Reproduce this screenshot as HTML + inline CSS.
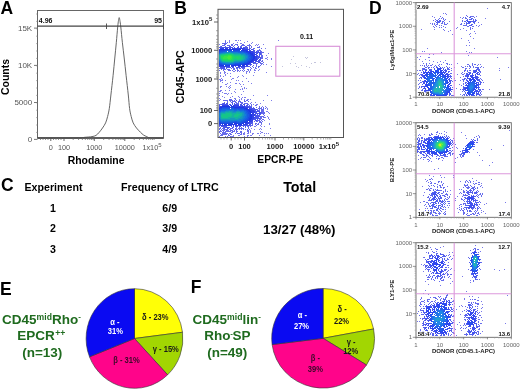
<!DOCTYPE html>
<html><head><meta charset="utf-8"><style>
html,body{margin:0;padding:0;background:#fff;}
body{width:520px;height:390px;overflow:hidden;position:relative;}
svg{position:absolute;left:0;top:0;font-family:"Liberation Sans", sans-serif;will-change:transform;}
</style></head><body>
<svg width="520" height="390" viewBox="0 0 520 390">
<g><path fill="#7d7dec" d="M225 40h1v1h-1zM229 40h1v1h-1zM235 40h1v1h-1zM236 40h1v1h-1zM238 40h1v1h-1zM240 40h1v1h-1zM278 40h1v1h-1zM229 41h1v1h-1zM247 41h1v1h-1zM229 42h1v1h-1zM237 42h1v1h-1zM244 42h1v1h-1zM252 42h1v1h-1zM233 43h1v1h-1zM240 43h1v1h-1zM241 43h1v1h-1zM251 43h1v1h-1zM219 44h1v1h-1zM256 44h1v1h-1zM258 44h1v1h-1zM263 44h1v1h-1zM255 45h1v1h-1zM257 45h1v1h-1zM259 46h1v1h-1zM265 48h1v1h-1zM268 53h1v1h-1zM266 55h1v1h-1zM267 57h1v1h-1zM265 58h1v1h-1zM266 58h1v1h-1zM271 58h1v1h-1zM267 59h1v1h-1zM271 59h1v1h-1zM263 64h1v1h-1zM266 64h1v1h-1zM271 66h1v1h-1zM256 68h1v1h-1zM254 69h1v1h-1zM259 69h1v1h-1zM250 70h1v1h-1zM254 70h1v1h-1zM255 70h1v1h-1zM258 70h1v1h-1zM233 71h1v1h-1zM234 71h1v1h-1zM237 71h1v1h-1zM239 71h1v1h-1zM243 71h1v1h-1zM246 71h1v1h-1zM247 71h1v1h-1zM249 71h1v1h-1zM220 72h1v1h-1zM224 72h1v1h-1zM225 72h1v1h-1zM246 72h1v1h-1zM249 72h1v1h-1zM254 72h1v1h-1zM266 72h1v1h-1zM220 73h1v1h-1zM224 73h1v1h-1zM227 73h1v1h-1zM230 73h1v1h-1zM246 73h1v1h-1zM225 74h1v1h-1zM220 75h1v1h-1zM225 75h1v1h-1zM242 75h1v1h-1zM253 75h1v1h-1zM220 76h1v1h-1zM223 76h1v1h-1zM230 76h1v1h-1zM238 76h1v1h-1zM243 76h1v1h-1zM237 77h1v1h-1zM221 78h1v1h-1zM232 78h1v1h-1zM233 78h1v1h-1zM246 78h1v1h-1zM219 79h1v1h-1zM220 79h1v1h-1zM222 79h1v1h-1zM231 79h1v1h-1zM220 80h1v1h-1zM221 80h1v1h-1zM222 80h1v1h-1zM225 80h1v1h-1zM236 80h1v1h-1zM238 80h1v1h-1zM220 81h1v1h-1zM242 81h1v1h-1zM248 81h1v1h-1zM222 82h1v1h-1zM230 82h1v1h-1zM227 83h1v1h-1zM235 83h1v1h-1zM236 83h1v1h-1zM239 83h1v1h-1zM251 83h1v1h-1zM225 84h1v1h-1zM226 84h1v1h-1zM240 84h1v1h-1zM243 84h1v1h-1zM230 85h1v1h-1zM220 86h1v1h-1zM221 86h1v1h-1zM226 86h1v1h-1zM229 86h1v1h-1zM241 86h1v1h-1zM220 87h1v1h-1zM228 87h1v1h-1zM230 87h1v1h-1zM244 87h1v1h-1zM229 88h1v1h-1zM242 88h1v1h-1zM244 88h1v1h-1zM246 88h1v1h-1zM235 89h1v1h-1zM240 89h1v1h-1zM242 89h1v1h-1zM220 90h1v1h-1zM221 90h1v1h-1zM225 90h1v1h-1zM229 90h1v1h-1zM219 91h1v1h-1zM220 91h1v1h-1zM234 91h1v1h-1zM243 91h1v1h-1zM222 92h1v1h-1zM235 92h1v1h-1zM219 93h1v1h-1zM224 93h1v1h-1zM225 93h1v1h-1zM226 93h1v1h-1zM228 93h1v1h-1zM231 93h1v1h-1zM227 94h1v1h-1zM241 94h1v1h-1zM219 95h1v1h-1zM253 95h1v1h-1zM267 95h1v1h-1zM222 96h1v1h-1zM232 96h1v1h-1zM238 96h1v1h-1zM224 97h1v1h-1zM230 97h1v1h-1zM239 97h1v1h-1zM242 97h1v1h-1zM244 97h1v1h-1zM245 97h1v1h-1zM219 98h1v1h-1zM234 98h1v1h-1zM235 98h1v1h-1zM241 98h1v1h-1zM220 99h1v1h-1zM239 99h1v1h-1zM241 99h1v1h-1zM244 99h1v1h-1zM247 99h1v1h-1zM248 99h1v1h-1zM250 99h1v1h-1zM219 100h1v1h-1zM263 100h1v1h-1zM271 100h1v1h-1zM251 102h1v1h-1zM255 102h1v1h-1zM260 103h1v1h-1zM253 104h1v1h-1zM256 104h1v1h-1zM257 104h1v1h-1zM256 105h1v1h-1zM262 106h1v1h-1zM265 106h1v1h-1zM266 107h1v1h-1zM267 108h1v1h-1zM267 109h1v1h-1zM266 111h1v1h-1zM267 111h1v1h-1zM268 112h1v1h-1zM269 113h1v1h-1zM267 116h1v1h-1zM265 117h1v1h-1zM268 117h1v1h-1zM268 118h1v1h-1zM269 119h1v1h-1zM264 120h1v1h-1zM269 123h1v1h-1zM261 124h1v1h-1zM269 124h1v1h-1zM260 125h1v1h-1zM254 126h1v1h-1zM255 126h1v1h-1zM261 126h1v1h-1zM264 126h1v1h-1zM251 128h1v1h-1zM260 128h1v1h-1zM270 128h1v1h-1zM254 129h1v1h-1zM259 129h1v1h-1zM261 129h1v1h-1zM250 130h1v1h-1zM250 131h1v1h-1zM260 131h1v1h-1zM244 132h1v1h-1zM250 132h1v1h-1zM261 132h1v1h-1zM262 132h1v1h-1zM244 133h1v1h-1zM247 133h1v1h-1zM248 133h1v1h-1zM252 133h1v1h-1zM253 133h1v1h-1zM257 133h1v1h-1zM258 133h1v1h-1zM260 133h1v1h-1zM264 133h1v1h-1zM266 133h1v1h-1zM268 133h1v1h-1zM243 134h1v1h-1zM244 134h1v1h-1zM252 134h1v1h-1zM233 135h1v1h-1zM238 135h1v1h-1zM239 135h1v1h-1zM247 135h1v1h-1zM248 135h1v1h-1zM250 135h1v1h-1zM251 135h1v1h-1zM259 135h1v1h-1zM264 135h1v1h-1zM270 135h1v1h-1zM219 136h1v1h-1zM231 136h1v1h-1zM232 136h1v1h-1zM233 136h1v1h-1zM244 136h1v1h-1zM247 136h1v1h-1z"/>
<path fill="#6469ea" d="M225 41h1v1h-1zM225 42h1v1h-1zM227 42h1v1h-1zM222 43h1v1h-1zM223 43h1v1h-1zM224 43h1v1h-1zM225 43h1v1h-1zM226 43h1v1h-1zM224 44h1v1h-1zM225 44h1v1h-1zM231 44h1v1h-1zM232 44h1v1h-1zM235 44h1v1h-1zM236 44h1v1h-1zM237 44h1v1h-1zM242 44h1v1h-1zM243 44h1v1h-1zM249 44h1v1h-1zM222 45h1v1h-1zM223 45h1v1h-1zM224 45h1v1h-1zM227 45h1v1h-1zM228 45h1v1h-1zM229 45h1v1h-1zM231 45h1v1h-1zM232 45h1v1h-1zM234 45h1v1h-1zM237 45h1v1h-1zM241 45h1v1h-1zM242 45h1v1h-1zM243 45h1v1h-1zM244 45h1v1h-1zM247 45h1v1h-1zM248 45h1v1h-1zM249 45h1v1h-1zM250 45h1v1h-1zM220 46h1v1h-1zM233 46h1v1h-1zM240 46h1v1h-1zM241 46h1v1h-1zM245 46h1v1h-1zM246 46h1v1h-1zM249 46h1v1h-1zM251 46h1v1h-1zM249 47h1v1h-1zM251 47h1v1h-1zM257 47h1v1h-1zM258 47h1v1h-1zM259 47h1v1h-1zM250 48h1v1h-1zM253 48h1v1h-1zM254 48h1v1h-1zM261 48h1v1h-1zM253 49h1v1h-1zM259 49h1v1h-1zM257 50h1v1h-1zM258 50h1v1h-1zM259 50h1v1h-1zM260 50h1v1h-1zM257 51h1v1h-1zM260 51h1v1h-1zM261 51h1v1h-1zM261 52h1v1h-1zM262 52h1v1h-1zM263 52h1v1h-1zM261 53h1v1h-1zM261 54h1v1h-1zM261 55h1v1h-1zM262 55h1v1h-1zM261 56h1v1h-1zM262 56h1v1h-1zM261 57h1v1h-1zM262 57h1v1h-1zM261 58h1v1h-1zM262 58h1v1h-1zM262 60h1v1h-1zM261 61h1v1h-1zM262 61h1v1h-1zM260 62h1v1h-1zM263 62h1v1h-1zM254 63h1v1h-1zM255 63h1v1h-1zM256 63h1v1h-1zM257 63h1v1h-1zM260 63h1v1h-1zM261 63h1v1h-1zM262 63h1v1h-1zM256 64h1v1h-1zM261 64h1v1h-1zM250 65h1v1h-1zM253 65h1v1h-1zM256 65h1v1h-1zM260 65h1v1h-1zM249 66h1v1h-1zM252 66h1v1h-1zM256 66h1v1h-1zM258 66h1v1h-1zM259 66h1v1h-1zM250 67h1v1h-1zM253 67h1v1h-1zM255 67h1v1h-1zM258 67h1v1h-1zM219 68h1v1h-1zM220 68h1v1h-1zM231 68h1v1h-1zM233 68h1v1h-1zM234 68h1v1h-1zM236 68h1v1h-1zM237 68h1v1h-1zM239 68h1v1h-1zM240 68h1v1h-1zM242 68h1v1h-1zM243 68h1v1h-1zM244 68h1v1h-1zM251 68h1v1h-1zM255 68h1v1h-1zM221 69h1v1h-1zM223 69h1v1h-1zM224 69h1v1h-1zM225 69h1v1h-1zM227 69h1v1h-1zM228 69h1v1h-1zM229 69h1v1h-1zM233 69h1v1h-1zM234 69h1v1h-1zM237 69h1v1h-1zM243 69h1v1h-1zM247 69h1v1h-1zM248 69h1v1h-1zM250 69h1v1h-1zM219 70h1v1h-1zM223 70h1v1h-1zM228 70h1v1h-1zM229 70h1v1h-1zM230 70h1v1h-1zM232 70h1v1h-1zM235 70h1v1h-1zM237 70h1v1h-1zM238 70h1v1h-1zM240 70h1v1h-1zM242 70h1v1h-1zM244 70h1v1h-1zM248 70h1v1h-1zM224 71h1v1h-1zM229 99h1v1h-1zM230 99h1v1h-1zM231 99h1v1h-1zM235 99h1v1h-1zM223 100h1v1h-1zM224 100h1v1h-1zM225 100h1v1h-1zM226 100h1v1h-1zM227 100h1v1h-1zM229 100h1v1h-1zM230 100h1v1h-1zM231 100h1v1h-1zM232 100h1v1h-1zM234 100h1v1h-1zM236 100h1v1h-1zM239 100h1v1h-1zM244 100h1v1h-1zM246 100h1v1h-1zM247 100h1v1h-1zM227 101h1v1h-1zM230 101h1v1h-1zM232 101h1v1h-1zM233 101h1v1h-1zM234 101h1v1h-1zM235 101h1v1h-1zM238 101h1v1h-1zM239 101h1v1h-1zM240 101h1v1h-1zM244 101h1v1h-1zM245 101h1v1h-1zM248 101h1v1h-1zM224 102h1v1h-1zM227 102h1v1h-1zM231 102h1v1h-1zM232 102h1v1h-1zM235 102h1v1h-1zM236 102h1v1h-1zM238 102h1v1h-1zM240 102h1v1h-1zM241 102h1v1h-1zM242 102h1v1h-1zM222 103h1v1h-1zM236 103h1v1h-1zM237 103h1v1h-1zM238 103h1v1h-1zM241 103h1v1h-1zM242 103h1v1h-1zM244 103h1v1h-1zM245 103h1v1h-1zM246 103h1v1h-1zM247 103h1v1h-1zM250 103h1v1h-1zM219 104h1v1h-1zM220 104h1v1h-1zM247 104h1v1h-1zM248 104h1v1h-1zM251 104h1v1h-1zM249 105h1v1h-1zM251 105h1v1h-1zM255 105h1v1h-1zM250 106h1v1h-1zM251 106h1v1h-1zM259 106h1v1h-1zM253 107h1v1h-1zM256 107h1v1h-1zM259 107h1v1h-1zM261 107h1v1h-1zM263 107h1v1h-1zM258 108h1v1h-1zM259 108h1v1h-1zM260 108h1v1h-1zM261 108h1v1h-1zM263 108h1v1h-1zM265 108h1v1h-1zM257 109h1v1h-1zM259 109h1v1h-1zM261 109h1v1h-1zM262 109h1v1h-1zM263 109h1v1h-1zM258 110h1v1h-1zM259 110h1v1h-1zM261 110h1v1h-1zM262 110h1v1h-1zM263 110h1v1h-1zM261 111h1v1h-1zM262 111h1v1h-1zM263 111h1v1h-1zM262 112h1v1h-1zM263 112h1v1h-1zM264 112h1v1h-1zM261 113h1v1h-1zM262 113h1v1h-1zM263 113h1v1h-1zM264 113h1v1h-1zM263 114h1v1h-1zM264 115h1v1h-1zM260 116h1v1h-1zM261 116h1v1h-1zM262 116h1v1h-1zM263 116h1v1h-1zM260 117h1v1h-1zM261 117h1v1h-1zM263 117h1v1h-1zM264 117h1v1h-1zM260 118h1v1h-1zM261 118h1v1h-1zM259 119h1v1h-1zM260 119h1v1h-1zM262 119h1v1h-1zM263 119h1v1h-1zM257 120h1v1h-1zM258 120h1v1h-1zM259 120h1v1h-1zM261 120h1v1h-1zM254 121h1v1h-1zM256 121h1v1h-1zM257 121h1v1h-1zM259 121h1v1h-1zM260 121h1v1h-1zM262 121h1v1h-1zM259 122h1v1h-1zM260 122h1v1h-1zM261 122h1v1h-1zM252 123h1v1h-1zM255 123h1v1h-1zM256 123h1v1h-1zM258 123h1v1h-1zM261 123h1v1h-1zM252 124h1v1h-1zM255 124h1v1h-1zM257 124h1v1h-1zM258 124h1v1h-1zM250 125h1v1h-1zM251 125h1v1h-1zM252 125h1v1h-1zM256 125h1v1h-1zM219 126h1v1h-1zM247 126h1v1h-1zM248 126h1v1h-1zM250 126h1v1h-1zM220 127h1v1h-1zM233 127h1v1h-1zM236 127h1v1h-1zM239 127h1v1h-1zM241 127h1v1h-1zM245 127h1v1h-1zM248 127h1v1h-1zM219 128h1v1h-1zM220 128h1v1h-1zM222 128h1v1h-1zM223 128h1v1h-1zM228 128h1v1h-1zM230 128h1v1h-1zM231 128h1v1h-1zM232 128h1v1h-1zM235 128h1v1h-1zM236 128h1v1h-1zM238 128h1v1h-1zM239 128h1v1h-1zM240 128h1v1h-1zM241 128h1v1h-1zM242 128h1v1h-1zM243 128h1v1h-1zM248 128h1v1h-1zM219 129h1v1h-1zM221 129h1v1h-1zM223 129h1v1h-1zM224 129h1v1h-1zM225 129h1v1h-1zM226 129h1v1h-1zM227 129h1v1h-1zM229 129h1v1h-1zM230 129h1v1h-1zM233 129h1v1h-1zM235 129h1v1h-1zM236 129h1v1h-1zM237 129h1v1h-1zM239 129h1v1h-1zM241 129h1v1h-1zM243 129h1v1h-1zM245 129h1v1h-1zM247 129h1v1h-1zM249 129h1v1h-1zM220 130h1v1h-1zM222 130h1v1h-1zM223 130h1v1h-1zM224 130h1v1h-1zM226 130h1v1h-1zM227 130h1v1h-1zM228 130h1v1h-1zM230 130h1v1h-1zM231 130h1v1h-1zM232 130h1v1h-1zM234 130h1v1h-1zM236 130h1v1h-1zM247 130h1v1h-1zM248 130h1v1h-1zM219 131h1v1h-1zM220 131h1v1h-1zM221 131h1v1h-1zM223 131h1v1h-1zM225 131h1v1h-1zM226 131h1v1h-1zM227 131h1v1h-1zM228 131h1v1h-1zM229 131h1v1h-1zM230 131h1v1h-1zM232 131h1v1h-1zM233 131h1v1h-1zM234 131h1v1h-1zM236 131h1v1h-1zM237 131h1v1h-1zM240 131h1v1h-1zM241 131h1v1h-1zM247 131h1v1h-1zM248 131h1v1h-1zM219 132h1v1h-1zM222 132h1v1h-1zM223 132h1v1h-1zM224 132h1v1h-1zM225 132h1v1h-1zM231 132h1v1h-1zM232 132h1v1h-1zM236 132h1v1h-1zM240 132h1v1h-1zM241 132h1v1h-1zM248 132h1v1h-1zM220 133h1v1h-1zM222 133h1v1h-1zM223 133h1v1h-1zM224 133h1v1h-1zM225 133h1v1h-1zM226 133h1v1h-1zM227 133h1v1h-1zM229 133h1v1h-1zM230 133h1v1h-1zM235 133h1v1h-1zM237 133h1v1h-1zM238 133h1v1h-1zM239 133h1v1h-1zM241 133h1v1h-1zM243 133h1v1h-1zM221 134h1v1h-1zM222 134h1v1h-1zM223 134h1v1h-1zM224 134h1v1h-1zM225 134h1v1h-1zM226 134h1v1h-1zM228 134h1v1h-1zM230 134h1v1h-1zM231 134h1v1h-1zM240 134h1v1h-1zM241 134h1v1h-1zM220 135h1v1h-1zM221 135h1v1h-1zM222 135h1v1h-1zM228 135h1v1h-1zM229 135h1v1h-1zM225 136h1v1h-1zM227 136h1v1h-1zM230 136h1v1h-1z"/>
<path fill="#4a55e8" d="M221 46h1v1h-1zM225 46h1v1h-1zM229 46h1v1h-1zM230 46h1v1h-1zM238 46h1v1h-1zM219 47h1v1h-1zM220 47h1v1h-1zM221 47h1v1h-1zM222 47h1v1h-1zM223 47h1v1h-1zM224 47h1v1h-1zM225 47h1v1h-1zM226 47h1v1h-1zM227 47h1v1h-1zM228 47h1v1h-1zM229 47h1v1h-1zM230 47h1v1h-1zM231 47h1v1h-1zM232 47h1v1h-1zM234 47h1v1h-1zM237 47h1v1h-1zM238 47h1v1h-1zM240 47h1v1h-1zM241 47h1v1h-1zM243 47h1v1h-1zM244 47h1v1h-1zM245 47h1v1h-1zM246 47h1v1h-1zM247 47h1v1h-1zM245 48h1v1h-1zM246 48h1v1h-1zM247 48h1v1h-1zM249 48h1v1h-1zM248 49h1v1h-1zM249 49h1v1h-1zM251 49h1v1h-1zM252 49h1v1h-1zM250 50h1v1h-1zM253 50h1v1h-1zM254 50h1v1h-1zM253 51h1v1h-1zM254 51h1v1h-1zM256 51h1v1h-1zM258 51h1v1h-1zM254 52h1v1h-1zM255 52h1v1h-1zM256 52h1v1h-1zM257 52h1v1h-1zM258 52h1v1h-1zM259 52h1v1h-1zM260 52h1v1h-1zM256 53h1v1h-1zM257 53h1v1h-1zM259 53h1v1h-1zM260 53h1v1h-1zM256 54h1v1h-1zM259 54h1v1h-1zM260 54h1v1h-1zM256 55h1v1h-1zM257 55h1v1h-1zM259 55h1v1h-1zM257 56h1v1h-1zM258 56h1v1h-1zM259 56h1v1h-1zM257 57h1v1h-1zM258 57h1v1h-1zM259 57h1v1h-1zM260 57h1v1h-1zM257 58h1v1h-1zM258 58h1v1h-1zM260 58h1v1h-1zM257 59h1v1h-1zM259 59h1v1h-1zM260 59h1v1h-1zM258 60h1v1h-1zM259 60h1v1h-1zM260 60h1v1h-1zM255 61h1v1h-1zM256 61h1v1h-1zM257 61h1v1h-1zM258 61h1v1h-1zM259 61h1v1h-1zM252 62h1v1h-1zM253 62h1v1h-1zM254 62h1v1h-1zM255 62h1v1h-1zM258 62h1v1h-1zM259 62h1v1h-1zM253 63h1v1h-1zM249 64h1v1h-1zM250 64h1v1h-1zM251 64h1v1h-1zM235 66h1v1h-1zM245 66h1v1h-1zM246 66h1v1h-1zM247 66h1v1h-1zM248 66h1v1h-1zM220 67h1v1h-1zM221 67h1v1h-1zM222 67h1v1h-1zM223 67h1v1h-1zM224 67h1v1h-1zM226 67h1v1h-1zM227 67h1v1h-1zM228 67h1v1h-1zM229 67h1v1h-1zM230 67h1v1h-1zM232 67h1v1h-1zM233 67h1v1h-1zM236 67h1v1h-1zM237 67h1v1h-1zM238 67h1v1h-1zM239 67h1v1h-1zM241 67h1v1h-1zM242 67h1v1h-1zM243 67h1v1h-1zM244 67h1v1h-1zM221 68h1v1h-1zM222 68h1v1h-1zM223 68h1v1h-1zM224 68h1v1h-1zM226 68h1v1h-1zM223 103h1v1h-1zM224 103h1v1h-1zM226 103h1v1h-1zM227 103h1v1h-1zM232 103h1v1h-1zM234 103h1v1h-1zM221 104h1v1h-1zM222 104h1v1h-1zM223 104h1v1h-1zM224 104h1v1h-1zM225 104h1v1h-1zM226 104h1v1h-1zM227 104h1v1h-1zM229 104h1v1h-1zM230 104h1v1h-1zM232 104h1v1h-1zM234 104h1v1h-1zM235 104h1v1h-1zM236 104h1v1h-1zM237 104h1v1h-1zM238 104h1v1h-1zM240 104h1v1h-1zM241 104h1v1h-1zM243 104h1v1h-1zM244 104h1v1h-1zM219 105h1v1h-1zM240 105h1v1h-1zM241 105h1v1h-1zM242 105h1v1h-1zM244 105h1v1h-1zM246 105h1v1h-1zM247 105h1v1h-1zM219 106h1v1h-1zM245 106h1v1h-1zM246 106h1v1h-1zM247 106h1v1h-1zM248 106h1v1h-1zM249 106h1v1h-1zM248 107h1v1h-1zM249 107h1v1h-1zM250 107h1v1h-1zM251 107h1v1h-1zM250 108h1v1h-1zM251 108h1v1h-1zM252 108h1v1h-1zM253 108h1v1h-1zM254 108h1v1h-1zM252 109h1v1h-1zM253 109h1v1h-1zM254 109h1v1h-1zM255 109h1v1h-1zM256 109h1v1h-1zM254 110h1v1h-1zM255 110h1v1h-1zM257 110h1v1h-1zM255 111h1v1h-1zM256 111h1v1h-1zM257 111h1v1h-1zM258 111h1v1h-1zM259 111h1v1h-1zM255 112h1v1h-1zM256 112h1v1h-1zM259 112h1v1h-1zM260 112h1v1h-1zM261 112h1v1h-1zM255 113h1v1h-1zM256 113h1v1h-1zM257 113h1v1h-1zM258 113h1v1h-1zM259 113h1v1h-1zM260 113h1v1h-1zM255 114h1v1h-1zM257 114h1v1h-1zM259 114h1v1h-1zM260 114h1v1h-1zM255 115h1v1h-1zM256 115h1v1h-1zM257 115h1v1h-1zM258 115h1v1h-1zM259 115h1v1h-1zM255 116h1v1h-1zM256 116h1v1h-1zM257 116h1v1h-1zM258 116h1v1h-1zM259 116h1v1h-1zM255 117h1v1h-1zM256 117h1v1h-1zM257 117h1v1h-1zM258 117h1v1h-1zM254 118h1v1h-1zM255 118h1v1h-1zM256 118h1v1h-1zM257 118h1v1h-1zM258 118h1v1h-1zM259 118h1v1h-1zM253 119h1v1h-1zM254 119h1v1h-1zM255 119h1v1h-1zM257 119h1v1h-1zM255 120h1v1h-1zM256 120h1v1h-1zM252 121h1v1h-1zM250 122h1v1h-1zM251 122h1v1h-1zM252 122h1v1h-1zM249 123h1v1h-1zM250 123h1v1h-1zM251 123h1v1h-1zM247 124h1v1h-1zM249 124h1v1h-1zM250 124h1v1h-1zM219 125h1v1h-1zM220 125h1v1h-1zM242 125h1v1h-1zM243 125h1v1h-1zM244 125h1v1h-1zM245 125h1v1h-1zM246 125h1v1h-1zM247 125h1v1h-1zM248 125h1v1h-1zM249 125h1v1h-1zM221 126h1v1h-1zM222 126h1v1h-1zM223 126h1v1h-1zM224 126h1v1h-1zM225 126h1v1h-1zM226 126h1v1h-1zM231 126h1v1h-1zM233 126h1v1h-1zM235 126h1v1h-1zM236 126h1v1h-1zM237 126h1v1h-1zM239 126h1v1h-1zM240 126h1v1h-1zM243 126h1v1h-1zM245 126h1v1h-1zM223 127h1v1h-1zM224 127h1v1h-1zM225 127h1v1h-1zM226 127h1v1h-1zM227 127h1v1h-1zM228 127h1v1h-1zM229 127h1v1h-1zM232 127h1v1h-1zM224 128h1v1h-1zM227 128h1v1h-1z"/>
<path fill="#3141e6" d="M220 48h1v1h-1zM221 48h1v1h-1zM222 48h1v1h-1zM223 48h1v1h-1zM225 48h1v1h-1zM226 48h1v1h-1zM227 48h1v1h-1zM229 48h1v1h-1zM230 48h1v1h-1zM232 48h1v1h-1zM233 48h1v1h-1zM234 48h1v1h-1zM235 48h1v1h-1zM236 48h1v1h-1zM237 48h1v1h-1zM238 48h1v1h-1zM239 48h1v1h-1zM240 48h1v1h-1zM241 48h1v1h-1zM242 48h1v1h-1zM243 48h1v1h-1zM244 48h1v1h-1zM219 49h1v1h-1zM242 49h1v1h-1zM243 49h1v1h-1zM244 49h1v1h-1zM245 49h1v1h-1zM246 49h1v1h-1zM247 49h1v1h-1zM247 50h1v1h-1zM249 50h1v1h-1zM249 51h1v1h-1zM250 51h1v1h-1zM251 51h1v1h-1zM252 51h1v1h-1zM251 52h1v1h-1zM252 52h1v1h-1zM253 52h1v1h-1zM253 53h1v1h-1zM254 53h1v1h-1zM253 54h1v1h-1zM254 54h1v1h-1zM255 54h1v1h-1zM254 55h1v1h-1zM255 56h1v1h-1zM256 56h1v1h-1zM255 57h1v1h-1zM256 57h1v1h-1zM255 58h1v1h-1zM256 58h1v1h-1zM254 59h1v1h-1zM255 59h1v1h-1zM256 59h1v1h-1zM253 60h1v1h-1zM254 60h1v1h-1zM255 60h1v1h-1zM256 60h1v1h-1zM252 61h1v1h-1zM253 61h1v1h-1zM250 62h1v1h-1zM251 62h1v1h-1zM249 63h1v1h-1zM250 63h1v1h-1zM247 64h1v1h-1zM248 64h1v1h-1zM219 65h1v1h-1zM236 65h1v1h-1zM237 65h1v1h-1zM244 65h1v1h-1zM246 65h1v1h-1zM247 65h1v1h-1zM219 66h1v1h-1zM220 66h1v1h-1zM221 66h1v1h-1zM222 66h1v1h-1zM223 66h1v1h-1zM224 66h1v1h-1zM225 66h1v1h-1zM226 66h1v1h-1zM227 66h1v1h-1zM228 66h1v1h-1zM229 66h1v1h-1zM231 66h1v1h-1zM232 66h1v1h-1zM233 66h1v1h-1zM238 66h1v1h-1zM239 66h1v1h-1zM240 66h1v1h-1zM241 66h1v1h-1zM242 66h1v1h-1zM243 66h1v1h-1zM244 66h1v1h-1zM222 105h1v1h-1zM223 105h1v1h-1zM224 105h1v1h-1zM225 105h1v1h-1zM226 105h1v1h-1zM227 105h1v1h-1zM228 105h1v1h-1zM230 105h1v1h-1zM231 105h1v1h-1zM233 105h1v1h-1zM234 105h1v1h-1zM235 105h1v1h-1zM236 105h1v1h-1zM237 105h1v1h-1zM238 105h1v1h-1zM220 106h1v1h-1zM221 106h1v1h-1zM234 106h1v1h-1zM235 106h1v1h-1zM236 106h1v1h-1zM237 106h1v1h-1zM238 106h1v1h-1zM239 106h1v1h-1zM240 106h1v1h-1zM241 106h1v1h-1zM242 106h1v1h-1zM243 106h1v1h-1zM244 106h1v1h-1zM219 107h1v1h-1zM244 107h1v1h-1zM245 107h1v1h-1zM246 107h1v1h-1zM247 107h1v1h-1zM247 108h1v1h-1zM249 108h1v1h-1zM249 109h1v1h-1zM250 109h1v1h-1zM251 109h1v1h-1zM250 110h1v1h-1zM251 110h1v1h-1zM252 110h1v1h-1zM253 110h1v1h-1zM251 111h1v1h-1zM252 111h1v1h-1zM253 111h1v1h-1zM254 111h1v1h-1zM252 112h1v1h-1zM253 112h1v1h-1zM254 112h1v1h-1zM252 113h1v1h-1zM253 113h1v1h-1zM252 114h1v1h-1zM253 114h1v1h-1zM254 114h1v1h-1zM252 115h1v1h-1zM253 115h1v1h-1zM254 115h1v1h-1zM252 116h1v1h-1zM253 116h1v1h-1zM252 117h1v1h-1zM253 117h1v1h-1zM254 117h1v1h-1zM252 118h1v1h-1zM253 118h1v1h-1zM251 119h1v1h-1zM252 119h1v1h-1zM250 120h1v1h-1zM251 120h1v1h-1zM252 120h1v1h-1zM249 121h1v1h-1zM250 121h1v1h-1zM251 121h1v1h-1zM247 122h1v1h-1zM248 122h1v1h-1zM249 122h1v1h-1zM245 123h1v1h-1zM246 123h1v1h-1zM247 123h1v1h-1zM248 123h1v1h-1zM219 124h1v1h-1zM220 124h1v1h-1zM233 124h1v1h-1zM234 124h1v1h-1zM235 124h1v1h-1zM236 124h1v1h-1zM243 124h1v1h-1zM244 124h1v1h-1zM245 124h1v1h-1zM246 124h1v1h-1zM221 125h1v1h-1zM222 125h1v1h-1zM223 125h1v1h-1zM224 125h1v1h-1zM225 125h1v1h-1zM226 125h1v1h-1zM227 125h1v1h-1zM228 125h1v1h-1zM229 125h1v1h-1zM230 125h1v1h-1zM231 125h1v1h-1zM233 125h1v1h-1zM235 125h1v1h-1zM236 125h1v1h-1zM237 125h1v1h-1zM238 125h1v1h-1zM239 125h1v1h-1zM240 125h1v1h-1zM241 125h1v1h-1z"/>
<path fill="#1d36e4" d="M220 49h1v1h-1zM221 49h1v1h-1zM222 49h1v1h-1zM223 49h1v1h-1zM224 49h1v1h-1zM225 49h1v1h-1zM226 49h1v1h-1zM227 49h1v1h-1zM229 49h1v1h-1zM230 49h1v1h-1zM231 49h1v1h-1zM232 49h1v1h-1zM233 49h1v1h-1zM234 49h1v1h-1zM235 49h1v1h-1zM236 49h1v1h-1zM237 49h1v1h-1zM238 49h1v1h-1zM239 49h1v1h-1zM240 49h1v1h-1zM219 50h1v1h-1zM242 50h1v1h-1zM243 50h1v1h-1zM244 50h1v1h-1zM245 50h1v1h-1zM246 50h1v1h-1zM246 51h1v1h-1zM247 51h1v1h-1zM248 51h1v1h-1zM249 52h1v1h-1zM250 52h1v1h-1zM250 53h1v1h-1zM251 53h1v1h-1zM252 53h1v1h-1zM251 54h1v1h-1zM252 54h1v1h-1zM252 55h1v1h-1zM253 55h1v1h-1zM253 56h1v1h-1zM254 56h1v1h-1zM253 57h1v1h-1zM254 57h1v1h-1zM253 58h1v1h-1zM254 58h1v1h-1zM252 59h1v1h-1zM253 59h1v1h-1zM251 60h1v1h-1zM252 60h1v1h-1zM250 61h1v1h-1zM251 61h1v1h-1zM249 62h1v1h-1zM247 63h1v1h-1zM248 63h1v1h-1zM219 64h1v1h-1zM243 64h1v1h-1zM244 64h1v1h-1zM245 64h1v1h-1zM246 64h1v1h-1zM220 65h1v1h-1zM221 65h1v1h-1zM222 65h1v1h-1zM223 65h1v1h-1zM229 65h1v1h-1zM231 65h1v1h-1zM232 65h1v1h-1zM233 65h1v1h-1zM234 65h1v1h-1zM235 65h1v1h-1zM238 65h1v1h-1zM239 65h1v1h-1zM240 65h1v1h-1zM242 65h1v1h-1zM243 65h1v1h-1zM222 106h1v1h-1zM223 106h1v1h-1zM224 106h1v1h-1zM225 106h1v1h-1zM226 106h1v1h-1zM227 106h1v1h-1zM228 106h1v1h-1zM229 106h1v1h-1zM231 106h1v1h-1zM232 106h1v1h-1zM233 106h1v1h-1zM220 107h1v1h-1zM221 107h1v1h-1zM234 107h1v1h-1zM235 107h1v1h-1zM236 107h1v1h-1zM237 107h1v1h-1zM238 107h1v1h-1zM239 107h1v1h-1zM240 107h1v1h-1zM241 107h1v1h-1zM242 107h1v1h-1zM243 107h1v1h-1zM219 108h1v1h-1zM244 108h1v1h-1zM245 108h1v1h-1zM246 108h1v1h-1zM246 109h1v1h-1zM247 109h1v1h-1zM248 109h1v1h-1zM248 110h1v1h-1zM249 110h1v1h-1zM249 111h1v1h-1zM250 111h1v1h-1zM250 112h1v1h-1zM251 112h1v1h-1zM250 113h1v1h-1zM250 114h1v1h-1zM251 114h1v1h-1zM250 115h1v1h-1zM251 115h1v1h-1zM250 116h1v1h-1zM251 116h1v1h-1zM250 117h1v1h-1zM251 117h1v1h-1zM249 118h1v1h-1zM250 118h1v1h-1zM251 118h1v1h-1zM249 119h1v1h-1zM250 119h1v1h-1zM248 120h1v1h-1zM249 120h1v1h-1zM247 121h1v1h-1zM244 122h1v1h-1zM245 122h1v1h-1zM246 122h1v1h-1zM219 123h1v1h-1zM220 123h1v1h-1zM234 123h1v1h-1zM235 123h1v1h-1zM236 123h1v1h-1zM242 123h1v1h-1zM243 123h1v1h-1zM222 124h1v1h-1zM224 124h1v1h-1zM225 124h1v1h-1zM226 124h1v1h-1zM228 124h1v1h-1zM229 124h1v1h-1zM230 124h1v1h-1zM231 124h1v1h-1zM232 124h1v1h-1zM238 124h1v1h-1zM239 124h1v1h-1zM240 124h1v1h-1zM241 124h1v1h-1z"/>
<path fill="#1b48e3" d="M228 49h1v1h-1zM220 50h1v1h-1zM221 50h1v1h-1zM222 50h1v1h-1zM223 50h1v1h-1zM224 50h1v1h-1zM225 50h1v1h-1zM230 50h1v1h-1zM231 50h1v1h-1zM233 50h1v1h-1zM234 50h1v1h-1zM235 50h1v1h-1zM236 50h1v1h-1zM237 50h1v1h-1zM238 50h1v1h-1zM239 50h1v1h-1zM241 50h1v1h-1zM219 51h1v1h-1zM243 51h1v1h-1zM244 51h1v1h-1zM245 51h1v1h-1zM246 52h1v1h-1zM247 52h1v1h-1zM248 52h1v1h-1zM248 53h1v1h-1zM249 53h1v1h-1zM250 54h1v1h-1zM250 55h1v1h-1zM251 55h1v1h-1zM251 56h1v1h-1zM252 56h1v1h-1zM251 57h1v1h-1zM252 57h1v1h-1zM251 58h1v1h-1zM252 58h1v1h-1zM250 59h1v1h-1zM251 59h1v1h-1zM250 60h1v1h-1zM248 61h1v1h-1zM249 61h1v1h-1zM247 62h1v1h-1zM248 62h1v1h-1zM219 63h1v1h-1zM243 63h1v1h-1zM244 63h1v1h-1zM245 63h1v1h-1zM246 63h1v1h-1zM220 64h1v1h-1zM221 64h1v1h-1zM234 64h1v1h-1zM235 64h1v1h-1zM236 64h1v1h-1zM237 64h1v1h-1zM238 64h1v1h-1zM239 64h1v1h-1zM240 64h1v1h-1zM241 64h1v1h-1zM242 64h1v1h-1zM225 65h1v1h-1zM226 65h1v1h-1zM227 65h1v1h-1zM228 65h1v1h-1zM222 107h1v1h-1zM223 107h1v1h-1zM224 107h1v1h-1zM225 107h1v1h-1zM226 107h1v1h-1zM227 107h1v1h-1zM228 107h1v1h-1zM229 107h1v1h-1zM230 107h1v1h-1zM231 107h1v1h-1zM232 107h1v1h-1zM233 107h1v1h-1zM220 108h1v1h-1zM221 108h1v1h-1zM234 108h1v1h-1zM235 108h1v1h-1zM236 108h1v1h-1zM237 108h1v1h-1zM238 108h1v1h-1zM239 108h1v1h-1zM240 108h1v1h-1zM241 108h1v1h-1zM242 108h1v1h-1zM243 108h1v1h-1zM219 109h1v1h-1zM244 109h1v1h-1zM245 109h1v1h-1zM246 110h1v1h-1zM247 110h1v1h-1zM247 111h1v1h-1zM248 111h1v1h-1zM248 112h1v1h-1zM249 112h1v1h-1zM248 113h1v1h-1zM249 113h1v1h-1zM249 114h1v1h-1zM249 115h1v1h-1zM249 116h1v1h-1zM248 117h1v1h-1zM249 117h1v1h-1zM248 118h1v1h-1zM247 119h1v1h-1zM248 119h1v1h-1zM246 120h1v1h-1zM247 120h1v1h-1zM219 121h1v1h-1zM244 121h1v1h-1zM245 121h1v1h-1zM246 121h1v1h-1zM219 122h1v1h-1zM220 122h1v1h-1zM233 122h1v1h-1zM234 122h1v1h-1zM235 122h1v1h-1zM236 122h1v1h-1zM242 122h1v1h-1zM243 122h1v1h-1zM221 123h1v1h-1zM222 123h1v1h-1zM223 123h1v1h-1zM224 123h1v1h-1zM225 123h1v1h-1zM226 123h1v1h-1zM227 123h1v1h-1zM228 123h1v1h-1zM229 123h1v1h-1zM230 123h1v1h-1zM231 123h1v1h-1zM232 123h1v1h-1zM237 123h1v1h-1zM238 123h1v1h-1zM239 123h1v1h-1zM240 123h1v1h-1zM241 123h1v1h-1z"/>
<path fill="#1859e2" d="M226 50h1v1h-1zM227 50h1v1h-1zM228 50h1v1h-1zM229 50h1v1h-1zM220 51h1v1h-1zM221 51h1v1h-1zM222 51h1v1h-1zM223 51h1v1h-1zM224 51h1v1h-1zM233 51h1v1h-1zM234 51h1v1h-1zM235 51h1v1h-1zM236 51h1v1h-1zM237 51h1v1h-1zM238 51h1v1h-1zM239 51h1v1h-1zM240 51h1v1h-1zM241 51h1v1h-1zM242 51h1v1h-1zM219 52h1v1h-1zM244 52h1v1h-1zM245 52h1v1h-1zM247 53h1v1h-1zM248 54h1v1h-1zM249 54h1v1h-1zM249 55h1v1h-1zM249 56h1v1h-1zM250 56h1v1h-1zM250 57h1v1h-1zM249 58h1v1h-1zM250 58h1v1h-1zM249 59h1v1h-1zM248 60h1v1h-1zM249 60h1v1h-1zM247 61h1v1h-1zM219 62h1v1h-1zM244 62h1v1h-1zM245 62h1v1h-1zM246 62h1v1h-1zM220 63h1v1h-1zM221 63h1v1h-1zM235 63h1v1h-1zM236 63h1v1h-1zM237 63h1v1h-1zM238 63h1v1h-1zM239 63h1v1h-1zM240 63h1v1h-1zM241 63h1v1h-1zM242 63h1v1h-1zM222 64h1v1h-1zM223 64h1v1h-1zM224 64h1v1h-1zM225 64h1v1h-1zM226 64h1v1h-1zM227 64h1v1h-1zM228 64h1v1h-1zM229 64h1v1h-1zM230 64h1v1h-1zM231 64h1v1h-1zM232 64h1v1h-1zM233 64h1v1h-1zM222 108h1v1h-1zM223 108h1v1h-1zM224 108h1v1h-1zM225 108h1v1h-1zM226 108h1v1h-1zM227 108h1v1h-1zM228 108h1v1h-1zM229 108h1v1h-1zM231 108h1v1h-1zM232 108h1v1h-1zM233 108h1v1h-1zM220 109h1v1h-1zM221 109h1v1h-1zM234 109h1v1h-1zM235 109h1v1h-1zM236 109h1v1h-1zM238 109h1v1h-1zM239 109h1v1h-1zM240 109h1v1h-1zM241 109h1v1h-1zM242 109h1v1h-1zM243 109h1v1h-1zM219 110h1v1h-1zM220 110h1v1h-1zM244 110h1v1h-1zM245 110h1v1h-1zM219 111h1v1h-1zM246 111h1v1h-1zM246 112h1v1h-1zM247 112h1v1h-1zM247 113h1v1h-1zM247 114h1v1h-1zM248 114h1v1h-1zM247 115h1v1h-1zM248 115h1v1h-1zM247 116h1v1h-1zM248 116h1v1h-1zM247 117h1v1h-1zM246 118h1v1h-1zM247 118h1v1h-1zM245 119h1v1h-1zM246 119h1v1h-1zM219 120h1v1h-1zM243 120h1v1h-1zM244 120h1v1h-1zM245 120h1v1h-1zM220 121h1v1h-1zM234 121h1v1h-1zM235 121h1v1h-1zM236 121h1v1h-1zM241 121h1v1h-1zM242 121h1v1h-1zM243 121h1v1h-1zM221 122h1v1h-1zM222 122h1v1h-1zM223 122h1v1h-1zM224 122h1v1h-1zM225 122h1v1h-1zM226 122h1v1h-1zM227 122h1v1h-1zM228 122h1v1h-1zM229 122h1v1h-1zM230 122h1v1h-1zM231 122h1v1h-1zM232 122h1v1h-1zM237 122h1v1h-1zM238 122h1v1h-1zM239 122h1v1h-1zM240 122h1v1h-1zM241 122h1v1h-1z"/>
<path fill="#156ae1" d="M225 51h1v1h-1zM226 51h1v1h-1zM228 51h1v1h-1zM229 51h1v1h-1zM230 51h1v1h-1zM231 51h1v1h-1zM232 51h1v1h-1zM220 52h1v1h-1zM221 52h1v1h-1zM222 52h1v1h-1zM238 52h1v1h-1zM239 52h1v1h-1zM240 52h1v1h-1zM241 52h1v1h-1zM242 52h1v1h-1zM243 52h1v1h-1zM219 53h1v1h-1zM245 53h1v1h-1zM246 53h1v1h-1zM246 54h1v1h-1zM247 54h1v1h-1zM248 55h1v1h-1zM248 56h1v1h-1zM248 57h1v1h-1zM249 57h1v1h-1zM248 58h1v1h-1zM247 59h1v1h-1zM248 59h1v1h-1zM246 60h1v1h-1zM247 60h1v1h-1zM219 61h1v1h-1zM244 61h1v1h-1zM245 61h1v1h-1zM246 61h1v1h-1zM220 62h1v1h-1zM239 62h1v1h-1zM240 62h1v1h-1zM241 62h1v1h-1zM242 62h1v1h-1zM243 62h1v1h-1zM222 63h1v1h-1zM223 63h1v1h-1zM224 63h1v1h-1zM233 63h1v1h-1zM234 63h1v1h-1zM222 109h1v1h-1zM223 109h1v1h-1zM224 109h1v1h-1zM225 109h1v1h-1zM226 109h1v1h-1zM227 109h1v1h-1zM228 109h1v1h-1zM229 109h1v1h-1zM230 109h1v1h-1zM231 109h1v1h-1zM232 109h1v1h-1zM233 109h1v1h-1zM237 109h1v1h-1zM221 110h1v1h-1zM222 110h1v1h-1zM223 110h1v1h-1zM224 110h1v1h-1zM225 110h1v1h-1zM234 110h1v1h-1zM235 110h1v1h-1zM236 110h1v1h-1zM239 110h1v1h-1zM240 110h1v1h-1zM241 110h1v1h-1zM242 110h1v1h-1zM243 110h1v1h-1zM220 111h1v1h-1zM244 111h1v1h-1zM245 111h1v1h-1zM219 112h1v1h-1zM245 112h1v1h-1zM245 113h1v1h-1zM246 113h1v1h-1zM246 114h1v1h-1zM246 115h1v1h-1zM245 116h1v1h-1zM246 116h1v1h-1zM245 117h1v1h-1zM246 117h1v1h-1zM219 118h1v1h-1zM244 118h1v1h-1zM245 118h1v1h-1zM219 119h1v1h-1zM243 119h1v1h-1zM244 119h1v1h-1zM220 120h1v1h-1zM241 120h1v1h-1zM242 120h1v1h-1zM221 121h1v1h-1zM222 121h1v1h-1zM223 121h1v1h-1zM224 121h1v1h-1zM225 121h1v1h-1zM226 121h1v1h-1zM227 121h1v1h-1zM228 121h1v1h-1zM229 121h1v1h-1zM230 121h1v1h-1zM231 121h1v1h-1zM232 121h1v1h-1zM233 121h1v1h-1zM237 121h1v1h-1zM238 121h1v1h-1zM239 121h1v1h-1zM240 121h1v1h-1z"/>
<path fill="#1480d4" d="M223 52h1v1h-1zM224 52h1v1h-1zM225 52h1v1h-1zM226 52h1v1h-1zM231 52h1v1h-1zM232 52h1v1h-1zM233 52h1v1h-1zM234 52h1v1h-1zM235 52h1v1h-1zM236 52h1v1h-1zM237 52h1v1h-1zM220 53h1v1h-1zM240 53h1v1h-1zM241 53h1v1h-1zM242 53h1v1h-1zM243 53h1v1h-1zM244 53h1v1h-1zM245 54h1v1h-1zM246 55h1v1h-1zM247 55h1v1h-1zM247 56h1v1h-1zM247 57h1v1h-1zM246 58h1v1h-1zM247 58h1v1h-1zM246 59h1v1h-1zM219 60h1v1h-1zM244 60h1v1h-1zM245 60h1v1h-1zM220 61h1v1h-1zM241 61h1v1h-1zM242 61h1v1h-1zM243 61h1v1h-1zM221 62h1v1h-1zM222 62h1v1h-1zM234 62h1v1h-1zM235 62h1v1h-1zM236 62h1v1h-1zM237 62h1v1h-1zM238 62h1v1h-1zM225 63h1v1h-1zM226 63h1v1h-1zM227 63h1v1h-1zM228 63h1v1h-1zM229 63h1v1h-1zM230 63h1v1h-1zM231 63h1v1h-1zM232 63h1v1h-1zM226 110h1v1h-1zM227 110h1v1h-1zM228 110h1v1h-1zM229 110h1v1h-1zM230 110h1v1h-1zM231 110h1v1h-1zM232 110h1v1h-1zM233 110h1v1h-1zM237 110h1v1h-1zM238 110h1v1h-1zM221 111h1v1h-1zM222 111h1v1h-1zM223 111h1v1h-1zM224 111h1v1h-1zM233 111h1v1h-1zM234 111h1v1h-1zM235 111h1v1h-1zM240 111h1v1h-1zM241 111h1v1h-1zM242 111h1v1h-1zM243 111h1v1h-1zM220 112h1v1h-1zM243 112h1v1h-1zM244 112h1v1h-1zM219 113h1v1h-1zM244 113h1v1h-1zM219 114h1v1h-1zM244 114h1v1h-1zM245 114h1v1h-1zM219 115h1v1h-1zM244 115h1v1h-1zM245 115h1v1h-1zM219 116h1v1h-1zM243 116h1v1h-1zM244 116h1v1h-1zM219 117h1v1h-1zM243 117h1v1h-1zM244 117h1v1h-1zM242 118h1v1h-1zM243 118h1v1h-1zM220 119h1v1h-1zM239 119h1v1h-1zM240 119h1v1h-1zM241 119h1v1h-1zM242 119h1v1h-1zM221 120h1v1h-1zM222 120h1v1h-1zM223 120h1v1h-1zM224 120h1v1h-1zM225 120h1v1h-1zM226 120h1v1h-1zM227 120h1v1h-1zM228 120h1v1h-1zM229 120h1v1h-1zM230 120h1v1h-1zM231 120h1v1h-1zM232 120h1v1h-1zM233 120h1v1h-1zM234 120h1v1h-1zM235 120h1v1h-1zM236 120h1v1h-1zM237 120h1v1h-1zM238 120h1v1h-1zM239 120h1v1h-1zM240 120h1v1h-1z"/>
<path fill="#1498bc" d="M227 52h1v1h-1zM228 52h1v1h-1zM229 52h1v1h-1zM230 52h1v1h-1zM221 53h1v1h-1zM222 53h1v1h-1zM223 53h1v1h-1zM224 53h1v1h-1zM233 53h1v1h-1zM234 53h1v1h-1zM235 53h1v1h-1zM236 53h1v1h-1zM237 53h1v1h-1zM238 53h1v1h-1zM239 53h1v1h-1zM219 54h1v1h-1zM241 54h1v1h-1zM242 54h1v1h-1zM243 54h1v1h-1zM244 54h1v1h-1zM244 55h1v1h-1zM245 55h1v1h-1zM245 56h1v1h-1zM246 56h1v1h-1zM245 57h1v1h-1zM246 57h1v1h-1zM245 58h1v1h-1zM219 59h1v1h-1zM244 59h1v1h-1zM245 59h1v1h-1zM220 60h1v1h-1zM242 60h1v1h-1zM243 60h1v1h-1zM221 61h1v1h-1zM234 61h1v1h-1zM235 61h1v1h-1zM236 61h1v1h-1zM237 61h1v1h-1zM238 61h1v1h-1zM239 61h1v1h-1zM240 61h1v1h-1zM223 62h1v1h-1zM224 62h1v1h-1zM225 62h1v1h-1zM226 62h1v1h-1zM227 62h1v1h-1zM228 62h1v1h-1zM229 62h1v1h-1zM231 62h1v1h-1zM232 62h1v1h-1zM233 62h1v1h-1zM225 111h1v1h-1zM226 111h1v1h-1zM227 111h1v1h-1zM228 111h1v1h-1zM230 111h1v1h-1zM231 111h1v1h-1zM232 111h1v1h-1zM236 111h1v1h-1zM237 111h1v1h-1zM238 111h1v1h-1zM239 111h1v1h-1zM221 112h1v1h-1zM222 112h1v1h-1zM223 112h1v1h-1zM224 112h1v1h-1zM232 112h1v1h-1zM233 112h1v1h-1zM234 112h1v1h-1zM235 112h1v1h-1zM240 112h1v1h-1zM241 112h1v1h-1zM242 112h1v1h-1zM220 113h1v1h-1zM242 113h1v1h-1zM243 113h1v1h-1zM220 114h1v1h-1zM242 114h1v1h-1zM243 114h1v1h-1zM220 115h1v1h-1zM242 115h1v1h-1zM243 115h1v1h-1zM220 116h1v1h-1zM241 116h1v1h-1zM242 116h1v1h-1zM220 117h1v1h-1zM240 117h1v1h-1zM241 117h1v1h-1zM242 117h1v1h-1zM220 118h1v1h-1zM230 118h1v1h-1zM231 118h1v1h-1zM232 118h1v1h-1zM233 118h1v1h-1zM234 118h1v1h-1zM238 118h1v1h-1zM239 118h1v1h-1zM240 118h1v1h-1zM241 118h1v1h-1zM221 119h1v1h-1zM222 119h1v1h-1zM223 119h1v1h-1zM224 119h1v1h-1zM225 119h1v1h-1zM226 119h1v1h-1zM227 119h1v1h-1zM228 119h1v1h-1zM229 119h1v1h-1zM230 119h1v1h-1zM231 119h1v1h-1zM232 119h1v1h-1zM233 119h1v1h-1zM234 119h1v1h-1zM235 119h1v1h-1zM236 119h1v1h-1zM237 119h1v1h-1zM238 119h1v1h-1z"/>
<path fill="#14b2a2" d="M225 53h1v1h-1zM226 53h1v1h-1zM227 53h1v1h-1zM228 53h1v1h-1zM230 53h1v1h-1zM231 53h1v1h-1zM232 53h1v1h-1zM220 54h1v1h-1zM221 54h1v1h-1zM234 54h1v1h-1zM235 54h1v1h-1zM236 54h1v1h-1zM237 54h1v1h-1zM238 54h1v1h-1zM239 54h1v1h-1zM240 54h1v1h-1zM219 55h1v1h-1zM241 55h1v1h-1zM242 55h1v1h-1zM243 55h1v1h-1zM219 56h1v1h-1zM243 56h1v1h-1zM244 56h1v1h-1zM219 57h1v1h-1zM243 57h1v1h-1zM244 57h1v1h-1zM219 58h1v1h-1zM243 58h1v1h-1zM244 58h1v1h-1zM220 59h1v1h-1zM242 59h1v1h-1zM243 59h1v1h-1zM221 60h1v1h-1zM235 60h1v1h-1zM236 60h1v1h-1zM237 60h1v1h-1zM238 60h1v1h-1zM239 60h1v1h-1zM240 60h1v1h-1zM241 60h1v1h-1zM222 61h1v1h-1zM223 61h1v1h-1zM224 61h1v1h-1zM233 61h1v1h-1zM230 62h1v1h-1zM229 111h1v1h-1zM225 112h1v1h-1zM226 112h1v1h-1zM227 112h1v1h-1zM228 112h1v1h-1zM229 112h1v1h-1zM230 112h1v1h-1zM231 112h1v1h-1zM236 112h1v1h-1zM237 112h1v1h-1zM238 112h1v1h-1zM239 112h1v1h-1zM221 113h1v1h-1zM222 113h1v1h-1zM223 113h1v1h-1zM224 113h1v1h-1zM225 113h1v1h-1zM231 113h1v1h-1zM232 113h1v1h-1zM233 113h1v1h-1zM234 113h1v1h-1zM235 113h1v1h-1zM236 113h1v1h-1zM238 113h1v1h-1zM239 113h1v1h-1zM240 113h1v1h-1zM241 113h1v1h-1zM221 114h1v1h-1zM232 114h1v1h-1zM233 114h1v1h-1zM234 114h1v1h-1zM240 114h1v1h-1zM241 114h1v1h-1zM232 115h1v1h-1zM233 115h1v1h-1zM239 115h1v1h-1zM240 115h1v1h-1zM241 115h1v1h-1zM231 116h1v1h-1zM232 116h1v1h-1zM233 116h1v1h-1zM238 116h1v1h-1zM239 116h1v1h-1zM240 116h1v1h-1zM221 117h1v1h-1zM228 117h1v1h-1zM229 117h1v1h-1zM230 117h1v1h-1zM231 117h1v1h-1zM232 117h1v1h-1zM233 117h1v1h-1zM234 117h1v1h-1zM235 117h1v1h-1zM236 117h1v1h-1zM237 117h1v1h-1zM238 117h1v1h-1zM239 117h1v1h-1zM221 118h1v1h-1zM222 118h1v1h-1zM223 118h1v1h-1zM224 118h1v1h-1zM225 118h1v1h-1zM226 118h1v1h-1zM227 118h1v1h-1zM228 118h1v1h-1zM229 118h1v1h-1zM235 118h1v1h-1zM236 118h1v1h-1zM237 118h1v1h-1z"/>
<path fill="#16c589" d="M229 53h1v1h-1zM222 54h1v1h-1zM223 54h1v1h-1zM224 54h1v1h-1zM225 54h1v1h-1zM232 54h1v1h-1zM233 54h1v1h-1zM220 55h1v1h-1zM234 55h1v1h-1zM235 55h1v1h-1zM236 55h1v1h-1zM237 55h1v1h-1zM238 55h1v1h-1zM239 55h1v1h-1zM240 55h1v1h-1zM220 56h1v1h-1zM240 56h1v1h-1zM241 56h1v1h-1zM242 56h1v1h-1zM220 57h1v1h-1zM241 57h1v1h-1zM242 57h1v1h-1zM220 58h1v1h-1zM241 58h1v1h-1zM242 58h1v1h-1zM221 59h1v1h-1zM234 59h1v1h-1zM235 59h1v1h-1zM236 59h1v1h-1zM239 59h1v1h-1zM240 59h1v1h-1zM241 59h1v1h-1zM222 60h1v1h-1zM233 60h1v1h-1zM234 60h1v1h-1zM225 61h1v1h-1zM226 61h1v1h-1zM227 61h1v1h-1zM228 61h1v1h-1zM229 61h1v1h-1zM230 61h1v1h-1zM231 61h1v1h-1zM232 61h1v1h-1zM226 113h1v1h-1zM227 113h1v1h-1zM228 113h1v1h-1zM229 113h1v1h-1zM230 113h1v1h-1zM237 113h1v1h-1zM222 114h1v1h-1zM223 114h1v1h-1zM224 114h1v1h-1zM225 114h1v1h-1zM226 114h1v1h-1zM227 114h1v1h-1zM228 114h1v1h-1zM229 114h1v1h-1zM230 114h1v1h-1zM231 114h1v1h-1zM235 114h1v1h-1zM236 114h1v1h-1zM237 114h1v1h-1zM238 114h1v1h-1zM239 114h1v1h-1zM221 115h1v1h-1zM222 115h1v1h-1zM223 115h1v1h-1zM224 115h1v1h-1zM225 115h1v1h-1zM226 115h1v1h-1zM227 115h1v1h-1zM228 115h1v1h-1zM229 115h1v1h-1zM230 115h1v1h-1zM231 115h1v1h-1zM234 115h1v1h-1zM235 115h1v1h-1zM236 115h1v1h-1zM237 115h1v1h-1zM238 115h1v1h-1zM221 116h1v1h-1zM222 116h1v1h-1zM223 116h1v1h-1zM224 116h1v1h-1zM225 116h1v1h-1zM226 116h1v1h-1zM227 116h1v1h-1zM228 116h1v1h-1zM229 116h1v1h-1zM230 116h1v1h-1zM234 116h1v1h-1zM235 116h1v1h-1zM236 116h1v1h-1zM237 116h1v1h-1zM222 117h1v1h-1zM223 117h1v1h-1zM224 117h1v1h-1zM225 117h1v1h-1zM226 117h1v1h-1zM227 117h1v1h-1z"/>
<path fill="#1bd26e" d="M226 54h1v1h-1zM227 54h1v1h-1zM228 54h1v1h-1zM229 54h1v1h-1zM230 54h1v1h-1zM231 54h1v1h-1zM221 55h1v1h-1zM222 55h1v1h-1zM223 55h1v1h-1zM232 55h1v1h-1zM233 55h1v1h-1zM233 56h1v1h-1zM234 56h1v1h-1zM235 56h1v1h-1zM236 56h1v1h-1zM237 56h1v1h-1zM238 56h1v1h-1zM239 56h1v1h-1zM234 57h1v1h-1zM235 57h1v1h-1zM236 57h1v1h-1zM238 57h1v1h-1zM239 57h1v1h-1zM240 57h1v1h-1zM221 58h1v1h-1zM233 58h1v1h-1zM234 58h1v1h-1zM235 58h1v1h-1zM236 58h1v1h-1zM237 58h1v1h-1zM238 58h1v1h-1zM239 58h1v1h-1zM240 58h1v1h-1zM222 59h1v1h-1zM233 59h1v1h-1zM237 59h1v1h-1zM238 59h1v1h-1zM223 60h1v1h-1zM224 60h1v1h-1zM225 60h1v1h-1zM226 60h1v1h-1zM227 60h1v1h-1zM228 60h1v1h-1zM229 60h1v1h-1zM230 60h1v1h-1zM231 60h1v1h-1zM232 60h1v1h-1z"/>
<path fill="#22dd57" d="M224 55h1v1h-1zM225 55h1v1h-1zM226 55h1v1h-1zM227 55h1v1h-1zM231 55h1v1h-1zM221 56h1v1h-1zM222 56h1v1h-1zM223 56h1v1h-1zM232 56h1v1h-1zM221 57h1v1h-1zM222 57h1v1h-1zM232 57h1v1h-1zM233 57h1v1h-1zM237 57h1v1h-1zM222 58h1v1h-1zM232 58h1v1h-1zM223 59h1v1h-1zM224 59h1v1h-1zM225 59h1v1h-1zM226 59h1v1h-1zM227 59h1v1h-1zM231 59h1v1h-1zM232 59h1v1h-1z"/>
<path fill="#34e349" d="M228 55h1v1h-1zM229 55h1v1h-1zM230 55h1v1h-1zM224 56h1v1h-1zM225 56h1v1h-1zM226 56h1v1h-1zM227 56h1v1h-1zM231 56h1v1h-1zM223 57h1v1h-1zM224 57h1v1h-1zM225 57h1v1h-1zM226 57h1v1h-1zM231 57h1v1h-1zM223 58h1v1h-1zM224 58h1v1h-1zM225 58h1v1h-1zM226 58h1v1h-1zM227 58h1v1h-1zM230 58h1v1h-1zM231 58h1v1h-1zM228 59h1v1h-1zM229 59h1v1h-1zM230 59h1v1h-1z"/>
<path fill="#46e83c" d="M228 56h1v1h-1zM229 56h1v1h-1zM230 56h1v1h-1zM227 57h1v1h-1zM228 57h1v1h-1zM229 57h1v1h-1zM230 57h1v1h-1zM228 58h1v1h-1zM229 58h1v1h-1z"/>
<path fill="#7878eb" d="M487 8h1v1h-1zM443 13h1v1h-1zM445 13h1v1h-1zM446 14h1v1h-1zM432 16h1v1h-1zM476 16h1v1h-1zM434 17h1v1h-1zM460 17h1v1h-1zM485 18h1v1h-1zM449 21h1v1h-1zM478 22h1v1h-1zM430 23h1v1h-1zM481 24h1v1h-1zM479 25h1v1h-1zM478 26h1v1h-1zM457 27h1v1h-1zM456 28h1v1h-1zM463 28h1v1h-1zM421 29h1v1h-1zM434 29h1v1h-1zM460 29h1v1h-1zM444 30h1v1h-1zM450 30h1v1h-1zM466 30h1v1h-1zM448 31h1v1h-1zM474 31h1v1h-1zM470 33h1v1h-1zM475 33h1v1h-1zM452 34h1v1h-1zM469 34h1v1h-1zM470 36h1v1h-1zM461 38h1v1h-1zM473 38h1v1h-1zM468 40h1v1h-1zM469 42h1v1h-1zM466 45h1v1h-1zM469 45h1v1h-1zM427 48h1v1h-1zM474 48h1v1h-1zM422 51h1v1h-1zM424 51h1v1h-1zM466 51h1v1h-1zM441 52h1v1h-1zM469 52h1v1h-1zM471 52h1v1h-1zM467 53h1v1h-1zM429 54h1v1h-1zM433 54h1v1h-1zM468 55h1v1h-1zM420 56h1v1h-1zM417 57h1v1h-1zM428 57h1v1h-1zM429 57h1v1h-1zM497 57h1v1h-1zM419 59h1v1h-1zM425 59h1v1h-1zM429 60h1v1h-1zM445 60h1v1h-1zM422 61h1v1h-1zM433 61h1v1h-1zM440 61h1v1h-1zM437 62h1v1h-1zM443 62h1v1h-1zM457 63h1v1h-1zM451 64h1v1h-1zM480 64h1v1h-1zM420 65h1v1h-1zM461 66h1v1h-1zM454 67h1v1h-1zM483 67h1v1h-1zM508 67h1v1h-1zM499 68h1v1h-1zM417 70h1v1h-1zM499 70h1v1h-1zM457 74h1v1h-1zM500 79h1v1h-1zM455 80h1v1h-1zM460 80h1v1h-1zM459 84h1v1h-1zM456 88h1v1h-1zM483 89h1v1h-1zM489 89h1v1h-1zM417 92h1v1h-1zM418 94h1v1h-1zM460 94h1v1h-1z"/>
<path fill="#666cec" d="M466 15h1v1h-1zM440 16h1v1h-1zM467 16h1v1h-1zM470 16h1v1h-1zM471 16h1v1h-1zM472 16h1v1h-1zM473 16h1v1h-1zM442 17h1v1h-1zM463 17h1v1h-1zM465 17h1v1h-1zM474 17h1v1h-1zM439 18h1v1h-1zM441 18h1v1h-1zM443 18h1v1h-1zM462 18h1v1h-1zM465 18h1v1h-1zM435 19h1v1h-1zM438 19h1v1h-1zM443 19h1v1h-1zM445 19h1v1h-1zM433 20h1v1h-1zM436 20h1v1h-1zM444 20h1v1h-1zM462 20h1v1h-1zM476 20h1v1h-1zM435 21h1v1h-1zM442 21h1v1h-1zM443 21h1v1h-1zM462 21h1v1h-1zM464 21h1v1h-1zM442 22h1v1h-1zM444 22h1v1h-1zM432 23h1v1h-1zM434 23h1v1h-1zM441 23h1v1h-1zM442 23h1v1h-1zM444 23h1v1h-1zM447 23h1v1h-1zM461 23h1v1h-1zM464 23h1v1h-1zM432 24h1v1h-1zM434 24h1v1h-1zM436 24h1v1h-1zM437 24h1v1h-1zM444 24h1v1h-1zM445 24h1v1h-1zM446 24h1v1h-1zM460 24h1v1h-1zM461 24h1v1h-1zM435 25h1v1h-1zM439 25h1v1h-1zM441 25h1v1h-1zM463 25h1v1h-1zM464 25h1v1h-1zM465 25h1v1h-1zM466 25h1v1h-1zM476 25h1v1h-1zM433 26h1v1h-1zM436 26h1v1h-1zM443 26h1v1h-1zM467 26h1v1h-1zM468 26h1v1h-1zM472 26h1v1h-1zM473 26h1v1h-1zM434 27h1v1h-1zM439 27h1v1h-1zM441 27h1v1h-1zM445 27h1v1h-1zM470 27h1v1h-1zM470 28h1v1h-1zM472 28h1v1h-1zM443 29h1v1h-1zM470 29h1v1h-1zM423 63h1v1h-1zM426 63h1v1h-1zM429 63h1v1h-1zM446 63h1v1h-1zM447 63h1v1h-1zM472 63h1v1h-1zM426 64h1v1h-1zM432 64h1v1h-1zM439 64h1v1h-1zM441 64h1v1h-1zM447 64h1v1h-1zM449 64h1v1h-1zM467 64h1v1h-1zM468 64h1v1h-1zM472 64h1v1h-1zM474 64h1v1h-1zM475 64h1v1h-1zM478 64h1v1h-1zM422 65h1v1h-1zM424 65h1v1h-1zM426 65h1v1h-1zM428 65h1v1h-1zM430 65h1v1h-1zM431 65h1v1h-1zM435 65h1v1h-1zM438 65h1v1h-1zM469 65h1v1h-1zM472 65h1v1h-1zM477 65h1v1h-1zM424 66h1v1h-1zM427 66h1v1h-1zM434 66h1v1h-1zM446 66h1v1h-1zM465 66h1v1h-1zM467 66h1v1h-1zM469 66h1v1h-1zM470 66h1v1h-1zM473 66h1v1h-1zM481 66h1v1h-1zM431 67h1v1h-1zM433 67h1v1h-1zM444 67h1v1h-1zM447 67h1v1h-1zM449 67h1v1h-1zM462 67h1v1h-1zM463 67h1v1h-1zM470 67h1v1h-1zM473 67h1v1h-1zM475 67h1v1h-1zM480 67h1v1h-1zM422 68h1v1h-1zM451 68h1v1h-1zM465 68h1v1h-1zM466 68h1v1h-1zM469 68h1v1h-1zM422 69h1v1h-1zM465 69h1v1h-1zM419 70h1v1h-1zM420 70h1v1h-1zM451 70h1v1h-1zM464 70h1v1h-1zM467 70h1v1h-1zM469 70h1v1h-1zM470 70h1v1h-1zM464 71h1v1h-1zM480 71h1v1h-1zM462 72h1v1h-1zM480 72h1v1h-1zM418 73h1v1h-1zM450 73h1v1h-1zM451 73h1v1h-1zM461 73h1v1h-1zM464 73h1v1h-1zM417 74h1v1h-1zM420 74h1v1h-1zM462 74h1v1h-1zM463 74h1v1h-1zM419 75h1v1h-1zM480 75h1v1h-1zM463 76h1v1h-1zM420 77h1v1h-1zM460 77h1v1h-1zM419 78h1v1h-1zM454 78h1v1h-1zM480 78h1v1h-1zM462 79h1v1h-1zM463 79h1v1h-1zM481 79h1v1h-1zM418 80h1v1h-1zM420 80h1v1h-1zM454 80h1v1h-1zM463 80h1v1h-1zM482 80h1v1h-1zM452 81h1v1h-1zM463 81h1v1h-1zM420 82h1v1h-1zM421 82h1v1h-1zM481 82h1v1h-1zM483 82h1v1h-1zM419 83h1v1h-1zM463 83h1v1h-1zM418 84h1v1h-1zM463 84h1v1h-1zM461 85h1v1h-1zM419 86h1v1h-1zM419 87h1v1h-1zM452 87h1v1h-1zM418 88h1v1h-1zM460 89h1v1h-1zM462 89h1v1h-1zM482 89h1v1h-1zM421 90h1v1h-1zM462 91h1v1h-1zM481 91h1v1h-1zM421 92h1v1h-1zM420 93h1v1h-1zM421 93h1v1h-1zM423 94h1v1h-1zM463 94h1v1h-1zM481 94h1v1h-1zM425 95h1v1h-1zM451 95h1v1h-1zM452 95h1v1h-1zM453 95h1v1h-1zM462 95h1v1h-1zM464 95h1v1h-1zM479 95h1v1h-1zM480 95h1v1h-1z"/>
<path fill="#5460ed" d="M469 17h1v1h-1zM470 17h1v1h-1zM466 18h1v1h-1zM471 18h1v1h-1zM472 18h1v1h-1zM467 19h1v1h-1zM469 19h1v1h-1zM470 19h1v1h-1zM471 19h1v1h-1zM473 19h1v1h-1zM475 19h1v1h-1zM437 20h1v1h-1zM439 20h1v1h-1zM440 20h1v1h-1zM466 20h1v1h-1zM473 20h1v1h-1zM475 20h1v1h-1zM437 21h1v1h-1zM438 21h1v1h-1zM439 21h1v1h-1zM440 21h1v1h-1zM465 21h1v1h-1zM471 21h1v1h-1zM472 21h1v1h-1zM473 21h1v1h-1zM474 21h1v1h-1zM475 21h1v1h-1zM436 22h1v1h-1zM437 22h1v1h-1zM438 22h1v1h-1zM439 22h1v1h-1zM466 22h1v1h-1zM470 22h1v1h-1zM473 22h1v1h-1zM474 22h1v1h-1zM437 23h1v1h-1zM466 23h1v1h-1zM467 23h1v1h-1zM468 23h1v1h-1zM469 23h1v1h-1zM474 23h1v1h-1zM466 24h1v1h-1zM471 24h1v1h-1zM472 24h1v1h-1zM469 25h1v1h-1zM470 25h1v1h-1zM471 25h1v1h-1zM436 66h1v1h-1zM439 66h1v1h-1zM425 67h1v1h-1zM426 67h1v1h-1zM428 67h1v1h-1zM429 67h1v1h-1zM436 67h1v1h-1zM442 67h1v1h-1zM476 67h1v1h-1zM477 67h1v1h-1zM478 67h1v1h-1zM423 68h1v1h-1zM424 68h1v1h-1zM428 68h1v1h-1zM434 68h1v1h-1zM443 68h1v1h-1zM447 68h1v1h-1zM448 68h1v1h-1zM477 68h1v1h-1zM478 68h1v1h-1zM423 69h1v1h-1zM424 69h1v1h-1zM425 69h1v1h-1zM426 69h1v1h-1zM429 69h1v1h-1zM430 69h1v1h-1zM431 69h1v1h-1zM447 69h1v1h-1zM448 69h1v1h-1zM449 69h1v1h-1zM476 69h1v1h-1zM477 69h1v1h-1zM478 69h1v1h-1zM479 69h1v1h-1zM422 70h1v1h-1zM465 70h1v1h-1zM473 70h1v1h-1zM474 70h1v1h-1zM478 70h1v1h-1zM479 70h1v1h-1zM448 71h1v1h-1zM449 71h1v1h-1zM467 71h1v1h-1zM473 71h1v1h-1zM479 71h1v1h-1zM421 72h1v1h-1zM448 72h1v1h-1zM468 72h1v1h-1zM469 72h1v1h-1zM470 72h1v1h-1zM473 72h1v1h-1zM466 73h1v1h-1zM467 73h1v1h-1zM479 73h1v1h-1zM421 74h1v1h-1zM449 74h1v1h-1zM466 74h1v1h-1zM478 74h1v1h-1zM479 74h1v1h-1zM421 75h1v1h-1zM450 75h1v1h-1zM465 75h1v1h-1zM466 75h1v1h-1zM450 76h1v1h-1zM451 76h1v1h-1zM465 76h1v1h-1zM466 76h1v1h-1zM477 76h1v1h-1zM421 77h1v1h-1zM450 77h1v1h-1zM478 77h1v1h-1zM421 78h1v1h-1zM451 78h1v1h-1zM464 78h1v1h-1zM465 78h1v1h-1zM464 79h1v1h-1zM466 79h1v1h-1zM478 79h1v1h-1zM479 79h1v1h-1zM450 80h1v1h-1zM451 80h1v1h-1zM466 80h1v1h-1zM479 80h1v1h-1zM422 81h1v1h-1zM479 81h1v1h-1zM480 81h1v1h-1zM465 82h1v1h-1zM466 82h1v1h-1zM480 82h1v1h-1zM465 83h1v1h-1zM480 83h1v1h-1zM422 84h1v1h-1zM479 84h1v1h-1zM480 84h1v1h-1zM451 85h1v1h-1zM421 86h1v1h-1zM422 86h1v1h-1zM463 86h1v1h-1zM421 87h1v1h-1zM463 87h1v1h-1zM479 87h1v1h-1zM463 88h1v1h-1zM422 89h1v1h-1zM452 89h1v1h-1zM463 89h1v1h-1zM479 89h1v1h-1zM480 89h1v1h-1zM422 90h1v1h-1zM463 90h1v1h-1zM479 90h1v1h-1zM480 90h1v1h-1zM451 91h1v1h-1zM464 91h1v1h-1zM479 91h1v1h-1zM422 92h1v1h-1zM465 92h1v1h-1zM480 92h1v1h-1zM450 93h1v1h-1zM465 93h1v1h-1zM480 93h1v1h-1zM424 94h1v1h-1zM426 94h1v1h-1zM449 94h1v1h-1zM450 94h1v1h-1zM464 94h1v1h-1zM477 94h1v1h-1zM478 94h1v1h-1zM479 94h1v1h-1zM426 95h1v1h-1zM427 95h1v1h-1zM449 95h1v1h-1zM466 95h1v1h-1zM467 95h1v1h-1zM476 95h1v1h-1z"/>
<path fill="#4353ee" d="M467 20h1v1h-1zM467 21h1v1h-1zM468 21h1v1h-1zM469 21h1v1h-1zM470 21h1v1h-1zM468 22h1v1h-1zM469 22h1v1h-1zM437 67h1v1h-1zM440 67h1v1h-1zM441 68h1v1h-1zM434 69h1v1h-1zM443 69h1v1h-1zM445 69h1v1h-1zM425 70h1v1h-1zM426 70h1v1h-1zM429 70h1v1h-1zM430 70h1v1h-1zM431 70h1v1h-1zM444 70h1v1h-1zM445 70h1v1h-1zM446 70h1v1h-1zM475 70h1v1h-1zM476 70h1v1h-1zM423 71h1v1h-1zM425 71h1v1h-1zM428 71h1v1h-1zM430 71h1v1h-1zM445 71h1v1h-1zM446 71h1v1h-1zM474 71h1v1h-1zM475 71h1v1h-1zM476 71h1v1h-1zM423 72h1v1h-1zM445 72h1v1h-1zM474 72h1v1h-1zM475 72h1v1h-1zM477 72h1v1h-1zM478 72h1v1h-1zM423 73h1v1h-1zM446 73h1v1h-1zM447 73h1v1h-1zM469 73h1v1h-1zM470 73h1v1h-1zM472 73h1v1h-1zM476 73h1v1h-1zM477 73h1v1h-1zM422 74h1v1h-1zM447 74h1v1h-1zM448 74h1v1h-1zM467 74h1v1h-1zM468 74h1v1h-1zM469 74h1v1h-1zM472 74h1v1h-1zM475 74h1v1h-1zM477 74h1v1h-1zM422 75h1v1h-1zM423 75h1v1h-1zM448 75h1v1h-1zM467 75h1v1h-1zM468 75h1v1h-1zM470 75h1v1h-1zM471 75h1v1h-1zM472 75h1v1h-1zM473 75h1v1h-1zM475 75h1v1h-1zM422 76h1v1h-1zM423 76h1v1h-1zM448 76h1v1h-1zM449 76h1v1h-1zM467 76h1v1h-1zM468 76h1v1h-1zM470 76h1v1h-1zM475 76h1v1h-1zM476 76h1v1h-1zM423 77h1v1h-1zM448 77h1v1h-1zM467 77h1v1h-1zM474 77h1v1h-1zM475 77h1v1h-1zM476 77h1v1h-1zM477 77h1v1h-1zM449 78h1v1h-1zM467 78h1v1h-1zM468 78h1v1h-1zM469 78h1v1h-1zM475 78h1v1h-1zM476 78h1v1h-1zM477 78h1v1h-1zM449 79h1v1h-1zM476 79h1v1h-1zM477 79h1v1h-1zM424 80h1v1h-1zM449 80h1v1h-1zM467 80h1v1h-1zM477 80h1v1h-1zM478 80h1v1h-1zM423 81h1v1h-1zM424 81h1v1h-1zM449 81h1v1h-1zM450 81h1v1h-1zM467 81h1v1h-1zM423 82h1v1h-1zM424 82h1v1h-1zM450 82h1v1h-1zM477 82h1v1h-1zM478 82h1v1h-1zM423 83h1v1h-1zM424 83h1v1h-1zM450 83h1v1h-1zM478 83h1v1h-1zM466 84h1v1h-1zM478 84h1v1h-1zM425 85h1v1h-1zM450 85h1v1h-1zM465 85h1v1h-1zM478 85h1v1h-1zM423 86h1v1h-1zM424 86h1v1h-1zM425 86h1v1h-1zM478 86h1v1h-1zM424 87h1v1h-1zM450 87h1v1h-1zM464 87h1v1h-1zM465 87h1v1h-1zM478 87h1v1h-1zM423 88h1v1h-1zM424 88h1v1h-1zM425 88h1v1h-1zM464 88h1v1h-1zM478 88h1v1h-1zM425 89h1v1h-1zM451 89h1v1h-1zM464 89h1v1h-1zM465 89h1v1h-1zM478 89h1v1h-1zM424 90h1v1h-1zM425 90h1v1h-1zM465 90h1v1h-1zM475 90h1v1h-1zM476 90h1v1h-1zM477 90h1v1h-1zM424 91h1v1h-1zM425 91h1v1h-1zM475 91h1v1h-1zM476 91h1v1h-1zM477 91h1v1h-1zM478 91h1v1h-1zM425 92h1v1h-1zM426 92h1v1h-1zM476 92h1v1h-1zM478 92h1v1h-1zM449 93h1v1h-1zM476 93h1v1h-1zM477 93h1v1h-1zM478 93h1v1h-1zM427 94h1v1h-1zM428 94h1v1h-1zM447 94h1v1h-1zM466 94h1v1h-1zM476 94h1v1h-1zM430 95h1v1h-1zM431 95h1v1h-1zM446 95h1v1h-1zM469 95h1v1h-1zM471 95h1v1h-1zM472 95h1v1h-1zM473 95h1v1h-1zM474 95h1v1h-1z"/>
<path fill="#3147ef" d="M437 68h1v1h-1zM438 68h1v1h-1zM439 68h1v1h-1zM440 68h1v1h-1zM440 69h1v1h-1zM435 70h1v1h-1zM441 70h1v1h-1zM442 70h1v1h-1zM431 71h1v1h-1zM432 71h1v1h-1zM433 71h1v1h-1zM441 71h1v1h-1zM443 71h1v1h-1zM424 72h1v1h-1zM425 72h1v1h-1zM426 72h1v1h-1zM427 72h1v1h-1zM428 72h1v1h-1zM429 72h1v1h-1zM430 72h1v1h-1zM431 72h1v1h-1zM442 72h1v1h-1zM443 72h1v1h-1zM444 72h1v1h-1zM424 73h1v1h-1zM426 73h1v1h-1zM444 73h1v1h-1zM425 74h1v1h-1zM445 74h1v1h-1zM446 74h1v1h-1zM424 75h1v1h-1zM445 75h1v1h-1zM447 75h1v1h-1zM424 76h1v1h-1zM446 76h1v1h-1zM447 76h1v1h-1zM471 76h1v1h-1zM472 76h1v1h-1zM424 77h1v1h-1zM447 77h1v1h-1zM471 77h1v1h-1zM472 77h1v1h-1zM473 77h1v1h-1zM424 78h1v1h-1zM447 78h1v1h-1zM470 78h1v1h-1zM472 78h1v1h-1zM473 78h1v1h-1zM448 79h1v1h-1zM469 79h1v1h-1zM470 79h1v1h-1zM473 79h1v1h-1zM474 79h1v1h-1zM425 80h1v1h-1zM469 80h1v1h-1zM475 80h1v1h-1zM425 81h1v1h-1zM468 81h1v1h-1zM475 81h1v1h-1zM448 82h1v1h-1zM468 82h1v1h-1zM476 82h1v1h-1zM426 83h1v1h-1zM449 83h1v1h-1zM467 83h1v1h-1zM476 83h1v1h-1zM425 84h1v1h-1zM426 84h1v1h-1zM448 84h1v1h-1zM449 84h1v1h-1zM477 84h1v1h-1zM426 85h1v1h-1zM448 85h1v1h-1zM466 85h1v1h-1zM477 85h1v1h-1zM426 86h1v1h-1zM427 86h1v1h-1zM449 86h1v1h-1zM427 87h1v1h-1zM428 87h1v1h-1zM466 87h1v1h-1zM476 87h1v1h-1zM477 87h1v1h-1zM428 88h1v1h-1zM450 88h1v1h-1zM465 88h1v1h-1zM466 88h1v1h-1zM476 88h1v1h-1zM428 89h1v1h-1zM450 89h1v1h-1zM474 89h1v1h-1zM475 89h1v1h-1zM426 90h1v1h-1zM427 90h1v1h-1zM428 90h1v1h-1zM450 90h1v1h-1zM466 90h1v1h-1zM426 91h1v1h-1zM427 91h1v1h-1zM428 91h1v1h-1zM449 91h1v1h-1zM474 91h1v1h-1zM427 92h1v1h-1zM428 92h1v1h-1zM448 92h1v1h-1zM449 92h1v1h-1zM467 92h1v1h-1zM474 92h1v1h-1zM428 93h1v1h-1zM447 93h1v1h-1zM467 93h1v1h-1zM468 93h1v1h-1zM474 93h1v1h-1zM430 94h1v1h-1zM431 94h1v1h-1zM446 94h1v1h-1zM468 94h1v1h-1zM469 94h1v1h-1zM470 94h1v1h-1zM473 94h1v1h-1zM432 95h1v1h-1zM433 95h1v1h-1zM434 95h1v1h-1zM436 95h1v1h-1zM437 95h1v1h-1zM444 95h1v1h-1zM445 95h1v1h-1z"/>
<path fill="#274bef" d="M437 69h1v1h-1zM438 69h1v1h-1zM439 69h1v1h-1zM436 70h1v1h-1zM437 70h1v1h-1zM438 70h1v1h-1zM440 70h1v1h-1zM435 71h1v1h-1zM436 71h1v1h-1zM437 71h1v1h-1zM438 71h1v1h-1zM440 71h1v1h-1zM433 72h1v1h-1zM434 72h1v1h-1zM437 72h1v1h-1zM438 72h1v1h-1zM439 72h1v1h-1zM440 72h1v1h-1zM441 72h1v1h-1zM427 73h1v1h-1zM429 73h1v1h-1zM430 73h1v1h-1zM431 73h1v1h-1zM432 73h1v1h-1zM437 73h1v1h-1zM438 73h1v1h-1zM440 73h1v1h-1zM441 73h1v1h-1zM442 73h1v1h-1zM426 74h1v1h-1zM427 74h1v1h-1zM437 74h1v1h-1zM439 74h1v1h-1zM440 74h1v1h-1zM441 74h1v1h-1zM442 74h1v1h-1zM443 74h1v1h-1zM425 75h1v1h-1zM426 75h1v1h-1zM438 75h1v1h-1zM439 75h1v1h-1zM440 75h1v1h-1zM442 75h1v1h-1zM443 75h1v1h-1zM444 75h1v1h-1zM426 76h1v1h-1zM441 76h1v1h-1zM444 76h1v1h-1zM445 76h1v1h-1zM425 77h1v1h-1zM445 77h1v1h-1zM425 78h1v1h-1zM433 78h1v1h-1zM434 78h1v1h-1zM446 78h1v1h-1zM433 79h1v1h-1zM446 79h1v1h-1zM471 79h1v1h-1zM472 79h1v1h-1zM433 80h1v1h-1zM447 80h1v1h-1zM470 80h1v1h-1zM471 80h1v1h-1zM473 80h1v1h-1zM474 80h1v1h-1zM426 81h1v1h-1zM447 81h1v1h-1zM470 81h1v1h-1zM474 81h1v1h-1zM426 82h1v1h-1zM427 82h1v1h-1zM447 82h1v1h-1zM469 82h1v1h-1zM447 83h1v1h-1zM468 83h1v1h-1zM475 83h1v1h-1zM427 84h1v1h-1zM468 84h1v1h-1zM476 84h1v1h-1zM427 85h1v1h-1zM428 85h1v1h-1zM447 85h1v1h-1zM467 85h1v1h-1zM476 85h1v1h-1zM447 86h1v1h-1zM448 86h1v1h-1zM467 86h1v1h-1zM475 86h1v1h-1zM476 86h1v1h-1zM447 87h1v1h-1zM448 87h1v1h-1zM467 87h1v1h-1zM475 87h1v1h-1zM429 88h1v1h-1zM448 88h1v1h-1zM449 88h1v1h-1zM467 88h1v1h-1zM474 88h1v1h-1zM429 89h1v1h-1zM449 89h1v1h-1zM467 89h1v1h-1zM473 89h1v1h-1zM429 90h1v1h-1zM430 90h1v1h-1zM449 90h1v1h-1zM467 90h1v1h-1zM473 90h1v1h-1zM430 91h1v1h-1zM447 91h1v1h-1zM448 91h1v1h-1zM468 91h1v1h-1zM430 92h1v1h-1zM446 92h1v1h-1zM447 92h1v1h-1zM468 92h1v1h-1zM473 92h1v1h-1zM431 93h1v1h-1zM446 93h1v1h-1zM469 93h1v1h-1zM472 93h1v1h-1zM473 93h1v1h-1zM433 94h1v1h-1zM445 94h1v1h-1zM471 94h1v1h-1zM472 94h1v1h-1zM438 95h1v1h-1zM439 95h1v1h-1zM440 95h1v1h-1zM441 95h1v1h-1zM442 95h1v1h-1zM443 95h1v1h-1z"/>
<path fill="#245fec" d="M435 72h1v1h-1zM436 72h1v1h-1zM434 73h1v1h-1zM435 73h1v1h-1zM428 74h1v1h-1zM429 74h1v1h-1zM430 74h1v1h-1zM431 74h1v1h-1zM432 74h1v1h-1zM433 74h1v1h-1zM435 74h1v1h-1zM427 75h1v1h-1zM429 75h1v1h-1zM430 75h1v1h-1zM431 75h1v1h-1zM432 75h1v1h-1zM433 75h1v1h-1zM434 75h1v1h-1zM435 75h1v1h-1zM436 75h1v1h-1zM427 76h1v1h-1zM428 76h1v1h-1zM429 76h1v1h-1zM430 76h1v1h-1zM431 76h1v1h-1zM432 76h1v1h-1zM433 76h1v1h-1zM434 76h1v1h-1zM435 76h1v1h-1zM437 76h1v1h-1zM438 76h1v1h-1zM440 76h1v1h-1zM442 76h1v1h-1zM443 76h1v1h-1zM427 77h1v1h-1zM430 77h1v1h-1zM431 77h1v1h-1zM432 77h1v1h-1zM435 77h1v1h-1zM436 77h1v1h-1zM437 77h1v1h-1zM440 77h1v1h-1zM442 77h1v1h-1zM443 77h1v1h-1zM444 77h1v1h-1zM426 78h1v1h-1zM427 78h1v1h-1zM430 78h1v1h-1zM431 78h1v1h-1zM432 78h1v1h-1zM436 78h1v1h-1zM444 78h1v1h-1zM445 78h1v1h-1zM426 79h1v1h-1zM427 79h1v1h-1zM432 79h1v1h-1zM435 79h1v1h-1zM445 79h1v1h-1zM427 80h1v1h-1zM431 80h1v1h-1zM432 80h1v1h-1zM435 80h1v1h-1zM445 80h1v1h-1zM446 80h1v1h-1zM427 81h1v1h-1zM428 81h1v1h-1zM431 81h1v1h-1zM433 81h1v1h-1zM445 81h1v1h-1zM446 81h1v1h-1zM472 81h1v1h-1zM473 81h1v1h-1zM429 82h1v1h-1zM430 82h1v1h-1zM431 82h1v1h-1zM432 82h1v1h-1zM433 82h1v1h-1zM434 82h1v1h-1zM445 82h1v1h-1zM446 82h1v1h-1zM470 82h1v1h-1zM471 82h1v1h-1zM472 82h1v1h-1zM473 82h1v1h-1zM474 82h1v1h-1zM428 83h1v1h-1zM429 83h1v1h-1zM430 83h1v1h-1zM431 83h1v1h-1zM432 83h1v1h-1zM433 83h1v1h-1zM445 83h1v1h-1zM446 83h1v1h-1zM469 83h1v1h-1zM473 83h1v1h-1zM474 83h1v1h-1zM428 84h1v1h-1zM429 84h1v1h-1zM430 84h1v1h-1zM431 84h1v1h-1zM445 84h1v1h-1zM469 84h1v1h-1zM474 84h1v1h-1zM429 85h1v1h-1zM430 85h1v1h-1zM431 85h1v1h-1zM445 85h1v1h-1zM468 85h1v1h-1zM474 85h1v1h-1zM475 85h1v1h-1zM430 86h1v1h-1zM431 86h1v1h-1zM468 86h1v1h-1zM474 86h1v1h-1zM430 87h1v1h-1zM431 87h1v1h-1zM446 87h1v1h-1zM468 87h1v1h-1zM474 87h1v1h-1zM430 88h1v1h-1zM431 88h1v1h-1zM446 88h1v1h-1zM447 88h1v1h-1zM468 88h1v1h-1zM473 88h1v1h-1zM430 89h1v1h-1zM431 89h1v1h-1zM446 89h1v1h-1zM447 89h1v1h-1zM448 89h1v1h-1zM468 89h1v1h-1zM445 90h1v1h-1zM446 90h1v1h-1zM447 90h1v1h-1zM448 90h1v1h-1zM468 90h1v1h-1zM472 90h1v1h-1zM431 91h1v1h-1zM445 91h1v1h-1zM446 91h1v1h-1zM469 91h1v1h-1zM470 91h1v1h-1zM471 91h1v1h-1zM472 91h1v1h-1zM431 92h1v1h-1zM445 92h1v1h-1zM469 92h1v1h-1zM470 92h1v1h-1zM471 92h1v1h-1zM472 92h1v1h-1zM432 93h1v1h-1zM444 93h1v1h-1zM445 93h1v1h-1zM470 93h1v1h-1zM434 94h1v1h-1zM435 94h1v1h-1zM436 94h1v1h-1zM437 94h1v1h-1zM443 94h1v1h-1zM444 94h1v1h-1z"/>
<path fill="#2173e9" d="M428 77h1v1h-1zM429 77h1v1h-1zM438 77h1v1h-1zM439 77h1v1h-1zM428 78h1v1h-1zM429 78h1v1h-1zM437 78h1v1h-1zM441 78h1v1h-1zM442 78h1v1h-1zM428 79h1v1h-1zM429 79h1v1h-1zM436 79h1v1h-1zM443 79h1v1h-1zM444 79h1v1h-1zM428 80h1v1h-1zM429 80h1v1h-1zM430 80h1v1h-1zM436 80h1v1h-1zM443 80h1v1h-1zM444 80h1v1h-1zM429 81h1v1h-1zM430 81h1v1h-1zM435 81h1v1h-1zM435 82h1v1h-1zM434 83h1v1h-1zM444 83h1v1h-1zM470 83h1v1h-1zM471 83h1v1h-1zM472 83h1v1h-1zM433 84h1v1h-1zM434 84h1v1h-1zM444 84h1v1h-1zM470 84h1v1h-1zM471 84h1v1h-1zM472 84h1v1h-1zM473 84h1v1h-1zM433 85h1v1h-1zM469 85h1v1h-1zM470 85h1v1h-1zM472 85h1v1h-1zM473 85h1v1h-1zM432 86h1v1h-1zM433 86h1v1h-1zM445 86h1v1h-1zM469 86h1v1h-1zM473 86h1v1h-1zM432 87h1v1h-1zM445 87h1v1h-1zM473 87h1v1h-1zM432 88h1v1h-1zM469 88h1v1h-1zM472 88h1v1h-1zM445 89h1v1h-1zM469 89h1v1h-1zM471 89h1v1h-1zM472 89h1v1h-1zM444 90h1v1h-1zM469 90h1v1h-1zM470 90h1v1h-1zM471 90h1v1h-1zM444 91h1v1h-1zM432 92h1v1h-1zM444 92h1v1h-1zM433 93h1v1h-1zM434 93h1v1h-1zM438 94h1v1h-1zM439 94h1v1h-1zM440 94h1v1h-1zM441 94h1v1h-1zM442 94h1v1h-1z"/>
<path fill="#1f87e7" d="M438 78h1v1h-1zM439 78h1v1h-1zM440 78h1v1h-1zM437 79h1v1h-1zM441 79h1v1h-1zM442 79h1v1h-1zM437 80h1v1h-1zM442 80h1v1h-1zM436 81h1v1h-1zM443 81h1v1h-1zM436 82h1v1h-1zM443 82h1v1h-1zM435 83h1v1h-1zM443 83h1v1h-1zM435 84h1v1h-1zM443 84h1v1h-1zM434 85h1v1h-1zM435 85h1v1h-1zM471 85h1v1h-1zM434 86h1v1h-1zM444 86h1v1h-1zM470 86h1v1h-1zM471 86h1v1h-1zM472 86h1v1h-1zM433 87h1v1h-1zM434 87h1v1h-1zM444 87h1v1h-1zM469 87h1v1h-1zM470 87h1v1h-1zM471 87h1v1h-1zM472 87h1v1h-1zM433 88h1v1h-1zM444 88h1v1h-1zM470 88h1v1h-1zM471 88h1v1h-1zM432 89h1v1h-1zM470 89h1v1h-1zM432 90h1v1h-1zM443 90h1v1h-1zM432 91h1v1h-1zM443 91h1v1h-1zM433 92h1v1h-1zM443 92h1v1h-1zM435 93h1v1h-1zM436 93h1v1h-1zM437 93h1v1h-1zM438 93h1v1h-1zM442 93h1v1h-1z"/>
<path fill="#209dd0" d="M438 79h1v1h-1zM439 79h1v1h-1zM440 79h1v1h-1zM438 80h1v1h-1zM440 80h1v1h-1zM441 80h1v1h-1zM437 81h1v1h-1zM441 81h1v1h-1zM442 81h1v1h-1zM437 82h1v1h-1zM442 82h1v1h-1zM436 83h1v1h-1zM437 83h1v1h-1zM442 83h1v1h-1zM436 84h1v1h-1zM437 84h1v1h-1zM442 84h1v1h-1zM436 85h1v1h-1zM437 85h1v1h-1zM443 85h1v1h-1zM435 86h1v1h-1zM436 86h1v1h-1zM437 86h1v1h-1zM443 86h1v1h-1zM435 87h1v1h-1zM443 87h1v1h-1zM434 88h1v1h-1zM433 89h1v1h-1zM442 89h1v1h-1zM443 89h1v1h-1zM433 90h1v1h-1zM442 90h1v1h-1zM433 91h1v1h-1zM441 91h1v1h-1zM434 92h1v1h-1zM435 92h1v1h-1zM436 92h1v1h-1zM437 92h1v1h-1zM438 92h1v1h-1zM441 92h1v1h-1zM442 92h1v1h-1zM439 93h1v1h-1zM440 93h1v1h-1zM441 93h1v1h-1z"/>
<path fill="#24b5b2" d="M439 80h1v1h-1zM438 81h1v1h-1zM439 81h1v1h-1zM440 81h1v1h-1zM438 82h1v1h-1zM439 82h1v1h-1zM440 82h1v1h-1zM441 82h1v1h-1zM438 83h1v1h-1zM441 83h1v1h-1zM438 84h1v1h-1zM441 84h1v1h-1zM438 85h1v1h-1zM442 85h1v1h-1zM438 86h1v1h-1zM442 86h1v1h-1zM437 87h1v1h-1zM438 87h1v1h-1zM440 87h1v1h-1zM441 87h1v1h-1zM442 87h1v1h-1zM435 88h1v1h-1zM436 88h1v1h-1zM437 88h1v1h-1zM438 88h1v1h-1zM439 88h1v1h-1zM440 88h1v1h-1zM441 88h1v1h-1zM442 88h1v1h-1zM434 89h1v1h-1zM435 89h1v1h-1zM436 89h1v1h-1zM437 89h1v1h-1zM438 89h1v1h-1zM439 89h1v1h-1zM440 89h1v1h-1zM441 89h1v1h-1zM434 90h1v1h-1zM436 90h1v1h-1zM437 90h1v1h-1zM438 90h1v1h-1zM439 90h1v1h-1zM440 90h1v1h-1zM441 90h1v1h-1zM434 91h1v1h-1zM435 91h1v1h-1zM436 91h1v1h-1zM437 91h1v1h-1zM438 91h1v1h-1zM439 91h1v1h-1zM440 91h1v1h-1zM439 92h1v1h-1zM440 92h1v1h-1z"/>
<path fill="#27cc94" d="M439 83h1v1h-1zM440 83h1v1h-1zM439 84h1v1h-1zM440 84h1v1h-1zM439 85h1v1h-1zM440 85h1v1h-1zM441 85h1v1h-1zM440 86h1v1h-1zM441 86h1v1h-1zM435 90h1v1h-1z"/>
<path fill="#7878eb" d="M427 128h1v1h-1zM509 130h1v1h-1zM437 131h1v1h-1zM444 131h1v1h-1zM446 132h1v1h-1zM461 132h1v1h-1zM419 134h1v1h-1zM424 134h1v1h-1zM465 135h1v1h-1zM478 135h1v1h-1zM479 136h1v1h-1zM466 138h1v1h-1zM503 145h1v1h-1zM456 147h1v1h-1zM457 148h1v1h-1zM491 149h1v1h-1zM477 152h1v1h-1zM418 155h1v1h-1zM479 155h1v1h-1zM457 157h1v1h-1zM420 158h1v1h-1zM455 158h1v1h-1zM418 159h1v1h-1zM423 159h1v1h-1zM442 160h1v1h-1zM482 160h1v1h-1zM428 161h1v1h-1zM431 161h1v1h-1zM455 162h1v1h-1zM492 162h1v1h-1zM489 165h1v1h-1zM438 168h1v1h-1zM434 169h1v1h-1zM429 175h1v1h-1zM440 175h1v1h-1zM453 175h1v1h-1zM433 176h1v1h-1zM441 177h1v1h-1zM444 177h1v1h-1zM453 177h1v1h-1zM472 178h1v1h-1zM425 179h1v1h-1zM432 179h1v1h-1zM491 179h1v1h-1zM476 180h1v1h-1zM426 181h1v1h-1zM460 181h1v1h-1zM473 181h1v1h-1zM481 183h1v1h-1zM428 185h1v1h-1zM481 185h1v1h-1zM422 186h1v1h-1zM447 186h1v1h-1zM482 187h1v1h-1zM459 189h1v1h-1zM450 190h1v1h-1zM424 192h1v1h-1zM459 193h1v1h-1zM450 194h1v1h-1zM423 195h1v1h-1zM457 196h1v1h-1zM455 198h1v1h-1zM455 200h1v1h-1zM423 201h1v1h-1zM420 202h1v1h-1zM505 202h1v1h-1zM486 203h1v1h-1zM484 204h1v1h-1zM424 205h1v1h-1zM449 205h1v1h-1zM448 207h1v1h-1zM425 208h1v1h-1zM457 208h1v1h-1zM419 209h1v1h-1zM481 210h1v1h-1zM423 211h1v1h-1zM483 211h1v1h-1zM458 212h1v1h-1zM481 212h1v1h-1zM505 212h1v1h-1zM424 213h1v1h-1zM485 213h1v1h-1zM425 214h1v1h-1z"/>
<path fill="#666cec" d="M436 132h1v1h-1zM437 132h1v1h-1zM431 133h1v1h-1zM439 133h1v1h-1zM441 133h1v1h-1zM429 134h1v1h-1zM431 134h1v1h-1zM432 134h1v1h-1zM436 134h1v1h-1zM444 134h1v1h-1zM418 135h1v1h-1zM420 135h1v1h-1zM429 135h1v1h-1zM430 135h1v1h-1zM446 135h1v1h-1zM448 136h1v1h-1zM476 136h1v1h-1zM418 137h1v1h-1zM421 137h1v1h-1zM422 137h1v1h-1zM449 137h1v1h-1zM474 137h1v1h-1zM479 137h1v1h-1zM419 138h1v1h-1zM421 138h1v1h-1zM422 138h1v1h-1zM453 138h1v1h-1zM477 138h1v1h-1zM471 139h1v1h-1zM477 139h1v1h-1zM452 140h1v1h-1zM454 140h1v1h-1zM477 140h1v1h-1zM452 141h1v1h-1zM454 142h1v1h-1zM476 142h1v1h-1zM477 142h1v1h-1zM453 143h1v1h-1zM452 144h1v1h-1zM455 144h1v1h-1zM454 146h1v1h-1zM452 147h1v1h-1zM473 149h1v1h-1zM452 150h1v1h-1zM451 151h1v1h-1zM460 151h1v1h-1zM417 152h1v1h-1zM469 152h1v1h-1zM450 153h1v1h-1zM452 153h1v1h-1zM453 153h1v1h-1zM450 154h1v1h-1zM452 154h1v1h-1zM459 154h1v1h-1zM460 154h1v1h-1zM423 155h1v1h-1zM424 155h1v1h-1zM450 155h1v1h-1zM460 155h1v1h-1zM426 156h1v1h-1zM428 156h1v1h-1zM432 156h1v1h-1zM436 156h1v1h-1zM439 156h1v1h-1zM446 156h1v1h-1zM447 156h1v1h-1zM460 156h1v1h-1zM462 156h1v1h-1zM463 156h1v1h-1zM421 157h1v1h-1zM423 157h1v1h-1zM424 157h1v1h-1zM425 157h1v1h-1zM429 157h1v1h-1zM441 157h1v1h-1zM442 157h1v1h-1zM461 157h1v1h-1zM430 158h1v1h-1zM436 158h1v1h-1zM438 158h1v1h-1zM439 158h1v1h-1zM443 158h1v1h-1zM427 159h1v1h-1zM428 159h1v1h-1zM438 159h1v1h-1zM429 160h1v1h-1zM431 178h1v1h-1zM429 179h1v1h-1zM430 179h1v1h-1zM427 180h1v1h-1zM466 180h1v1h-1zM469 180h1v1h-1zM430 181h1v1h-1zM438 181h1v1h-1zM439 181h1v1h-1zM441 181h1v1h-1zM465 181h1v1h-1zM467 181h1v1h-1zM470 181h1v1h-1zM428 182h1v1h-1zM431 182h1v1h-1zM438 182h1v1h-1zM441 182h1v1h-1zM465 182h1v1h-1zM468 182h1v1h-1zM470 182h1v1h-1zM478 182h1v1h-1zM479 182h1v1h-1zM430 183h1v1h-1zM431 183h1v1h-1zM434 183h1v1h-1zM435 183h1v1h-1zM443 183h1v1h-1zM473 183h1v1h-1zM475 183h1v1h-1zM476 183h1v1h-1zM437 184h1v1h-1zM442 184h1v1h-1zM464 184h1v1h-1zM467 184h1v1h-1zM474 184h1v1h-1zM478 184h1v1h-1zM479 184h1v1h-1zM431 185h1v1h-1zM433 185h1v1h-1zM439 185h1v1h-1zM440 185h1v1h-1zM442 185h1v1h-1zM464 185h1v1h-1zM465 185h1v1h-1zM466 185h1v1h-1zM467 185h1v1h-1zM470 185h1v1h-1zM429 186h1v1h-1zM434 186h1v1h-1zM437 186h1v1h-1zM440 186h1v1h-1zM465 186h1v1h-1zM468 186h1v1h-1zM471 186h1v1h-1zM474 186h1v1h-1zM480 186h1v1h-1zM437 187h1v1h-1zM440 187h1v1h-1zM441 187h1v1h-1zM443 187h1v1h-1zM444 187h1v1h-1zM463 187h1v1h-1zM466 187h1v1h-1zM467 187h1v1h-1zM468 187h1v1h-1zM469 187h1v1h-1zM472 187h1v1h-1zM473 187h1v1h-1zM474 187h1v1h-1zM477 187h1v1h-1zM428 188h1v1h-1zM430 188h1v1h-1zM431 188h1v1h-1zM443 188h1v1h-1zM467 188h1v1h-1zM468 188h1v1h-1zM475 188h1v1h-1zM477 188h1v1h-1zM426 189h1v1h-1zM427 189h1v1h-1zM429 189h1v1h-1zM433 189h1v1h-1zM435 189h1v1h-1zM437 189h1v1h-1zM445 189h1v1h-1zM461 189h1v1h-1zM429 190h1v1h-1zM430 190h1v1h-1zM439 190h1v1h-1zM440 190h1v1h-1zM441 190h1v1h-1zM445 190h1v1h-1zM463 190h1v1h-1zM477 190h1v1h-1zM443 191h1v1h-1zM445 191h1v1h-1zM447 191h1v1h-1zM463 191h1v1h-1zM464 191h1v1h-1zM478 191h1v1h-1zM443 192h1v1h-1zM460 192h1v1h-1zM463 192h1v1h-1zM464 192h1v1h-1zM477 192h1v1h-1zM441 193h1v1h-1zM442 193h1v1h-1zM446 193h1v1h-1zM461 193h1v1h-1zM480 193h1v1h-1zM482 193h1v1h-1zM429 194h1v1h-1zM445 194h1v1h-1zM446 194h1v1h-1zM447 194h1v1h-1zM463 194h1v1h-1zM477 194h1v1h-1zM479 194h1v1h-1zM480 194h1v1h-1zM482 194h1v1h-1zM430 195h1v1h-1zM442 195h1v1h-1zM443 195h1v1h-1zM444 195h1v1h-1zM447 195h1v1h-1zM463 195h1v1h-1zM464 195h1v1h-1zM476 195h1v1h-1zM478 195h1v1h-1zM481 195h1v1h-1zM428 196h1v1h-1zM444 196h1v1h-1zM445 196h1v1h-1zM449 196h1v1h-1zM462 196h1v1h-1zM477 196h1v1h-1zM481 196h1v1h-1zM427 197h1v1h-1zM428 197h1v1h-1zM430 197h1v1h-1zM447 197h1v1h-1zM449 197h1v1h-1zM464 197h1v1h-1zM478 197h1v1h-1zM429 198h1v1h-1zM445 198h1v1h-1zM448 198h1v1h-1zM461 198h1v1h-1zM429 199h1v1h-1zM444 199h1v1h-1zM446 199h1v1h-1zM447 199h1v1h-1zM461 199h1v1h-1zM462 199h1v1h-1zM464 199h1v1h-1zM428 200h1v1h-1zM429 200h1v1h-1zM463 200h1v1h-1zM424 201h1v1h-1zM447 201h1v1h-1zM448 201h1v1h-1zM449 201h1v1h-1zM464 201h1v1h-1zM479 201h1v1h-1zM426 202h1v1h-1zM427 202h1v1h-1zM480 202h1v1h-1zM428 203h1v1h-1zM445 203h1v1h-1zM448 203h1v1h-1zM449 203h1v1h-1zM463 203h1v1h-1zM464 203h1v1h-1zM465 203h1v1h-1zM425 204h1v1h-1zM428 204h1v1h-1zM460 204h1v1h-1zM461 204h1v1h-1zM463 204h1v1h-1zM465 204h1v1h-1zM479 204h1v1h-1zM429 205h1v1h-1zM447 205h1v1h-1zM459 205h1v1h-1zM426 206h1v1h-1zM429 206h1v1h-1zM444 206h1v1h-1zM461 206h1v1h-1zM478 206h1v1h-1zM443 207h1v1h-1zM445 207h1v1h-1zM459 207h1v1h-1zM464 207h1v1h-1zM479 207h1v1h-1zM427 208h1v1h-1zM430 208h1v1h-1zM441 208h1v1h-1zM461 208h1v1h-1zM463 208h1v1h-1zM478 208h1v1h-1zM480 208h1v1h-1zM442 209h1v1h-1zM443 209h1v1h-1zM445 209h1v1h-1zM459 209h1v1h-1zM461 209h1v1h-1zM464 209h1v1h-1zM477 209h1v1h-1zM425 210h1v1h-1zM428 210h1v1h-1zM430 210h1v1h-1zM431 210h1v1h-1zM433 210h1v1h-1zM434 210h1v1h-1zM440 210h1v1h-1zM460 210h1v1h-1zM462 210h1v1h-1zM463 210h1v1h-1zM475 210h1v1h-1zM477 210h1v1h-1zM428 211h1v1h-1zM431 211h1v1h-1zM433 211h1v1h-1zM438 211h1v1h-1zM441 211h1v1h-1zM445 211h1v1h-1zM463 211h1v1h-1zM470 211h1v1h-1zM471 211h1v1h-1zM474 211h1v1h-1zM476 211h1v1h-1zM427 212h1v1h-1zM430 212h1v1h-1zM431 212h1v1h-1zM433 212h1v1h-1zM434 212h1v1h-1zM435 212h1v1h-1zM439 212h1v1h-1zM444 212h1v1h-1zM463 212h1v1h-1zM464 212h1v1h-1zM475 212h1v1h-1zM478 212h1v1h-1zM429 213h1v1h-1zM430 213h1v1h-1zM431 213h1v1h-1zM435 213h1v1h-1zM436 213h1v1h-1zM438 213h1v1h-1zM439 213h1v1h-1zM440 213h1v1h-1zM443 213h1v1h-1zM445 213h1v1h-1zM463 213h1v1h-1zM464 213h1v1h-1zM467 213h1v1h-1zM472 213h1v1h-1zM473 213h1v1h-1zM475 213h1v1h-1zM477 213h1v1h-1zM478 213h1v1h-1zM427 214h1v1h-1zM430 214h1v1h-1zM432 214h1v1h-1zM439 214h1v1h-1zM444 214h1v1h-1zM445 214h1v1h-1zM463 214h1v1h-1zM466 214h1v1h-1zM470 214h1v1h-1zM471 214h1v1h-1zM473 214h1v1h-1zM474 214h1v1h-1zM479 214h1v1h-1zM432 215h1v1h-1zM433 215h1v1h-1zM435 215h1v1h-1zM436 215h1v1h-1zM437 215h1v1h-1zM467 215h1v1h-1zM468 215h1v1h-1zM469 215h1v1h-1zM476 215h1v1h-1zM477 215h1v1h-1z"/>
<path fill="#5460ed" d="M438 135h1v1h-1zM434 136h1v1h-1zM444 136h1v1h-1zM446 136h1v1h-1zM428 137h1v1h-1zM429 137h1v1h-1zM417 138h1v1h-1zM424 138h1v1h-1zM426 138h1v1h-1zM427 138h1v1h-1zM417 139h1v1h-1zM419 139h1v1h-1zM424 139h1v1h-1zM425 139h1v1h-1zM450 139h1v1h-1zM473 139h1v1h-1zM418 140h1v1h-1zM419 140h1v1h-1zM421 140h1v1h-1zM422 140h1v1h-1zM451 140h1v1h-1zM472 140h1v1h-1zM474 140h1v1h-1zM475 140h1v1h-1zM418 141h1v1h-1zM419 141h1v1h-1zM421 141h1v1h-1zM423 141h1v1h-1zM450 141h1v1h-1zM417 142h1v1h-1zM418 142h1v1h-1zM421 142h1v1h-1zM452 142h1v1h-1zM418 143h1v1h-1zM419 143h1v1h-1zM420 143h1v1h-1zM421 143h1v1h-1zM451 143h1v1h-1zM417 144h1v1h-1zM418 144h1v1h-1zM419 144h1v1h-1zM420 144h1v1h-1zM474 144h1v1h-1zM418 145h1v1h-1zM420 145h1v1h-1zM451 145h1v1h-1zM417 146h1v1h-1zM418 146h1v1h-1zM465 146h1v1h-1zM474 146h1v1h-1zM417 147h1v1h-1zM450 148h1v1h-1zM463 148h1v1h-1zM417 149h1v1h-1zM418 149h1v1h-1zM417 150h1v1h-1zM449 150h1v1h-1zM450 150h1v1h-1zM462 150h1v1h-1zM417 151h1v1h-1zM418 151h1v1h-1zM420 151h1v1h-1zM421 151h1v1h-1zM462 151h1v1h-1zM419 152h1v1h-1zM420 152h1v1h-1zM421 152h1v1h-1zM423 152h1v1h-1zM449 152h1v1h-1zM450 152h1v1h-1zM462 152h1v1h-1zM420 153h1v1h-1zM421 153h1v1h-1zM425 153h1v1h-1zM448 153h1v1h-1zM449 153h1v1h-1zM461 153h1v1h-1zM462 153h1v1h-1zM422 154h1v1h-1zM423 154h1v1h-1zM426 154h1v1h-1zM429 154h1v1h-1zM430 154h1v1h-1zM447 154h1v1h-1zM461 154h1v1h-1zM463 154h1v1h-1zM464 154h1v1h-1zM426 155h1v1h-1zM427 155h1v1h-1zM431 155h1v1h-1zM432 155h1v1h-1zM437 155h1v1h-1zM438 155h1v1h-1zM440 155h1v1h-1zM441 155h1v1h-1zM442 155h1v1h-1zM443 155h1v1h-1zM444 155h1v1h-1zM445 155h1v1h-1zM462 155h1v1h-1zM463 155h1v1h-1zM444 156h1v1h-1zM445 156h1v1h-1zM471 188h1v1h-1zM472 188h1v1h-1zM473 188h1v1h-1zM470 189h1v1h-1zM473 189h1v1h-1zM474 189h1v1h-1zM433 190h1v1h-1zM436 190h1v1h-1zM437 190h1v1h-1zM438 190h1v1h-1zM466 190h1v1h-1zM469 190h1v1h-1zM470 190h1v1h-1zM471 190h1v1h-1zM473 190h1v1h-1zM434 191h1v1h-1zM435 191h1v1h-1zM467 191h1v1h-1zM468 191h1v1h-1zM470 191h1v1h-1zM472 191h1v1h-1zM476 191h1v1h-1zM432 192h1v1h-1zM433 192h1v1h-1zM436 192h1v1h-1zM438 192h1v1h-1zM439 192h1v1h-1zM466 192h1v1h-1zM467 192h1v1h-1zM468 192h1v1h-1zM469 192h1v1h-1zM470 192h1v1h-1zM471 192h1v1h-1zM472 192h1v1h-1zM474 192h1v1h-1zM475 192h1v1h-1zM476 192h1v1h-1zM431 193h1v1h-1zM432 193h1v1h-1zM437 193h1v1h-1zM438 193h1v1h-1zM467 193h1v1h-1zM468 193h1v1h-1zM472 193h1v1h-1zM474 193h1v1h-1zM475 193h1v1h-1zM476 193h1v1h-1zM431 194h1v1h-1zM432 194h1v1h-1zM439 194h1v1h-1zM465 194h1v1h-1zM468 194h1v1h-1zM469 194h1v1h-1zM431 195h1v1h-1zM432 195h1v1h-1zM437 195h1v1h-1zM440 195h1v1h-1zM465 195h1v1h-1zM466 195h1v1h-1zM467 195h1v1h-1zM471 195h1v1h-1zM473 195h1v1h-1zM432 196h1v1h-1zM437 196h1v1h-1zM439 196h1v1h-1zM440 196h1v1h-1zM474 196h1v1h-1zM475 196h1v1h-1zM433 197h1v1h-1zM438 197h1v1h-1zM440 197h1v1h-1zM441 197h1v1h-1zM465 197h1v1h-1zM432 198h1v1h-1zM436 198h1v1h-1zM438 198h1v1h-1zM439 198h1v1h-1zM440 198h1v1h-1zM441 198h1v1h-1zM465 198h1v1h-1zM466 198h1v1h-1zM474 198h1v1h-1zM431 199h1v1h-1zM432 199h1v1h-1zM433 199h1v1h-1zM439 199h1v1h-1zM475 199h1v1h-1zM430 200h1v1h-1zM431 200h1v1h-1zM433 200h1v1h-1zM437 200h1v1h-1zM439 200h1v1h-1zM440 200h1v1h-1zM442 200h1v1h-1zM444 200h1v1h-1zM467 200h1v1h-1zM474 200h1v1h-1zM475 200h1v1h-1zM476 200h1v1h-1zM477 200h1v1h-1zM435 201h1v1h-1zM436 201h1v1h-1zM437 201h1v1h-1zM439 201h1v1h-1zM440 201h1v1h-1zM441 201h1v1h-1zM442 201h1v1h-1zM443 201h1v1h-1zM445 201h1v1h-1zM466 201h1v1h-1zM467 201h1v1h-1zM473 201h1v1h-1zM475 201h1v1h-1zM431 202h1v1h-1zM432 202h1v1h-1zM433 202h1v1h-1zM434 202h1v1h-1zM435 202h1v1h-1zM438 202h1v1h-1zM441 202h1v1h-1zM442 202h1v1h-1zM444 202h1v1h-1zM467 202h1v1h-1zM475 202h1v1h-1zM476 202h1v1h-1zM477 202h1v1h-1zM478 202h1v1h-1zM430 203h1v1h-1zM433 203h1v1h-1zM435 203h1v1h-1zM436 203h1v1h-1zM438 203h1v1h-1zM440 203h1v1h-1zM443 203h1v1h-1zM467 203h1v1h-1zM476 203h1v1h-1zM432 204h1v1h-1zM434 204h1v1h-1zM441 204h1v1h-1zM442 204h1v1h-1zM444 204h1v1h-1zM475 204h1v1h-1zM476 204h1v1h-1zM477 204h1v1h-1zM431 205h1v1h-1zM432 205h1v1h-1zM433 205h1v1h-1zM436 205h1v1h-1zM438 205h1v1h-1zM439 205h1v1h-1zM440 205h1v1h-1zM442 205h1v1h-1zM465 205h1v1h-1zM466 205h1v1h-1zM467 205h1v1h-1zM476 205h1v1h-1zM477 205h1v1h-1zM430 206h1v1h-1zM432 206h1v1h-1zM433 206h1v1h-1zM434 206h1v1h-1zM435 206h1v1h-1zM438 206h1v1h-1zM441 206h1v1h-1zM442 206h1v1h-1zM474 206h1v1h-1zM432 207h1v1h-1zM434 207h1v1h-1zM435 207h1v1h-1zM436 207h1v1h-1zM438 207h1v1h-1zM440 207h1v1h-1zM465 207h1v1h-1zM466 207h1v1h-1zM467 207h1v1h-1zM474 207h1v1h-1zM477 207h1v1h-1zM431 208h1v1h-1zM432 208h1v1h-1zM437 208h1v1h-1zM438 208h1v1h-1zM440 208h1v1h-1zM466 208h1v1h-1zM472 208h1v1h-1zM473 208h1v1h-1zM475 208h1v1h-1zM477 208h1v1h-1zM436 209h1v1h-1zM437 209h1v1h-1zM439 209h1v1h-1zM466 209h1v1h-1zM472 209h1v1h-1zM436 210h1v1h-1zM437 210h1v1h-1zM467 210h1v1h-1zM469 210h1v1h-1zM470 210h1v1h-1zM467 211h1v1h-1zM469 211h1v1h-1z"/>
<path fill="#4353ee" d="M435 136h1v1h-1zM436 136h1v1h-1zM437 136h1v1h-1zM438 136h1v1h-1zM440 136h1v1h-1zM442 136h1v1h-1zM430 137h1v1h-1zM431 137h1v1h-1zM433 137h1v1h-1zM434 137h1v1h-1zM445 137h1v1h-1zM447 137h1v1h-1zM428 138h1v1h-1zM429 138h1v1h-1zM448 138h1v1h-1zM426 139h1v1h-1zM427 139h1v1h-1zM428 139h1v1h-1zM424 140h1v1h-1zM425 140h1v1h-1zM426 140h1v1h-1zM449 140h1v1h-1zM424 141h1v1h-1zM470 141h1v1h-1zM471 141h1v1h-1zM472 141h1v1h-1zM473 141h1v1h-1zM423 142h1v1h-1zM424 142h1v1h-1zM425 142h1v1h-1zM450 142h1v1h-1zM469 142h1v1h-1zM473 142h1v1h-1zM474 142h1v1h-1zM425 143h1v1h-1zM450 143h1v1h-1zM422 144h1v1h-1zM423 144h1v1h-1zM450 144h1v1h-1zM422 145h1v1h-1zM423 145h1v1h-1zM424 145h1v1h-1zM425 145h1v1h-1zM466 145h1v1h-1zM420 146h1v1h-1zM421 146h1v1h-1zM423 146h1v1h-1zM424 146h1v1h-1zM449 146h1v1h-1zM473 146h1v1h-1zM418 147h1v1h-1zM419 147h1v1h-1zM421 147h1v1h-1zM423 147h1v1h-1zM424 147h1v1h-1zM418 148h1v1h-1zM419 148h1v1h-1zM421 148h1v1h-1zM425 148h1v1h-1zM449 148h1v1h-1zM419 149h1v1h-1zM421 149h1v1h-1zM422 149h1v1h-1zM423 149h1v1h-1zM424 149h1v1h-1zM463 150h1v1h-1zM422 151h1v1h-1zM423 151h1v1h-1zM424 151h1v1h-1zM425 151h1v1h-1zM426 151h1v1h-1zM448 151h1v1h-1zM468 151h1v1h-1zM424 152h1v1h-1zM427 152h1v1h-1zM428 152h1v1h-1zM429 152h1v1h-1zM463 152h1v1h-1zM466 152h1v1h-1zM467 152h1v1h-1zM427 153h1v1h-1zM428 153h1v1h-1zM429 153h1v1h-1zM431 153h1v1h-1zM463 153h1v1h-1zM464 153h1v1h-1zM432 154h1v1h-1zM434 154h1v1h-1zM435 154h1v1h-1zM436 154h1v1h-1zM437 154h1v1h-1zM440 154h1v1h-1zM443 154h1v1h-1zM444 154h1v1h-1zM445 154h1v1h-1zM434 192h1v1h-1zM435 192h1v1h-1zM433 193h1v1h-1zM434 193h1v1h-1zM435 193h1v1h-1zM433 194h1v1h-1zM434 194h1v1h-1zM435 194h1v1h-1zM436 194h1v1h-1zM434 195h1v1h-1zM436 195h1v1h-1zM434 196h1v1h-1zM435 196h1v1h-1zM468 196h1v1h-1zM469 196h1v1h-1zM471 196h1v1h-1zM472 196h1v1h-1zM473 196h1v1h-1zM434 197h1v1h-1zM435 197h1v1h-1zM467 197h1v1h-1zM468 197h1v1h-1zM472 197h1v1h-1zM473 197h1v1h-1zM433 198h1v1h-1zM434 198h1v1h-1zM467 198h1v1h-1zM468 198h1v1h-1zM473 198h1v1h-1zM434 199h1v1h-1zM435 199h1v1h-1zM437 199h1v1h-1zM467 199h1v1h-1zM468 199h1v1h-1zM472 199h1v1h-1zM473 199h1v1h-1zM436 200h1v1h-1zM469 200h1v1h-1zM471 200h1v1h-1zM473 200h1v1h-1zM468 201h1v1h-1zM469 201h1v1h-1zM470 201h1v1h-1zM469 202h1v1h-1zM470 202h1v1h-1zM471 202h1v1h-1zM468 203h1v1h-1zM469 203h1v1h-1zM470 203h1v1h-1zM471 203h1v1h-1zM472 203h1v1h-1zM474 203h1v1h-1zM433 204h1v1h-1zM470 204h1v1h-1zM471 204h1v1h-1zM472 204h1v1h-1zM474 204h1v1h-1zM468 205h1v1h-1zM469 205h1v1h-1zM470 205h1v1h-1zM471 205h1v1h-1zM472 205h1v1h-1zM473 205h1v1h-1zM474 205h1v1h-1zM469 206h1v1h-1zM470 206h1v1h-1zM471 206h1v1h-1zM473 206h1v1h-1zM468 207h1v1h-1zM469 207h1v1h-1zM470 207h1v1h-1zM471 207h1v1h-1zM472 207h1v1h-1zM473 207h1v1h-1zM468 208h1v1h-1zM469 208h1v1h-1zM471 208h1v1h-1z"/>
<path fill="#3147ef" d="M435 137h1v1h-1zM436 137h1v1h-1zM437 137h1v1h-1zM438 137h1v1h-1zM439 137h1v1h-1zM440 137h1v1h-1zM441 137h1v1h-1zM442 137h1v1h-1zM443 137h1v1h-1zM431 138h1v1h-1zM432 138h1v1h-1zM446 138h1v1h-1zM447 138h1v1h-1zM429 139h1v1h-1zM430 139h1v1h-1zM431 139h1v1h-1zM447 139h1v1h-1zM428 140h1v1h-1zM429 140h1v1h-1zM430 140h1v1h-1zM448 140h1v1h-1zM427 141h1v1h-1zM428 141h1v1h-1zM429 141h1v1h-1zM448 141h1v1h-1zM427 142h1v1h-1zM428 142h1v1h-1zM449 142h1v1h-1zM470 142h1v1h-1zM471 142h1v1h-1zM472 142h1v1h-1zM426 143h1v1h-1zM427 143h1v1h-1zM449 143h1v1h-1zM468 143h1v1h-1zM473 143h1v1h-1zM449 144h1v1h-1zM467 144h1v1h-1zM473 144h1v1h-1zM426 145h1v1h-1zM449 145h1v1h-1zM426 146h1v1h-1zM472 146h1v1h-1zM448 147h1v1h-1zM465 148h1v1h-1zM426 149h1v1h-1zM427 149h1v1h-1zM465 149h1v1h-1zM469 149h1v1h-1zM426 150h1v1h-1zM427 150h1v1h-1zM428 150h1v1h-1zM464 150h1v1h-1zM427 151h1v1h-1zM428 151h1v1h-1zM429 151h1v1h-1zM430 151h1v1h-1zM431 151h1v1h-1zM447 151h1v1h-1zM465 151h1v1h-1zM466 151h1v1h-1zM467 151h1v1h-1zM431 152h1v1h-1zM432 152h1v1h-1zM445 152h1v1h-1zM446 152h1v1h-1zM464 152h1v1h-1zM465 152h1v1h-1zM432 153h1v1h-1zM433 153h1v1h-1zM434 153h1v1h-1zM435 153h1v1h-1zM436 153h1v1h-1zM439 153h1v1h-1zM440 153h1v1h-1zM441 153h1v1h-1zM442 153h1v1h-1zM444 153h1v1h-1zM469 197h1v1h-1zM470 197h1v1h-1zM471 197h1v1h-1zM469 198h1v1h-1zM470 198h1v1h-1zM471 198h1v1h-1zM472 198h1v1h-1zM469 199h1v1h-1zM471 199h1v1h-1z"/>
<path fill="#274bef" d="M434 138h1v1h-1zM435 138h1v1h-1zM436 138h1v1h-1zM440 138h1v1h-1zM441 138h1v1h-1zM443 138h1v1h-1zM444 138h1v1h-1zM432 139h1v1h-1zM433 139h1v1h-1zM446 139h1v1h-1zM447 140h1v1h-1zM431 141h1v1h-1zM429 142h1v1h-1zM430 142h1v1h-1zM448 142h1v1h-1zM428 143h1v1h-1zM429 143h1v1h-1zM448 143h1v1h-1zM469 143h1v1h-1zM470 143h1v1h-1zM471 143h1v1h-1zM472 143h1v1h-1zM427 144h1v1h-1zM428 144h1v1h-1zM448 144h1v1h-1zM468 144h1v1h-1zM472 144h1v1h-1zM427 145h1v1h-1zM467 145h1v1h-1zM472 145h1v1h-1zM427 146h1v1h-1zM448 146h1v1h-1zM467 146h1v1h-1zM427 147h1v1h-1zM447 147h1v1h-1zM466 147h1v1h-1zM471 147h1v1h-1zM427 148h1v1h-1zM428 148h1v1h-1zM466 148h1v1h-1zM470 148h1v1h-1zM429 149h1v1h-1zM430 149h1v1h-1zM431 149h1v1h-1zM447 149h1v1h-1zM466 149h1v1h-1zM467 149h1v1h-1zM468 149h1v1h-1zM429 150h1v1h-1zM431 150h1v1h-1zM446 150h1v1h-1zM447 150h1v1h-1zM465 150h1v1h-1zM466 150h1v1h-1zM467 150h1v1h-1zM432 151h1v1h-1zM433 151h1v1h-1zM434 151h1v1h-1zM445 151h1v1h-1zM446 151h1v1h-1zM433 152h1v1h-1zM434 152h1v1h-1zM435 152h1v1h-1zM436 152h1v1h-1zM438 152h1v1h-1zM439 152h1v1h-1zM440 152h1v1h-1zM441 152h1v1h-1zM442 152h1v1h-1zM443 152h1v1h-1zM444 152h1v1h-1z"/>
<path fill="#245fec" d="M437 138h1v1h-1zM438 138h1v1h-1zM439 138h1v1h-1zM434 139h1v1h-1zM435 139h1v1h-1zM445 139h1v1h-1zM432 140h1v1h-1zM433 140h1v1h-1zM446 140h1v1h-1zM447 141h1v1h-1zM431 142h1v1h-1zM447 142h1v1h-1zM430 143h1v1h-1zM431 143h1v1h-1zM447 143h1v1h-1zM429 144h1v1h-1zM430 144h1v1h-1zM469 144h1v1h-1zM470 144h1v1h-1zM471 144h1v1h-1zM428 145h1v1h-1zM429 145h1v1h-1zM447 145h1v1h-1zM468 145h1v1h-1zM428 146h1v1h-1zM429 146h1v1h-1zM447 146h1v1h-1zM468 146h1v1h-1zM471 146h1v1h-1zM428 147h1v1h-1zM429 147h1v1h-1zM430 147h1v1h-1zM431 147h1v1h-1zM467 147h1v1h-1zM468 147h1v1h-1zM469 147h1v1h-1zM470 147h1v1h-1zM429 148h1v1h-1zM430 148h1v1h-1zM431 148h1v1h-1zM432 148h1v1h-1zM446 148h1v1h-1zM469 148h1v1h-1zM433 149h1v1h-1zM446 149h1v1h-1zM435 150h1v1h-1zM436 151h1v1h-1zM437 151h1v1h-1zM443 151h1v1h-1zM444 151h1v1h-1z"/>
<path fill="#2173e9" d="M436 139h1v1h-1zM437 139h1v1h-1zM439 139h1v1h-1zM440 139h1v1h-1zM441 139h1v1h-1zM442 139h1v1h-1zM443 139h1v1h-1zM444 139h1v1h-1zM434 140h1v1h-1zM445 140h1v1h-1zM433 141h1v1h-1zM446 141h1v1h-1zM432 142h1v1h-1zM446 142h1v1h-1zM432 143h1v1h-1zM431 144h1v1h-1zM432 144h1v1h-1zM447 144h1v1h-1zM430 145h1v1h-1zM431 145h1v1h-1zM432 145h1v1h-1zM469 145h1v1h-1zM470 145h1v1h-1zM430 146h1v1h-1zM432 146h1v1h-1zM446 146h1v1h-1zM469 146h1v1h-1zM470 146h1v1h-1zM432 147h1v1h-1zM446 147h1v1h-1zM433 148h1v1h-1zM445 148h1v1h-1zM436 150h1v1h-1zM437 150h1v1h-1zM444 150h1v1h-1zM438 151h1v1h-1zM439 151h1v1h-1zM440 151h1v1h-1zM441 151h1v1h-1zM442 151h1v1h-1z"/>
<path fill="#1f87e7" d="M435 140h1v1h-1zM436 140h1v1h-1zM437 140h1v1h-1zM442 140h1v1h-1zM443 140h1v1h-1zM444 140h1v1h-1zM434 141h1v1h-1zM435 141h1v1h-1zM445 141h1v1h-1zM433 142h1v1h-1zM433 143h1v1h-1zM446 143h1v1h-1zM433 144h1v1h-1zM446 144h1v1h-1zM433 145h1v1h-1zM446 145h1v1h-1zM433 146h1v1h-1zM433 147h1v1h-1zM445 147h1v1h-1zM434 148h1v1h-1zM436 149h1v1h-1zM444 149h1v1h-1zM438 150h1v1h-1zM442 150h1v1h-1zM443 150h1v1h-1z"/>
<path fill="#209dd0" d="M438 140h1v1h-1zM439 140h1v1h-1zM440 140h1v1h-1zM441 140h1v1h-1zM436 141h1v1h-1zM444 141h1v1h-1zM434 142h1v1h-1zM435 142h1v1h-1zM445 142h1v1h-1zM434 143h1v1h-1zM445 143h1v1h-1zM434 144h1v1h-1zM434 145h1v1h-1zM434 146h1v1h-1zM445 146h1v1h-1zM434 147h1v1h-1zM444 147h1v1h-1zM435 148h1v1h-1zM444 148h1v1h-1zM437 149h1v1h-1zM443 149h1v1h-1zM439 150h1v1h-1zM440 150h1v1h-1zM441 150h1v1h-1z"/>
<path fill="#24b5b2" d="M438 141h1v1h-1zM441 141h1v1h-1zM442 141h1v1h-1zM443 141h1v1h-1zM436 142h1v1h-1zM444 142h1v1h-1zM435 143h1v1h-1zM435 144h1v1h-1zM445 144h1v1h-1zM435 145h1v1h-1zM445 145h1v1h-1zM435 146h1v1h-1zM444 146h1v1h-1zM435 147h1v1h-1zM436 148h1v1h-1zM437 148h1v1h-1zM443 148h1v1h-1zM438 149h1v1h-1zM439 149h1v1h-1zM440 149h1v1h-1zM441 149h1v1h-1zM442 149h1v1h-1z"/>
<path fill="#27cc94" d="M439 141h1v1h-1zM440 141h1v1h-1zM437 142h1v1h-1zM438 142h1v1h-1zM443 142h1v1h-1zM436 143h1v1h-1zM444 143h1v1h-1zM436 144h1v1h-1zM444 144h1v1h-1zM444 145h1v1h-1zM436 146h1v1h-1zM443 146h1v1h-1zM436 147h1v1h-1zM443 147h1v1h-1zM438 148h1v1h-1zM442 148h1v1h-1z"/>
<path fill="#2fd978" d="M439 142h1v1h-1zM440 142h1v1h-1zM441 142h1v1h-1zM442 142h1v1h-1zM437 143h1v1h-1zM443 143h1v1h-1zM437 144h1v1h-1zM443 144h1v1h-1zM436 145h1v1h-1zM443 145h1v1h-1zM437 146h1v1h-1zM437 147h1v1h-1zM438 147h1v1h-1zM442 147h1v1h-1zM439 148h1v1h-1zM440 148h1v1h-1zM441 148h1v1h-1z"/>
<path fill="#38e25d" d="M438 143h1v1h-1zM442 143h1v1h-1zM437 145h1v1h-1zM442 145h1v1h-1zM438 146h1v1h-1zM442 146h1v1h-1zM439 147h1v1h-1zM440 147h1v1h-1zM441 147h1v1h-1z"/>
<path fill="#6be843" d="M439 143h1v1h-1zM440 143h1v1h-1zM441 143h1v1h-1zM438 144h1v1h-1zM441 144h1v1h-1zM442 144h1v1h-1zM438 145h1v1h-1zM441 145h1v1h-1zM439 146h1v1h-1zM440 146h1v1h-1zM441 146h1v1h-1z"/>
<path fill="#c8eb28" d="M439 144h1v1h-1zM440 144h1v1h-1zM439 145h1v1h-1zM440 145h1v1h-1z"/>
<path fill="#7878eb" d="M475 245h1v1h-1zM443 246h1v1h-1zM430 247h1v1h-1zM440 247h1v1h-1zM482 247h1v1h-1zM422 248h1v1h-1zM480 251h1v1h-1zM426 252h1v1h-1zM449 252h1v1h-1zM452 252h1v1h-1zM453 255h1v1h-1zM423 257h1v1h-1zM421 264h1v1h-1zM451 268h1v1h-1zM494 269h1v1h-1zM504 269h1v1h-1zM454 270h1v1h-1zM499 270h1v1h-1zM423 271h1v1h-1zM462 276h1v1h-1zM450 278h1v1h-1zM479 279h1v1h-1zM470 280h1v1h-1zM425 281h1v1h-1zM452 281h1v1h-1zM470 282h1v1h-1zM450 283h1v1h-1zM428 284h1v1h-1zM440 285h1v1h-1zM425 290h1v1h-1zM466 291h1v1h-1zM423 293h1v1h-1zM428 294h1v1h-1zM507 295h1v1h-1zM469 296h1v1h-1zM472 296h1v1h-1zM421 297h1v1h-1zM478 297h1v1h-1zM464 298h1v1h-1zM464 299h1v1h-1zM481 301h1v1h-1zM482 304h1v1h-1zM461 305h1v1h-1zM459 306h1v1h-1zM462 306h1v1h-1zM482 307h1v1h-1zM481 308h1v1h-1zM456 309h1v1h-1zM462 311h1v1h-1zM481 311h1v1h-1zM417 313h1v1h-1zM460 314h1v1h-1zM482 320h1v1h-1zM417 321h1v1h-1zM419 321h1v1h-1zM459 322h1v1h-1zM505 323h1v1h-1zM457 324h1v1h-1zM460 325h1v1h-1zM455 329h1v1h-1zM461 330h1v1h-1zM482 331h1v1h-1zM499 332h1v1h-1zM456 335h1v1h-1z"/>
<path fill="#666cec" d="M435 248h1v1h-1zM474 248h1v1h-1zM475 248h1v1h-1zM431 249h1v1h-1zM436 249h1v1h-1zM437 249h1v1h-1zM473 249h1v1h-1zM477 249h1v1h-1zM478 249h1v1h-1zM470 250h1v1h-1zM432 251h1v1h-1zM436 251h1v1h-1zM428 252h1v1h-1zM433 252h1v1h-1zM434 252h1v1h-1zM478 252h1v1h-1zM428 253h1v1h-1zM436 253h1v1h-1zM443 254h1v1h-1zM449 254h1v1h-1zM446 255h1v1h-1zM448 255h1v1h-1zM450 256h1v1h-1zM424 257h1v1h-1zM449 257h1v1h-1zM468 257h1v1h-1zM447 258h1v1h-1zM452 258h1v1h-1zM425 259h1v1h-1zM447 259h1v1h-1zM448 259h1v1h-1zM451 259h1v1h-1zM448 262h1v1h-1zM481 262h1v1h-1zM424 264h1v1h-1zM423 265h1v1h-1zM447 265h1v1h-1zM448 265h1v1h-1zM425 267h1v1h-1zM446 267h1v1h-1zM448 267h1v1h-1zM425 269h1v1h-1zM450 269h1v1h-1zM468 269h1v1h-1zM480 269h1v1h-1zM428 270h1v1h-1zM448 270h1v1h-1zM428 271h1v1h-1zM430 271h1v1h-1zM447 271h1v1h-1zM446 272h1v1h-1zM445 273h1v1h-1zM447 273h1v1h-1zM429 274h1v1h-1zM447 274h1v1h-1zM448 274h1v1h-1zM450 274h1v1h-1zM451 274h1v1h-1zM426 275h1v1h-1zM429 275h1v1h-1zM447 275h1v1h-1zM428 276h1v1h-1zM444 276h1v1h-1zM449 276h1v1h-1zM427 277h1v1h-1zM428 277h1v1h-1zM444 277h1v1h-1zM448 277h1v1h-1zM472 277h1v1h-1zM431 278h1v1h-1zM435 278h1v1h-1zM437 278h1v1h-1zM427 279h1v1h-1zM428 279h1v1h-1zM431 279h1v1h-1zM433 279h1v1h-1zM440 279h1v1h-1zM443 279h1v1h-1zM476 279h1v1h-1zM477 279h1v1h-1zM434 280h1v1h-1zM441 280h1v1h-1zM442 280h1v1h-1zM443 280h1v1h-1zM473 280h1v1h-1zM439 281h1v1h-1zM473 281h1v1h-1zM447 294h1v1h-1zM446 295h1v1h-1zM447 295h1v1h-1zM438 296h1v1h-1zM440 296h1v1h-1zM446 296h1v1h-1zM430 297h1v1h-1zM433 297h1v1h-1zM434 297h1v1h-1zM435 297h1v1h-1zM439 297h1v1h-1zM445 297h1v1h-1zM446 297h1v1h-1zM421 298h1v1h-1zM435 298h1v1h-1zM436 298h1v1h-1zM441 298h1v1h-1zM443 298h1v1h-1zM451 298h1v1h-1zM420 299h1v1h-1zM427 299h1v1h-1zM428 299h1v1h-1zM429 299h1v1h-1zM437 299h1v1h-1zM440 299h1v1h-1zM470 299h1v1h-1zM472 299h1v1h-1zM474 299h1v1h-1zM475 299h1v1h-1zM424 300h1v1h-1zM427 300h1v1h-1zM435 300h1v1h-1zM453 300h1v1h-1zM477 300h1v1h-1zM478 300h1v1h-1zM421 301h1v1h-1zM422 301h1v1h-1zM423 301h1v1h-1zM427 301h1v1h-1zM428 301h1v1h-1zM431 301h1v1h-1zM432 301h1v1h-1zM434 301h1v1h-1zM452 301h1v1h-1zM453 301h1v1h-1zM420 302h1v1h-1zM424 302h1v1h-1zM430 302h1v1h-1zM468 302h1v1h-1zM469 302h1v1h-1zM471 302h1v1h-1zM473 302h1v1h-1zM475 302h1v1h-1zM420 303h1v1h-1zM454 303h1v1h-1zM475 303h1v1h-1zM476 303h1v1h-1zM477 303h1v1h-1zM478 303h1v1h-1zM420 304h1v1h-1zM421 304h1v1h-1zM424 304h1v1h-1zM452 304h1v1h-1zM477 304h1v1h-1zM478 304h1v1h-1zM419 305h1v1h-1zM420 306h1v1h-1zM423 306h1v1h-1zM454 306h1v1h-1zM465 306h1v1h-1zM475 306h1v1h-1zM477 306h1v1h-1zM467 307h1v1h-1zM421 308h1v1h-1zM453 308h1v1h-1zM477 308h1v1h-1zM420 309h1v1h-1zM466 309h1v1h-1zM420 310h1v1h-1zM421 310h1v1h-1zM453 310h1v1h-1zM464 310h1v1h-1zM477 310h1v1h-1zM418 311h1v1h-1zM452 311h1v1h-1zM454 311h1v1h-1zM421 312h1v1h-1zM479 312h1v1h-1zM478 313h1v1h-1zM421 314h1v1h-1zM422 314h1v1h-1zM465 314h1v1h-1zM419 315h1v1h-1zM453 315h1v1h-1zM464 315h1v1h-1zM479 315h1v1h-1zM480 315h1v1h-1zM453 316h1v1h-1zM464 317h1v1h-1zM478 317h1v1h-1zM481 317h1v1h-1zM420 318h1v1h-1zM422 318h1v1h-1zM422 319h1v1h-1zM464 319h1v1h-1zM465 319h1v1h-1zM478 319h1v1h-1zM479 319h1v1h-1zM453 320h1v1h-1zM465 320h1v1h-1zM478 321h1v1h-1zM453 322h1v1h-1zM478 322h1v1h-1zM422 323h1v1h-1zM464 323h1v1h-1zM480 323h1v1h-1zM481 323h1v1h-1zM464 324h1v1h-1zM422 325h1v1h-1zM463 325h1v1h-1zM465 325h1v1h-1zM479 325h1v1h-1zM479 326h1v1h-1zM461 327h1v1h-1zM466 327h1v1h-1zM452 328h1v1h-1zM454 328h1v1h-1zM460 328h1v1h-1zM463 328h1v1h-1zM465 328h1v1h-1zM479 328h1v1h-1zM420 329h1v1h-1zM478 329h1v1h-1zM479 329h1v1h-1zM420 330h1v1h-1zM419 331h1v1h-1zM420 331h1v1h-1zM422 331h1v1h-1zM478 331h1v1h-1zM420 332h1v1h-1zM452 332h1v1h-1zM453 332h1v1h-1zM478 332h1v1h-1zM453 333h1v1h-1zM454 333h1v1h-1zM478 333h1v1h-1zM480 333h1v1h-1zM421 334h1v1h-1zM423 334h1v1h-1zM425 334h1v1h-1zM451 334h1v1h-1zM464 334h1v1h-1zM465 334h1v1h-1zM466 334h1v1h-1zM477 334h1v1h-1zM478 334h1v1h-1zM421 335h1v1h-1zM426 335h1v1h-1zM429 335h1v1h-1zM448 335h1v1h-1zM450 335h1v1h-1zM466 335h1v1h-1zM472 335h1v1h-1zM475 335h1v1h-1z"/>
<path fill="#5460ed" d="M475 249h1v1h-1zM475 250h1v1h-1zM472 252h1v1h-1zM437 253h1v1h-1zM440 253h1v1h-1zM471 253h1v1h-1zM431 254h1v1h-1zM436 254h1v1h-1zM440 254h1v1h-1zM441 254h1v1h-1zM442 254h1v1h-1zM429 255h1v1h-1zM430 255h1v1h-1zM431 255h1v1h-1zM432 255h1v1h-1zM434 255h1v1h-1zM443 255h1v1h-1zM444 255h1v1h-1zM429 256h1v1h-1zM430 256h1v1h-1zM442 256h1v1h-1zM443 256h1v1h-1zM444 256h1v1h-1zM445 256h1v1h-1zM429 257h1v1h-1zM440 257h1v1h-1zM441 257h1v1h-1zM429 258h1v1h-1zM442 258h1v1h-1zM444 258h1v1h-1zM469 258h1v1h-1zM427 259h1v1h-1zM428 259h1v1h-1zM442 259h1v1h-1zM444 259h1v1h-1zM480 259h1v1h-1zM426 260h1v1h-1zM445 260h1v1h-1zM446 260h1v1h-1zM426 261h1v1h-1zM427 261h1v1h-1zM426 262h1v1h-1zM427 262h1v1h-1zM469 262h1v1h-1zM480 262h1v1h-1zM444 264h1v1h-1zM445 264h1v1h-1zM425 265h1v1h-1zM426 265h1v1h-1zM427 265h1v1h-1zM425 266h1v1h-1zM426 266h1v1h-1zM427 267h1v1h-1zM428 267h1v1h-1zM445 267h1v1h-1zM426 268h1v1h-1zM431 268h1v1h-1zM479 268h1v1h-1zM427 269h1v1h-1zM428 269h1v1h-1zM429 269h1v1h-1zM444 269h1v1h-1zM445 269h1v1h-1zM446 269h1v1h-1zM442 270h1v1h-1zM444 270h1v1h-1zM445 270h1v1h-1zM470 270h1v1h-1zM442 271h1v1h-1zM443 271h1v1h-1zM432 272h1v1h-1zM431 273h1v1h-1zM433 273h1v1h-1zM443 273h1v1h-1zM471 273h1v1h-1zM477 273h1v1h-1zM442 274h1v1h-1zM443 274h1v1h-1zM444 274h1v1h-1zM471 274h1v1h-1zM472 274h1v1h-1zM433 275h1v1h-1zM434 275h1v1h-1zM437 275h1v1h-1zM440 275h1v1h-1zM441 275h1v1h-1zM477 275h1v1h-1zM430 276h1v1h-1zM432 276h1v1h-1zM436 276h1v1h-1zM437 276h1v1h-1zM438 276h1v1h-1zM439 276h1v1h-1zM440 276h1v1h-1zM442 276h1v1h-1zM473 276h1v1h-1zM476 276h1v1h-1zM429 277h1v1h-1zM432 277h1v1h-1zM435 277h1v1h-1zM437 277h1v1h-1zM441 277h1v1h-1zM442 277h1v1h-1zM474 277h1v1h-1zM475 277h1v1h-1zM476 277h1v1h-1zM440 278h1v1h-1zM441 278h1v1h-1zM475 278h1v1h-1zM475 279h1v1h-1zM445 298h1v1h-1zM443 299h1v1h-1zM444 299h1v1h-1zM445 299h1v1h-1zM440 300h1v1h-1zM444 300h1v1h-1zM446 300h1v1h-1zM448 300h1v1h-1zM449 300h1v1h-1zM435 302h1v1h-1zM437 302h1v1h-1zM451 302h1v1h-1zM429 303h1v1h-1zM433 303h1v1h-1zM471 303h1v1h-1zM428 304h1v1h-1zM431 304h1v1h-1zM468 304h1v1h-1zM469 304h1v1h-1zM470 304h1v1h-1zM472 304h1v1h-1zM426 305h1v1h-1zM468 305h1v1h-1zM469 305h1v1h-1zM470 305h1v1h-1zM471 305h1v1h-1zM425 306h1v1h-1zM469 306h1v1h-1zM472 306h1v1h-1zM450 307h1v1h-1zM451 307h1v1h-1zM469 307h1v1h-1zM470 307h1v1h-1zM472 307h1v1h-1zM423 308h1v1h-1zM424 308h1v1h-1zM451 308h1v1h-1zM469 308h1v1h-1zM471 308h1v1h-1zM451 309h1v1h-1zM452 309h1v1h-1zM473 309h1v1h-1zM474 309h1v1h-1zM475 309h1v1h-1zM422 310h1v1h-1zM423 310h1v1h-1zM450 310h1v1h-1zM467 310h1v1h-1zM468 310h1v1h-1zM474 310h1v1h-1zM423 311h1v1h-1zM451 311h1v1h-1zM466 311h1v1h-1zM475 311h1v1h-1zM476 311h1v1h-1zM423 312h1v1h-1zM424 312h1v1h-1zM477 312h1v1h-1zM424 313h1v1h-1zM467 313h1v1h-1zM423 314h1v1h-1zM451 314h1v1h-1zM466 314h1v1h-1zM477 314h1v1h-1zM451 315h1v1h-1zM465 315h1v1h-1zM466 315h1v1h-1zM467 315h1v1h-1zM424 316h1v1h-1zM452 316h1v1h-1zM465 316h1v1h-1zM476 316h1v1h-1zM424 317h1v1h-1zM466 317h1v1h-1zM467 317h1v1h-1zM423 318h1v1h-1zM424 318h1v1h-1zM468 318h1v1h-1zM476 318h1v1h-1zM425 319h1v1h-1zM450 319h1v1h-1zM467 319h1v1h-1zM424 320h1v1h-1zM425 320h1v1h-1zM427 320h1v1h-1zM450 320h1v1h-1zM476 320h1v1h-1zM423 321h1v1h-1zM451 321h1v1h-1zM423 322h1v1h-1zM425 322h1v1h-1zM452 322h1v1h-1zM423 323h1v1h-1zM426 323h1v1h-1zM452 323h1v1h-1zM476 323h1v1h-1zM423 324h1v1h-1zM424 324h1v1h-1zM425 324h1v1h-1zM466 324h1v1h-1zM476 324h1v1h-1zM478 324h1v1h-1zM423 325h1v1h-1zM425 325h1v1h-1zM476 325h1v1h-1zM451 326h1v1h-1zM476 326h1v1h-1zM477 326h1v1h-1zM478 326h1v1h-1zM423 327h1v1h-1zM424 327h1v1h-1zM476 327h1v1h-1zM477 327h1v1h-1zM424 328h1v1h-1zM450 328h1v1h-1zM451 328h1v1h-1zM470 328h1v1h-1zM424 329h1v1h-1zM451 329h1v1h-1zM468 329h1v1h-1zM425 330h1v1h-1zM449 330h1v1h-1zM450 330h1v1h-1zM451 330h1v1h-1zM468 330h1v1h-1zM469 330h1v1h-1zM423 331h1v1h-1zM427 331h1v1h-1zM449 331h1v1h-1zM451 331h1v1h-1zM467 331h1v1h-1zM468 331h1v1h-1zM477 331h1v1h-1zM424 332h1v1h-1zM427 332h1v1h-1zM428 332h1v1h-1zM429 332h1v1h-1zM431 332h1v1h-1zM468 332h1v1h-1zM475 332h1v1h-1zM476 332h1v1h-1zM425 333h1v1h-1zM427 333h1v1h-1zM430 333h1v1h-1zM432 333h1v1h-1zM433 333h1v1h-1zM448 333h1v1h-1zM466 333h1v1h-1zM469 333h1v1h-1zM474 333h1v1h-1zM476 333h1v1h-1zM428 334h1v1h-1zM429 334h1v1h-1zM430 334h1v1h-1zM432 334h1v1h-1zM433 334h1v1h-1zM446 334h1v1h-1zM448 334h1v1h-1zM467 334h1v1h-1zM469 334h1v1h-1zM470 334h1v1h-1zM471 334h1v1h-1zM472 334h1v1h-1zM473 334h1v1h-1zM432 335h1v1h-1zM433 335h1v1h-1zM435 335h1v1h-1zM436 335h1v1h-1zM437 335h1v1h-1zM440 335h1v1h-1zM441 335h1v1h-1zM443 335h1v1h-1zM444 335h1v1h-1z"/>
<path fill="#4353ee" d="M474 251h1v1h-1zM475 251h1v1h-1zM473 252h1v1h-1zM476 252h1v1h-1zM478 254h1v1h-1zM436 255h1v1h-1zM437 255h1v1h-1zM438 255h1v1h-1zM432 256h1v1h-1zM433 256h1v1h-1zM435 256h1v1h-1zM437 256h1v1h-1zM438 256h1v1h-1zM439 256h1v1h-1zM479 256h1v1h-1zM432 257h1v1h-1zM434 257h1v1h-1zM435 257h1v1h-1zM438 257h1v1h-1zM430 258h1v1h-1zM431 258h1v1h-1zM432 258h1v1h-1zM435 258h1v1h-1zM439 258h1v1h-1zM438 259h1v1h-1zM479 259h1v1h-1zM431 260h1v1h-1zM432 260h1v1h-1zM434 260h1v1h-1zM438 260h1v1h-1zM439 260h1v1h-1zM442 260h1v1h-1zM470 260h1v1h-1zM479 260h1v1h-1zM428 261h1v1h-1zM429 261h1v1h-1zM430 261h1v1h-1zM431 261h1v1h-1zM432 261h1v1h-1zM438 261h1v1h-1zM441 261h1v1h-1zM442 261h1v1h-1zM443 261h1v1h-1zM428 262h1v1h-1zM430 262h1v1h-1zM431 262h1v1h-1zM439 262h1v1h-1zM440 262h1v1h-1zM444 262h1v1h-1zM428 263h1v1h-1zM429 263h1v1h-1zM443 263h1v1h-1zM470 263h1v1h-1zM479 263h1v1h-1zM429 264h1v1h-1zM430 264h1v1h-1zM443 264h1v1h-1zM470 264h1v1h-1zM429 265h1v1h-1zM430 265h1v1h-1zM431 265h1v1h-1zM432 265h1v1h-1zM442 265h1v1h-1zM443 265h1v1h-1zM479 265h1v1h-1zM428 266h1v1h-1zM430 266h1v1h-1zM431 266h1v1h-1zM433 266h1v1h-1zM441 266h1v1h-1zM442 266h1v1h-1zM470 266h1v1h-1zM429 267h1v1h-1zM430 267h1v1h-1zM432 267h1v1h-1zM440 267h1v1h-1zM441 267h1v1h-1zM442 267h1v1h-1zM433 268h1v1h-1zM439 268h1v1h-1zM433 269h1v1h-1zM438 269h1v1h-1zM441 269h1v1h-1zM433 270h1v1h-1zM438 270h1v1h-1zM441 270h1v1h-1zM471 270h1v1h-1zM477 270h1v1h-1zM434 271h1v1h-1zM439 271h1v1h-1zM440 271h1v1h-1zM441 271h1v1h-1zM433 272h1v1h-1zM436 272h1v1h-1zM437 272h1v1h-1zM440 272h1v1h-1zM441 272h1v1h-1zM472 272h1v1h-1zM477 272h1v1h-1zM435 273h1v1h-1zM436 273h1v1h-1zM437 273h1v1h-1zM438 273h1v1h-1zM439 273h1v1h-1zM440 273h1v1h-1zM472 273h1v1h-1zM476 273h1v1h-1zM440 274h1v1h-1zM473 274h1v1h-1zM475 274h1v1h-1zM438 275h1v1h-1zM473 275h1v1h-1zM476 275h1v1h-1zM474 276h1v1h-1zM475 276h1v1h-1zM442 301h1v1h-1zM443 301h1v1h-1zM444 301h1v1h-1zM446 301h1v1h-1zM447 301h1v1h-1zM449 301h1v1h-1zM438 302h1v1h-1zM440 302h1v1h-1zM441 302h1v1h-1zM448 302h1v1h-1zM449 302h1v1h-1zM450 302h1v1h-1zM436 303h1v1h-1zM437 303h1v1h-1zM449 303h1v1h-1zM434 304h1v1h-1zM436 304h1v1h-1zM448 304h1v1h-1zM449 304h1v1h-1zM450 304h1v1h-1zM430 305h1v1h-1zM432 305h1v1h-1zM433 305h1v1h-1zM434 305h1v1h-1zM449 305h1v1h-1zM426 306h1v1h-1zM427 306h1v1h-1zM430 306h1v1h-1zM431 306h1v1h-1zM433 306h1v1h-1zM426 307h1v1h-1zM448 307h1v1h-1zM432 308h1v1h-1zM448 308h1v1h-1zM432 309h1v1h-1zM448 309h1v1h-1zM449 309h1v1h-1zM470 309h1v1h-1zM469 310h1v1h-1zM471 310h1v1h-1zM473 310h1v1h-1zM448 311h1v1h-1zM449 311h1v1h-1zM468 311h1v1h-1zM469 311h1v1h-1zM470 311h1v1h-1zM473 311h1v1h-1zM425 312h1v1h-1zM448 312h1v1h-1zM473 312h1v1h-1zM475 312h1v1h-1zM468 313h1v1h-1zM474 313h1v1h-1zM475 313h1v1h-1zM425 314h1v1h-1zM426 314h1v1h-1zM448 314h1v1h-1zM449 314h1v1h-1zM468 314h1v1h-1zM475 314h1v1h-1zM426 315h1v1h-1zM450 315h1v1h-1zM469 315h1v1h-1zM426 316h1v1h-1zM427 316h1v1h-1zM450 316h1v1h-1zM475 316h1v1h-1zM427 317h1v1h-1zM450 317h1v1h-1zM468 317h1v1h-1zM469 317h1v1h-1zM470 317h1v1h-1zM475 317h1v1h-1zM425 318h1v1h-1zM426 318h1v1h-1zM427 318h1v1h-1zM428 318h1v1h-1zM469 318h1v1h-1zM475 318h1v1h-1zM426 319h1v1h-1zM449 319h1v1h-1zM469 319h1v1h-1zM475 319h1v1h-1zM428 320h1v1h-1zM429 320h1v1h-1zM468 320h1v1h-1zM475 320h1v1h-1zM428 321h1v1h-1zM467 321h1v1h-1zM475 321h1v1h-1zM467 322h1v1h-1zM474 322h1v1h-1zM427 323h1v1h-1zM428 323h1v1h-1zM429 323h1v1h-1zM430 323h1v1h-1zM450 323h1v1h-1zM451 323h1v1h-1zM466 323h1v1h-1zM474 323h1v1h-1zM475 323h1v1h-1zM426 324h1v1h-1zM428 324h1v1h-1zM450 324h1v1h-1zM467 324h1v1h-1zM427 325h1v1h-1zM428 325h1v1h-1zM450 325h1v1h-1zM429 326h1v1h-1zM468 326h1v1h-1zM469 326h1v1h-1zM470 326h1v1h-1zM473 326h1v1h-1zM425 327h1v1h-1zM426 327h1v1h-1zM428 327h1v1h-1zM449 327h1v1h-1zM472 327h1v1h-1zM473 327h1v1h-1zM474 327h1v1h-1zM425 328h1v1h-1zM428 328h1v1h-1zM447 328h1v1h-1zM448 328h1v1h-1zM449 328h1v1h-1zM472 328h1v1h-1zM473 328h1v1h-1zM474 328h1v1h-1zM475 328h1v1h-1zM426 329h1v1h-1zM446 329h1v1h-1zM447 329h1v1h-1zM472 329h1v1h-1zM473 329h1v1h-1zM474 329h1v1h-1zM426 330h1v1h-1zM427 330h1v1h-1zM431 330h1v1h-1zM432 330h1v1h-1zM471 330h1v1h-1zM473 330h1v1h-1zM475 330h1v1h-1zM433 331h1v1h-1zM434 331h1v1h-1zM447 331h1v1h-1zM469 331h1v1h-1zM470 331h1v1h-1zM471 331h1v1h-1zM474 331h1v1h-1zM435 332h1v1h-1zM446 332h1v1h-1zM469 332h1v1h-1zM470 332h1v1h-1zM472 332h1v1h-1zM473 332h1v1h-1zM474 332h1v1h-1zM435 333h1v1h-1zM437 333h1v1h-1zM438 333h1v1h-1zM439 333h1v1h-1zM440 333h1v1h-1zM441 333h1v1h-1zM445 333h1v1h-1zM446 333h1v1h-1zM472 333h1v1h-1zM473 333h1v1h-1zM436 334h1v1h-1zM441 334h1v1h-1zM443 334h1v1h-1zM444 334h1v1h-1z"/>
<path fill="#3147ef" d="M474 252h1v1h-1zM475 252h1v1h-1zM473 253h1v1h-1zM477 254h1v1h-1zM472 255h1v1h-1zM478 256h1v1h-1zM437 257h1v1h-1zM471 257h1v1h-1zM436 258h1v1h-1zM437 258h1v1h-1zM436 259h1v1h-1zM437 259h1v1h-1zM435 260h1v1h-1zM436 260h1v1h-1zM433 261h1v1h-1zM434 261h1v1h-1zM436 261h1v1h-1zM433 262h1v1h-1zM434 262h1v1h-1zM435 262h1v1h-1zM436 262h1v1h-1zM441 262h1v1h-1zM442 262h1v1h-1zM479 262h1v1h-1zM432 263h1v1h-1zM433 263h1v1h-1zM434 263h1v1h-1zM435 263h1v1h-1zM436 263h1v1h-1zM437 263h1v1h-1zM441 263h1v1h-1zM442 263h1v1h-1zM432 264h1v1h-1zM433 264h1v1h-1zM434 264h1v1h-1zM435 264h1v1h-1zM436 264h1v1h-1zM437 264h1v1h-1zM438 264h1v1h-1zM439 264h1v1h-1zM440 264h1v1h-1zM433 265h1v1h-1zM436 265h1v1h-1zM439 265h1v1h-1zM440 265h1v1h-1zM434 266h1v1h-1zM435 266h1v1h-1zM438 266h1v1h-1zM439 266h1v1h-1zM478 266h1v1h-1zM434 267h1v1h-1zM435 267h1v1h-1zM436 267h1v1h-1zM437 267h1v1h-1zM436 268h1v1h-1zM437 268h1v1h-1zM434 269h1v1h-1zM435 269h1v1h-1zM436 269h1v1h-1zM471 269h1v1h-1zM477 269h1v1h-1zM434 270h1v1h-1zM435 270h1v1h-1zM436 270h1v1h-1zM436 271h1v1h-1zM472 271h1v1h-1zM476 271h1v1h-1zM473 273h1v1h-1zM474 273h1v1h-1zM475 273h1v1h-1zM443 302h1v1h-1zM446 302h1v1h-1zM439 303h1v1h-1zM440 303h1v1h-1zM441 303h1v1h-1zM442 303h1v1h-1zM443 303h1v1h-1zM445 303h1v1h-1zM446 303h1v1h-1zM437 304h1v1h-1zM438 304h1v1h-1zM439 304h1v1h-1zM446 304h1v1h-1zM436 305h1v1h-1zM437 305h1v1h-1zM438 305h1v1h-1zM446 305h1v1h-1zM428 306h1v1h-1zM429 306h1v1h-1zM434 306h1v1h-1zM435 306h1v1h-1zM436 306h1v1h-1zM437 306h1v1h-1zM427 307h1v1h-1zM428 307h1v1h-1zM429 307h1v1h-1zM430 307h1v1h-1zM431 307h1v1h-1zM433 307h1v1h-1zM434 307h1v1h-1zM435 307h1v1h-1zM446 307h1v1h-1zM426 308h1v1h-1zM434 308h1v1h-1zM446 308h1v1h-1zM426 309h1v1h-1zM429 309h1v1h-1zM430 309h1v1h-1zM433 309h1v1h-1zM434 309h1v1h-1zM446 309h1v1h-1zM447 309h1v1h-1zM426 310h1v1h-1zM427 310h1v1h-1zM430 310h1v1h-1zM432 310h1v1h-1zM426 311h1v1h-1zM427 311h1v1h-1zM428 311h1v1h-1zM430 311h1v1h-1zM446 311h1v1h-1zM447 311h1v1h-1zM426 312h1v1h-1zM428 312h1v1h-1zM429 312h1v1h-1zM430 312h1v1h-1zM431 312h1v1h-1zM432 312h1v1h-1zM446 312h1v1h-1zM447 312h1v1h-1zM470 312h1v1h-1zM471 312h1v1h-1zM472 312h1v1h-1zM427 313h1v1h-1zM428 313h1v1h-1zM429 313h1v1h-1zM447 313h1v1h-1zM470 313h1v1h-1zM471 313h1v1h-1zM472 313h1v1h-1zM427 314h1v1h-1zM428 314h1v1h-1zM469 314h1v1h-1zM470 314h1v1h-1zM471 314h1v1h-1zM473 314h1v1h-1zM428 315h1v1h-1zM448 315h1v1h-1zM470 315h1v1h-1zM472 315h1v1h-1zM473 315h1v1h-1zM474 315h1v1h-1zM428 316h1v1h-1zM448 316h1v1h-1zM449 316h1v1h-1zM471 316h1v1h-1zM473 316h1v1h-1zM474 316h1v1h-1zM429 317h1v1h-1zM448 317h1v1h-1zM449 317h1v1h-1zM471 317h1v1h-1zM472 317h1v1h-1zM473 317h1v1h-1zM471 318h1v1h-1zM472 318h1v1h-1zM473 318h1v1h-1zM474 318h1v1h-1zM429 319h1v1h-1zM472 319h1v1h-1zM473 319h1v1h-1zM474 319h1v1h-1zM430 320h1v1h-1zM448 320h1v1h-1zM470 320h1v1h-1zM471 320h1v1h-1zM474 320h1v1h-1zM448 321h1v1h-1zM468 321h1v1h-1zM469 321h1v1h-1zM472 321h1v1h-1zM474 321h1v1h-1zM449 322h1v1h-1zM468 322h1v1h-1zM473 322h1v1h-1zM431 323h1v1h-1zM448 323h1v1h-1zM449 323h1v1h-1zM467 323h1v1h-1zM448 324h1v1h-1zM449 324h1v1h-1zM468 324h1v1h-1zM472 324h1v1h-1zM473 324h1v1h-1zM430 325h1v1h-1zM431 325h1v1h-1zM446 325h1v1h-1zM448 325h1v1h-1zM449 325h1v1h-1zM469 325h1v1h-1zM470 325h1v1h-1zM473 325h1v1h-1zM430 326h1v1h-1zM431 326h1v1h-1zM446 326h1v1h-1zM447 326h1v1h-1zM430 327h1v1h-1zM444 327h1v1h-1zM445 327h1v1h-1zM430 328h1v1h-1zM431 328h1v1h-1zM432 328h1v1h-1zM432 329h1v1h-1zM433 329h1v1h-1zM445 329h1v1h-1zM434 330h1v1h-1zM435 330h1v1h-1zM436 330h1v1h-1zM444 330h1v1h-1zM435 331h1v1h-1zM436 331h1v1h-1zM438 331h1v1h-1zM444 331h1v1h-1zM445 331h1v1h-1zM436 332h1v1h-1zM437 332h1v1h-1zM440 332h1v1h-1zM441 332h1v1h-1zM442 332h1v1h-1zM443 332h1v1h-1zM444 332h1v1h-1zM445 332h1v1h-1zM442 333h1v1h-1zM443 333h1v1h-1z"/>
<path fill="#274bef" d="M474 253h1v1h-1zM476 254h1v1h-1zM472 256h1v1h-1zM478 257h1v1h-1zM471 258h1v1h-1zM478 258h1v1h-1zM471 259h1v1h-1zM478 259h1v1h-1zM471 260h1v1h-1zM471 261h1v1h-1zM471 262h1v1h-1zM478 262h1v1h-1zM478 263h1v1h-1zM478 264h1v1h-1zM471 265h1v1h-1zM471 266h1v1h-1zM472 270h1v1h-1zM476 270h1v1h-1zM473 271h1v1h-1zM474 271h1v1h-1zM475 271h1v1h-1zM474 272h1v1h-1zM444 303h1v1h-1zM442 304h1v1h-1zM443 304h1v1h-1zM444 304h1v1h-1zM445 304h1v1h-1zM439 305h1v1h-1zM441 305h1v1h-1zM444 305h1v1h-1zM445 305h1v1h-1zM438 306h1v1h-1zM439 306h1v1h-1zM440 306h1v1h-1zM441 306h1v1h-1zM442 306h1v1h-1zM443 306h1v1h-1zM444 306h1v1h-1zM437 307h1v1h-1zM438 307h1v1h-1zM439 307h1v1h-1zM441 307h1v1h-1zM443 307h1v1h-1zM444 307h1v1h-1zM445 307h1v1h-1zM427 308h1v1h-1zM428 308h1v1h-1zM429 308h1v1h-1zM436 308h1v1h-1zM438 308h1v1h-1zM444 308h1v1h-1zM445 308h1v1h-1zM428 309h1v1h-1zM444 309h1v1h-1zM445 309h1v1h-1zM428 310h1v1h-1zM434 310h1v1h-1zM444 310h1v1h-1zM433 311h1v1h-1zM434 311h1v1h-1zM433 312h1v1h-1zM445 312h1v1h-1zM432 313h1v1h-1zM445 313h1v1h-1zM430 314h1v1h-1zM431 314h1v1h-1zM432 314h1v1h-1zM429 315h1v1h-1zM430 315h1v1h-1zM446 315h1v1h-1zM430 316h1v1h-1zM447 316h1v1h-1zM447 317h1v1h-1zM430 318h1v1h-1zM430 319h1v1h-1zM447 319h1v1h-1zM431 320h1v1h-1zM447 320h1v1h-1zM431 321h1v1h-1zM447 321h1v1h-1zM471 321h1v1h-1zM446 322h1v1h-1zM447 322h1v1h-1zM469 322h1v1h-1zM470 322h1v1h-1zM471 322h1v1h-1zM472 322h1v1h-1zM445 323h1v1h-1zM446 323h1v1h-1zM447 323h1v1h-1zM468 323h1v1h-1zM469 323h1v1h-1zM471 323h1v1h-1zM472 323h1v1h-1zM432 324h1v1h-1zM433 324h1v1h-1zM445 324h1v1h-1zM446 324h1v1h-1zM447 324h1v1h-1zM469 324h1v1h-1zM470 324h1v1h-1zM471 324h1v1h-1zM432 325h1v1h-1zM433 325h1v1h-1zM444 325h1v1h-1zM432 326h1v1h-1zM433 326h1v1h-1zM443 326h1v1h-1zM444 326h1v1h-1zM432 327h1v1h-1zM433 328h1v1h-1zM434 328h1v1h-1zM435 328h1v1h-1zM437 328h1v1h-1zM443 328h1v1h-1zM436 329h1v1h-1zM438 329h1v1h-1zM443 329h1v1h-1zM437 330h1v1h-1zM439 330h1v1h-1zM442 330h1v1h-1zM443 330h1v1h-1zM439 331h1v1h-1zM440 331h1v1h-1zM441 331h1v1h-1zM442 331h1v1h-1z"/>
<path fill="#245fec" d="M474 254h1v1h-1zM475 254h1v1h-1zM476 255h1v1h-1zM477 256h1v1h-1zM472 257h1v1h-1zM477 266h1v1h-1zM472 267h1v1h-1zM477 267h1v1h-1zM472 268h1v1h-1zM476 268h1v1h-1zM472 269h1v1h-1zM473 270h1v1h-1zM474 270h1v1h-1zM475 270h1v1h-1zM440 308h1v1h-1zM441 308h1v1h-1zM442 308h1v1h-1zM436 309h1v1h-1zM437 309h1v1h-1zM438 309h1v1h-1zM440 309h1v1h-1zM441 309h1v1h-1zM442 309h1v1h-1zM443 309h1v1h-1zM436 310h1v1h-1zM443 310h1v1h-1zM435 311h1v1h-1zM443 311h1v1h-1zM444 311h1v1h-1zM434 312h1v1h-1zM444 313h1v1h-1zM434 314h1v1h-1zM444 314h1v1h-1zM445 314h1v1h-1zM431 315h1v1h-1zM445 315h1v1h-1zM431 316h1v1h-1zM432 316h1v1h-1zM446 316h1v1h-1zM431 317h1v1h-1zM446 317h1v1h-1zM431 318h1v1h-1zM446 318h1v1h-1zM447 318h1v1h-1zM431 319h1v1h-1zM446 319h1v1h-1zM446 320h1v1h-1zM432 321h1v1h-1zM444 321h1v1h-1zM445 321h1v1h-1zM446 321h1v1h-1zM433 322h1v1h-1zM443 322h1v1h-1zM433 323h1v1h-1zM443 323h1v1h-1zM444 323h1v1h-1zM470 323h1v1h-1zM434 324h1v1h-1zM443 324h1v1h-1zM444 324h1v1h-1zM434 325h1v1h-1zM442 325h1v1h-1zM443 325h1v1h-1zM435 326h1v1h-1zM436 326h1v1h-1zM437 326h1v1h-1zM438 326h1v1h-1zM439 326h1v1h-1zM441 326h1v1h-1zM434 327h1v1h-1zM435 327h1v1h-1zM436 327h1v1h-1zM437 327h1v1h-1zM439 327h1v1h-1zM440 327h1v1h-1zM438 328h1v1h-1zM439 328h1v1h-1zM440 328h1v1h-1zM441 328h1v1h-1zM442 328h1v1h-1zM439 329h1v1h-1zM440 329h1v1h-1zM441 329h1v1h-1zM442 329h1v1h-1zM440 330h1v1h-1zM441 330h1v1h-1z"/>
<path fill="#2173e9" d="M474 255h1v1h-1zM475 255h1v1h-1zM473 256h1v1h-1zM477 257h1v1h-1zM472 259h1v1h-1zM472 260h1v1h-1zM472 261h1v1h-1zM477 261h1v1h-1zM472 262h1v1h-1zM477 262h1v1h-1zM472 263h1v1h-1zM472 264h1v1h-1zM477 264h1v1h-1zM472 265h1v1h-1zM477 265h1v1h-1zM472 266h1v1h-1zM476 267h1v1h-1zM473 268h1v1h-1zM473 269h1v1h-1zM474 269h1v1h-1zM475 269h1v1h-1zM437 310h1v1h-1zM438 310h1v1h-1zM439 310h1v1h-1zM440 310h1v1h-1zM441 310h1v1h-1zM442 310h1v1h-1zM437 311h1v1h-1zM438 311h1v1h-1zM439 311h1v1h-1zM442 311h1v1h-1zM435 312h1v1h-1zM436 312h1v1h-1zM437 312h1v1h-1zM443 312h1v1h-1zM435 313h1v1h-1zM436 313h1v1h-1zM437 313h1v1h-1zM438 313h1v1h-1zM443 313h1v1h-1zM436 314h1v1h-1zM437 314h1v1h-1zM438 314h1v1h-1zM442 314h1v1h-1zM443 314h1v1h-1zM435 315h1v1h-1zM436 315h1v1h-1zM437 315h1v1h-1zM438 315h1v1h-1zM442 315h1v1h-1zM443 315h1v1h-1zM433 316h1v1h-1zM434 316h1v1h-1zM443 316h1v1h-1zM444 316h1v1h-1zM445 316h1v1h-1zM432 317h1v1h-1zM433 317h1v1h-1zM445 317h1v1h-1zM432 318h1v1h-1zM432 319h1v1h-1zM444 319h1v1h-1zM445 319h1v1h-1zM443 320h1v1h-1zM444 320h1v1h-1zM445 320h1v1h-1zM433 321h1v1h-1zM442 321h1v1h-1zM443 321h1v1h-1zM434 322h1v1h-1zM441 322h1v1h-1zM434 323h1v1h-1zM435 323h1v1h-1zM441 323h1v1h-1zM442 323h1v1h-1zM435 324h1v1h-1zM436 324h1v1h-1zM440 324h1v1h-1zM441 324h1v1h-1zM442 324h1v1h-1zM436 325h1v1h-1zM437 325h1v1h-1zM438 325h1v1h-1zM440 325h1v1h-1zM441 325h1v1h-1zM440 326h1v1h-1z"/>
<path fill="#1f87e7" d="M476 256h1v1h-1zM473 257h1v1h-1zM477 258h1v1h-1zM477 259h1v1h-1zM477 260h1v1h-1zM476 262h1v1h-1zM476 263h1v1h-1zM473 266h1v1h-1zM476 266h1v1h-1zM473 267h1v1h-1zM474 267h1v1h-1zM475 267h1v1h-1zM474 268h1v1h-1zM475 268h1v1h-1zM440 311h1v1h-1zM441 311h1v1h-1zM439 312h1v1h-1zM440 312h1v1h-1zM441 312h1v1h-1zM442 312h1v1h-1zM439 313h1v1h-1zM440 313h1v1h-1zM441 313h1v1h-1zM442 313h1v1h-1zM439 314h1v1h-1zM440 314h1v1h-1zM439 315h1v1h-1zM440 315h1v1h-1zM441 315h1v1h-1zM437 316h1v1h-1zM438 316h1v1h-1zM440 316h1v1h-1zM441 316h1v1h-1zM442 316h1v1h-1zM434 317h1v1h-1zM435 317h1v1h-1zM436 317h1v1h-1zM437 317h1v1h-1zM438 317h1v1h-1zM439 317h1v1h-1zM440 317h1v1h-1zM442 317h1v1h-1zM443 317h1v1h-1zM444 317h1v1h-1zM433 318h1v1h-1zM434 318h1v1h-1zM435 318h1v1h-1zM442 318h1v1h-1zM443 318h1v1h-1zM444 318h1v1h-1zM433 319h1v1h-1zM434 319h1v1h-1zM442 319h1v1h-1zM443 319h1v1h-1zM434 320h1v1h-1zM435 320h1v1h-1zM440 320h1v1h-1zM441 320h1v1h-1zM442 320h1v1h-1zM434 321h1v1h-1zM435 321h1v1h-1zM436 321h1v1h-1zM437 321h1v1h-1zM438 321h1v1h-1zM439 321h1v1h-1zM441 321h1v1h-1zM435 322h1v1h-1zM437 322h1v1h-1zM438 322h1v1h-1zM439 322h1v1h-1zM440 322h1v1h-1zM436 323h1v1h-1zM437 323h1v1h-1zM438 323h1v1h-1zM439 323h1v1h-1zM440 323h1v1h-1zM437 324h1v1h-1zM438 324h1v1h-1zM439 324h1v1h-1z"/>
<path fill="#209dd0" d="M474 256h1v1h-1zM475 256h1v1h-1zM476 257h1v1h-1zM473 258h1v1h-1zM473 259h1v1h-1zM473 260h1v1h-1zM476 260h1v1h-1zM473 261h1v1h-1zM476 261h1v1h-1zM473 262h1v1h-1zM475 262h1v1h-1zM473 263h1v1h-1zM475 263h1v1h-1zM473 264h1v1h-1zM476 264h1v1h-1zM473 265h1v1h-1zM476 265h1v1h-1zM474 266h1v1h-1zM475 266h1v1h-1zM436 318h1v1h-1zM437 318h1v1h-1zM438 318h1v1h-1zM439 318h1v1h-1zM440 318h1v1h-1zM441 318h1v1h-1zM435 319h1v1h-1zM436 319h1v1h-1zM437 319h1v1h-1zM438 319h1v1h-1zM439 319h1v1h-1zM440 319h1v1h-1zM441 319h1v1h-1zM436 320h1v1h-1zM437 320h1v1h-1zM438 320h1v1h-1zM439 320h1v1h-1z"/>
<path fill="#24b5b2" d="M474 257h1v1h-1zM475 257h1v1h-1zM476 258h1v1h-1zM476 259h1v1h-1zM475 260h1v1h-1zM474 261h1v1h-1zM475 261h1v1h-1zM474 263h1v1h-1zM474 264h1v1h-1zM475 264h1v1h-1zM474 265h1v1h-1zM475 265h1v1h-1z"/>
<path fill="#27cc94" d="M474 258h1v1h-1zM474 259h1v1h-1zM475 259h1v1h-1z"/></g>
<text x="0.40" y="14.20" font-size="17.5" font-weight="bold" fill="#000" text-anchor="start" >A</text>
<path d="M37.50,138.00 C44.08,137.98 69.08,138.02 77.00,137.90 C84.92,137.78 82.50,137.52 85.00,137.30 C87.50,137.08 90.17,136.92 92.00,136.60 C93.83,136.28 94.78,136.13 96.00,135.40 C97.22,134.67 98.22,133.43 99.30,132.20 C100.38,130.97 101.45,129.55 102.50,128.00 C103.55,126.45 104.75,124.82 105.60,122.90 C106.45,120.98 106.98,118.90 107.60,116.50 C108.22,114.10 108.75,112.08 109.30,108.50 C109.85,104.92 110.27,100.52 110.90,95.00 C111.53,89.48 112.45,81.57 113.10,75.40 C113.75,69.23 114.27,63.45 114.80,58.00 C115.33,52.55 115.82,47.87 116.30,42.70 C116.78,37.53 117.33,30.70 117.70,27.00 C118.07,23.30 118.25,22.07 118.50,20.50 C118.75,18.93 118.97,17.60 119.20,17.60 C119.43,17.60 119.63,18.93 119.90,20.50 C120.17,22.07 120.38,23.30 120.80,27.00 C121.22,30.70 121.83,37.53 122.40,42.70 C122.97,47.87 123.58,52.55 124.20,58.00 C124.82,63.45 125.42,69.23 126.10,75.40 C126.78,81.57 127.72,89.48 128.30,95.00 C128.88,100.52 129.12,104.92 129.60,108.50 C130.08,112.08 130.60,114.10 131.20,116.50 C131.80,118.90 132.32,120.98 133.20,122.90 C134.08,124.82 135.30,126.45 136.50,128.00 C137.70,129.55 139.23,131.03 140.40,132.20 C141.57,133.37 142.43,134.27 143.50,135.00 C144.57,135.73 145.65,136.12 146.80,136.60 C147.95,137.08 147.62,137.67 150.40,137.90 C153.18,138.13 161.32,137.98 163.50,138.00" fill="none" stroke="#555" stroke-width="0.9"/>
<rect x="37.50" y="10.50" width="126.00" height="127.50" stroke="#666" stroke-width="1" fill="none"/>
<line x1="37.50" y1="26.20" x2="163.50" y2="26.20" stroke="#444" stroke-width="1.3" />
<line x1="106.50" y1="23.50" x2="106.50" y2="29.00" stroke="#444" stroke-width="0.9" />
<line x1="163.50" y1="23.50" x2="163.50" y2="29.00" stroke="#444" stroke-width="0.9" />
<text x="38.80" y="22.90" font-size="7" font-weight="bold" fill="#111" text-anchor="start" >4.96</text>
<text x="162.00" y="22.90" font-size="7" font-weight="bold" fill="#111" text-anchor="end" >95</text>
<text x="32.20" y="30.85" font-size="8" fill="#555" text-anchor="end" >15K</text>
<line x1="34.00" y1="28.10" x2="37.50" y2="28.10" stroke="#666" stroke-width="0.9" />
<text x="32.20" y="68.15" font-size="8" fill="#555" text-anchor="end" >10K</text>
<line x1="34.00" y1="65.40" x2="37.50" y2="65.40" stroke="#666" stroke-width="0.9" />
<text x="32.20" y="105.25" font-size="8" fill="#555" text-anchor="end" >5000</text>
<line x1="34.00" y1="102.50" x2="37.50" y2="102.50" stroke="#666" stroke-width="0.9" />
<text x="32.20" y="142.15" font-size="8" fill="#555" text-anchor="end" >0</text>
<line x1="34.00" y1="139.40" x2="37.50" y2="139.40" stroke="#666" stroke-width="0.9" />
<line x1="36.00" y1="14.00" x2="37.50" y2="14.00" stroke="#888" stroke-width="0.6" />
<line x1="36.00" y1="21.40" x2="37.50" y2="21.40" stroke="#888" stroke-width="0.6" />
<line x1="36.00" y1="28.80" x2="37.50" y2="28.80" stroke="#888" stroke-width="0.6" />
<line x1="36.00" y1="36.20" x2="37.50" y2="36.20" stroke="#888" stroke-width="0.6" />
<line x1="36.00" y1="43.60" x2="37.50" y2="43.60" stroke="#888" stroke-width="0.6" />
<line x1="36.00" y1="51.00" x2="37.50" y2="51.00" stroke="#888" stroke-width="0.6" />
<line x1="36.00" y1="58.40" x2="37.50" y2="58.40" stroke="#888" stroke-width="0.6" />
<line x1="36.00" y1="65.80" x2="37.50" y2="65.80" stroke="#888" stroke-width="0.6" />
<line x1="36.00" y1="73.20" x2="37.50" y2="73.20" stroke="#888" stroke-width="0.6" />
<line x1="36.00" y1="80.60" x2="37.50" y2="80.60" stroke="#888" stroke-width="0.6" />
<line x1="36.00" y1="88.00" x2="37.50" y2="88.00" stroke="#888" stroke-width="0.6" />
<line x1="36.00" y1="95.40" x2="37.50" y2="95.40" stroke="#888" stroke-width="0.6" />
<line x1="36.00" y1="102.80" x2="37.50" y2="102.80" stroke="#888" stroke-width="0.6" />
<line x1="36.00" y1="110.20" x2="37.50" y2="110.20" stroke="#888" stroke-width="0.6" />
<line x1="36.00" y1="117.60" x2="37.50" y2="117.60" stroke="#888" stroke-width="0.6" />
<line x1="36.00" y1="125.00" x2="37.50" y2="125.00" stroke="#888" stroke-width="0.6" />
<line x1="36.00" y1="132.40" x2="37.50" y2="132.40" stroke="#888" stroke-width="0.6" />
<line x1="37.50" y1="138.00" x2="163.50" y2="138.00" stroke="#444" stroke-width="1.3" />
<text x="50.80" y="150.30" font-size="7.3" fill="#555" text-anchor="middle" >0</text>
<line x1="50.80" y1="138.00" x2="50.80" y2="141.00" stroke="#555" stroke-width="0.9" />
<text x="64.00" y="150.30" font-size="7.3" fill="#555" text-anchor="middle" >100</text>
<line x1="64.00" y1="138.00" x2="64.00" y2="141.00" stroke="#555" stroke-width="0.9" />
<text x="94.30" y="150.30" font-size="7.3" fill="#555" text-anchor="middle" >1000</text>
<line x1="94.30" y1="138.00" x2="94.30" y2="141.00" stroke="#555" stroke-width="0.9" />
<text x="124.80" y="150.30" font-size="7.3" fill="#555" text-anchor="middle" >10000</text>
<line x1="124.80" y1="138.00" x2="124.80" y2="141.00" stroke="#555" stroke-width="0.9" />
<line x1="73.18" y1="138.00" x2="73.18" y2="140.00" stroke="#666" stroke-width="0.7" />
<line x1="78.55" y1="138.00" x2="78.55" y2="140.00" stroke="#666" stroke-width="0.7" />
<line x1="82.36" y1="138.00" x2="82.36" y2="140.00" stroke="#666" stroke-width="0.7" />
<line x1="85.32" y1="138.00" x2="85.32" y2="140.00" stroke="#666" stroke-width="0.7" />
<line x1="87.73" y1="138.00" x2="87.73" y2="140.00" stroke="#666" stroke-width="0.7" />
<line x1="89.78" y1="138.00" x2="89.78" y2="140.00" stroke="#666" stroke-width="0.7" />
<line x1="91.54" y1="138.00" x2="91.54" y2="140.00" stroke="#666" stroke-width="0.7" />
<line x1="93.10" y1="138.00" x2="93.10" y2="140.00" stroke="#666" stroke-width="0.7" />
<line x1="103.68" y1="138.00" x2="103.68" y2="140.00" stroke="#666" stroke-width="0.7" />
<line x1="109.05" y1="138.00" x2="109.05" y2="140.00" stroke="#666" stroke-width="0.7" />
<line x1="112.86" y1="138.00" x2="112.86" y2="140.00" stroke="#666" stroke-width="0.7" />
<line x1="115.82" y1="138.00" x2="115.82" y2="140.00" stroke="#666" stroke-width="0.7" />
<line x1="118.23" y1="138.00" x2="118.23" y2="140.00" stroke="#666" stroke-width="0.7" />
<line x1="120.28" y1="138.00" x2="120.28" y2="140.00" stroke="#666" stroke-width="0.7" />
<line x1="122.04" y1="138.00" x2="122.04" y2="140.00" stroke="#666" stroke-width="0.7" />
<line x1="123.60" y1="138.00" x2="123.60" y2="140.00" stroke="#666" stroke-width="0.7" />
<line x1="134.18" y1="138.00" x2="134.18" y2="140.00" stroke="#666" stroke-width="0.7" />
<line x1="139.55" y1="138.00" x2="139.55" y2="140.00" stroke="#666" stroke-width="0.7" />
<line x1="143.36" y1="138.00" x2="143.36" y2="140.00" stroke="#666" stroke-width="0.7" />
<line x1="146.32" y1="138.00" x2="146.32" y2="140.00" stroke="#666" stroke-width="0.7" />
<line x1="148.73" y1="138.00" x2="148.73" y2="140.00" stroke="#666" stroke-width="0.7" />
<line x1="150.78" y1="138.00" x2="150.78" y2="140.00" stroke="#666" stroke-width="0.7" />
<line x1="152.54" y1="138.00" x2="152.54" y2="140.00" stroke="#666" stroke-width="0.7" />
<line x1="154.10" y1="138.00" x2="154.10" y2="140.00" stroke="#666" stroke-width="0.7" />
<line x1="40.50" y1="138.00" x2="40.50" y2="140.00" stroke="#666" stroke-width="0.7" />
<line x1="43.00" y1="138.00" x2="43.00" y2="140.00" stroke="#666" stroke-width="0.7" />
<line x1="45.50" y1="138.00" x2="45.50" y2="140.00" stroke="#666" stroke-width="0.7" />
<line x1="48.00" y1="138.00" x2="48.00" y2="140.00" stroke="#666" stroke-width="0.7" />
<line x1="53.50" y1="138.00" x2="53.50" y2="140.00" stroke="#666" stroke-width="0.7" />
<line x1="56.00" y1="138.00" x2="56.00" y2="140.00" stroke="#666" stroke-width="0.7" />
<line x1="58.50" y1="138.00" x2="58.50" y2="140.00" stroke="#666" stroke-width="0.7" />
<line x1="61.00" y1="138.00" x2="61.00" y2="140.00" stroke="#666" stroke-width="0.7" />
<text x="142.4" y="150.3" font-size="7.3" fill="#555">1x10<tspan font-size="6" dy="-3.2">5</tspan></text>
<text x="67.70" y="163.80" font-size="10.45" font-weight="bold" fill="#000" text-anchor="start" >Rhodamine</text>
<text transform="translate(8.6,77) rotate(-90)" font-size="10.45" font-weight="bold" text-anchor="middle">Counts</text>
<text x="174.30" y="13.60" font-size="17.5" font-weight="bold" fill="#000" text-anchor="start" >B</text>
<rect x="218.00" y="9.30" width="125.50" height="128.20" stroke="#555" stroke-width="1" fill="none"/>
<text x="212.30" y="53.00" font-size="7.6" font-weight="bold" fill="#1a1a1a" text-anchor="end" >10000</text>
<line x1="214.00" y1="50.30" x2="218.00" y2="50.30" stroke="#555" stroke-width="0.9" />
<text x="212.30" y="81.70" font-size="7.6" font-weight="bold" fill="#1a1a1a" text-anchor="end" >1000</text>
<line x1="214.00" y1="79.00" x2="218.00" y2="79.00" stroke="#555" stroke-width="0.9" />
<text x="212.30" y="113.20" font-size="7.6" font-weight="bold" fill="#1a1a1a" text-anchor="end" >100</text>
<line x1="214.00" y1="110.50" x2="218.00" y2="110.50" stroke="#555" stroke-width="0.9" />
<text x="212.30" y="126.30" font-size="7.6" font-weight="bold" fill="#1a1a1a" text-anchor="end" >0</text>
<line x1="214.00" y1="123.60" x2="218.00" y2="123.60" stroke="#555" stroke-width="0.9" />
<text x="212.3" y="24.6" font-size="7.6" font-weight="bold" fill="#1a1a1a" text-anchor="end">1x10<tspan font-size="6" dy="-3.4">5</tspan></text>
<line x1="214.00" y1="22.00" x2="218.00" y2="22.00" stroke="#555" stroke-width="0.9" />
<line x1="216.00" y1="15.00" x2="218.00" y2="15.00" stroke="#777" stroke-width="0.6" />
<line x1="216.00" y1="18.50" x2="218.00" y2="18.50" stroke="#777" stroke-width="0.6" />
<line x1="216.00" y1="30.70" x2="218.00" y2="30.70" stroke="#777" stroke-width="0.6" />
<line x1="216.00" y1="35.80" x2="218.00" y2="35.80" stroke="#777" stroke-width="0.6" />
<line x1="216.00" y1="39.40" x2="218.00" y2="39.40" stroke="#777" stroke-width="0.6" />
<line x1="216.00" y1="42.20" x2="218.00" y2="42.20" stroke="#777" stroke-width="0.6" />
<line x1="216.00" y1="44.50" x2="218.00" y2="44.50" stroke="#777" stroke-width="0.6" />
<line x1="216.00" y1="46.40" x2="218.00" y2="46.40" stroke="#777" stroke-width="0.6" />
<line x1="216.00" y1="48.00" x2="218.00" y2="48.00" stroke="#777" stroke-width="0.6" />
<line x1="216.00" y1="59.00" x2="218.00" y2="59.00" stroke="#777" stroke-width="0.6" />
<line x1="216.00" y1="64.00" x2="218.00" y2="64.00" stroke="#777" stroke-width="0.6" />
<line x1="216.00" y1="67.60" x2="218.00" y2="67.60" stroke="#777" stroke-width="0.6" />
<line x1="216.00" y1="70.50" x2="218.00" y2="70.50" stroke="#777" stroke-width="0.6" />
<line x1="216.00" y1="72.80" x2="218.00" y2="72.80" stroke="#777" stroke-width="0.6" />
<line x1="216.00" y1="74.70" x2="218.00" y2="74.70" stroke="#777" stroke-width="0.6" />
<line x1="216.00" y1="76.30" x2="218.00" y2="76.30" stroke="#777" stroke-width="0.6" />
<line x1="216.00" y1="77.70" x2="218.00" y2="77.70" stroke="#777" stroke-width="0.6" />
<line x1="216.00" y1="88.30" x2="218.00" y2="88.30" stroke="#777" stroke-width="0.6" />
<line x1="216.00" y1="94.00" x2="218.00" y2="94.00" stroke="#777" stroke-width="0.6" />
<line x1="216.00" y1="98.00" x2="218.00" y2="98.00" stroke="#777" stroke-width="0.6" />
<line x1="216.00" y1="101.00" x2="218.00" y2="101.00" stroke="#777" stroke-width="0.6" />
<line x1="216.00" y1="103.50" x2="218.00" y2="103.50" stroke="#777" stroke-width="0.6" />
<line x1="216.00" y1="105.50" x2="218.00" y2="105.50" stroke="#777" stroke-width="0.6" />
<line x1="216.00" y1="107.30" x2="218.00" y2="107.30" stroke="#777" stroke-width="0.6" />
<line x1="216.00" y1="108.90" x2="218.00" y2="108.90" stroke="#777" stroke-width="0.6" />
<text x="231.20" y="149.40" font-size="7.6" font-weight="bold" fill="#1a1a1a" text-anchor="middle" >0</text>
<line x1="231.20" y1="137.50" x2="231.20" y2="140.50" stroke="#555" stroke-width="0.9" />
<text x="244.50" y="149.40" font-size="7.6" font-weight="bold" fill="#1a1a1a" text-anchor="middle" >100</text>
<line x1="244.50" y1="137.50" x2="244.50" y2="140.50" stroke="#555" stroke-width="0.9" />
<text x="275.00" y="149.40" font-size="7.6" font-weight="bold" fill="#1a1a1a" text-anchor="middle" >1000</text>
<line x1="275.00" y1="137.50" x2="275.00" y2="140.50" stroke="#555" stroke-width="0.9" />
<text x="303.80" y="149.40" font-size="7.6" font-weight="bold" fill="#1a1a1a" text-anchor="middle" >10000</text>
<line x1="303.80" y1="137.50" x2="303.80" y2="140.50" stroke="#555" stroke-width="0.9" />
<text x="318.8" y="149.4" font-size="7.6" font-weight="bold" fill="#1a1a1a">1x10<tspan font-size="6" dy="-3.4">5</tspan></text>
<line x1="221.00" y1="137.50" x2="221.00" y2="139.50" stroke="#777" stroke-width="0.6" />
<line x1="224.00" y1="137.50" x2="224.00" y2="139.50" stroke="#777" stroke-width="0.6" />
<line x1="227.00" y1="137.50" x2="227.00" y2="139.50" stroke="#777" stroke-width="0.6" />
<line x1="235.00" y1="137.50" x2="235.00" y2="139.50" stroke="#777" stroke-width="0.6" />
<line x1="238.00" y1="137.50" x2="238.00" y2="139.50" stroke="#777" stroke-width="0.6" />
<line x1="241.00" y1="137.50" x2="241.00" y2="139.50" stroke="#777" stroke-width="0.6" />
<line x1="253.50" y1="137.50" x2="253.50" y2="139.50" stroke="#777" stroke-width="0.6" />
<line x1="259.00" y1="137.50" x2="259.00" y2="139.50" stroke="#777" stroke-width="0.6" />
<line x1="262.50" y1="137.50" x2="262.50" y2="139.50" stroke="#777" stroke-width="0.6" />
<line x1="265.30" y1="137.50" x2="265.30" y2="139.50" stroke="#777" stroke-width="0.6" />
<line x1="267.60" y1="137.50" x2="267.60" y2="139.50" stroke="#777" stroke-width="0.6" />
<line x1="269.60" y1="137.50" x2="269.60" y2="139.50" stroke="#777" stroke-width="0.6" />
<line x1="271.30" y1="137.50" x2="271.30" y2="139.50" stroke="#777" stroke-width="0.6" />
<line x1="272.70" y1="137.50" x2="272.70" y2="139.50" stroke="#777" stroke-width="0.6" />
<line x1="283.50" y1="137.50" x2="283.50" y2="139.50" stroke="#777" stroke-width="0.6" />
<line x1="288.50" y1="137.50" x2="288.50" y2="139.50" stroke="#777" stroke-width="0.6" />
<line x1="292.00" y1="137.50" x2="292.00" y2="139.50" stroke="#777" stroke-width="0.6" />
<line x1="294.80" y1="137.50" x2="294.80" y2="139.50" stroke="#777" stroke-width="0.6" />
<line x1="297.00" y1="137.50" x2="297.00" y2="139.50" stroke="#777" stroke-width="0.6" />
<line x1="299.00" y1="137.50" x2="299.00" y2="139.50" stroke="#777" stroke-width="0.6" />
<line x1="300.70" y1="137.50" x2="300.70" y2="139.50" stroke="#777" stroke-width="0.6" />
<line x1="302.20" y1="137.50" x2="302.20" y2="139.50" stroke="#777" stroke-width="0.6" />
<line x1="312.20" y1="137.50" x2="312.20" y2="139.50" stroke="#777" stroke-width="0.6" />
<line x1="317.30" y1="137.50" x2="317.30" y2="139.50" stroke="#777" stroke-width="0.6" />
<line x1="320.80" y1="137.50" x2="320.80" y2="139.50" stroke="#777" stroke-width="0.6" />
<line x1="323.50" y1="137.50" x2="323.50" y2="139.50" stroke="#777" stroke-width="0.6" />
<line x1="325.80" y1="137.50" x2="325.80" y2="139.50" stroke="#777" stroke-width="0.6" />
<line x1="327.70" y1="137.50" x2="327.70" y2="139.50" stroke="#777" stroke-width="0.6" />
<line x1="329.30" y1="137.50" x2="329.30" y2="139.50" stroke="#777" stroke-width="0.6" />
<line x1="330.80" y1="137.50" x2="330.80" y2="139.50" stroke="#777" stroke-width="0.6" />
<text x="257.30" y="163.40" font-size="10.3" font-weight="bold" fill="#000" text-anchor="start" >EPCR-PE</text>
<text transform="translate(184.1,76.9) rotate(-90)" font-size="10.65" font-weight="bold" text-anchor="middle">CD45-APC</text>
<rect x="275.80" y="46.30" width="64.00" height="29.90" stroke="#d890d8" stroke-width="1.1" fill="none"/>
<rect x="290" y="63" width="1" height="1" fill="#c4c4dc"/>
<rect x="295" y="63" width="1" height="1" fill="#c4c4dc"/>
<rect x="305" y="57" width="1" height="1" fill="#c4c4dc"/>
<rect x="282" y="66" width="1" height="1" fill="#c4c4dc"/>
<rect x="291" y="59" width="1" height="1" fill="#c4c4dc"/>
<rect x="320" y="62" width="1" height="1" fill="#c4c4dc"/>
<rect x="314" y="62" width="1" height="1" fill="#c4c4dc"/>
<rect x="306" y="58" width="1" height="1" fill="#c4c4dc"/>
<rect x="306" y="66" width="1" height="1" fill="#c4c4dc"/>
<rect x="301" y="65" width="1" height="1" fill="#c4c4dc"/>
<rect x="307" y="57" width="1" height="1" fill="#c4c4dc"/>
<rect x="311" y="63" width="1" height="1" fill="#c4c4dc"/>
<rect x="293" y="56" width="1" height="1" fill="#c4c4dc"/>
<rect x="315" y="62" width="1" height="1" fill="#c4c4dc"/>
<rect x="309" y="67" width="1" height="1" fill="#c4c4dc"/>
<rect x="309" y="67" width="1" height="1" fill="#c4c4dc"/>
<rect x="296" y="66" width="1" height="1" fill="#c4c4dc"/>
<rect x="298" y="67" width="1" height="1" fill="#c4c4dc"/>
<text x="306.60" y="39.00" font-size="7" font-weight="bold" fill="#111" text-anchor="middle" >0.11</text>
<text x="0.90" y="190.60" font-size="17.5" font-weight="bold" fill="#000" text-anchor="start" >C</text>
<text x="24.50" y="191.00" font-size="10.65" font-weight="bold" fill="#000" text-anchor="start" >Experiment</text>
<text x="121.00" y="191.20" font-size="10.7" font-weight="bold" fill="#000" text-anchor="start" >Frequency of LTRC</text>
<text x="283.20" y="192.30" font-size="14.3" font-weight="bold" fill="#000" text-anchor="start" >Total</text>
<text x="53.00" y="211.60" font-size="10.6" font-weight="bold" fill="#000" text-anchor="middle" >1</text>
<text x="169.70" y="211.60" font-size="10.6" font-weight="bold" fill="#000" text-anchor="middle" >6/9</text>
<text x="53.00" y="231.90" font-size="10.6" font-weight="bold" fill="#000" text-anchor="middle" >2</text>
<text x="169.70" y="231.90" font-size="10.6" font-weight="bold" fill="#000" text-anchor="middle" >3/9</text>
<text x="53.00" y="253.40" font-size="10.6" font-weight="bold" fill="#000" text-anchor="middle" >3</text>
<text x="169.70" y="253.40" font-size="10.6" font-weight="bold" fill="#000" text-anchor="middle" >4/9</text>
<text x="263.00" y="234.40" font-size="13.3" font-weight="bold" fill="#000" text-anchor="start" >13/27 (48%)</text>
<text x="368.90" y="13.60" font-size="17.5" font-weight="bold" fill="#000" text-anchor="start" >D</text>
<rect x="416.00" y="2.60" width="95.30" height="94.60" stroke="#666" stroke-width="0.9" fill="none"/>
<text x="412.20" y="4.70" font-size="6" fill="#666" text-anchor="end" >10000</text>
<line x1="412.80" y1="2.60" x2="416.00" y2="2.60" stroke="#666" stroke-width="0.7" />
<line x1="414.50" y1="19.13" x2="416.00" y2="19.13" stroke="#999" stroke-width="0.5" />
<line x1="414.50" y1="14.97" x2="416.00" y2="14.97" stroke="#999" stroke-width="0.5" />
<line x1="414.50" y1="12.01" x2="416.00" y2="12.01" stroke="#999" stroke-width="0.5" />
<line x1="414.50" y1="9.72" x2="416.00" y2="9.72" stroke="#999" stroke-width="0.5" />
<line x1="414.50" y1="7.85" x2="416.00" y2="7.85" stroke="#999" stroke-width="0.5" />
<line x1="414.50" y1="6.26" x2="416.00" y2="6.26" stroke="#999" stroke-width="0.5" />
<line x1="414.50" y1="4.89" x2="416.00" y2="4.89" stroke="#999" stroke-width="0.5" />
<line x1="414.50" y1="3.68" x2="416.00" y2="3.68" stroke="#999" stroke-width="0.5" />
<text x="412.20" y="28.35" font-size="6" fill="#666" text-anchor="end" >1000</text>
<line x1="412.80" y1="26.25" x2="416.00" y2="26.25" stroke="#666" stroke-width="0.7" />
<line x1="414.50" y1="42.78" x2="416.00" y2="42.78" stroke="#999" stroke-width="0.5" />
<line x1="414.50" y1="38.62" x2="416.00" y2="38.62" stroke="#999" stroke-width="0.5" />
<line x1="414.50" y1="35.66" x2="416.00" y2="35.66" stroke="#999" stroke-width="0.5" />
<line x1="414.50" y1="33.37" x2="416.00" y2="33.37" stroke="#999" stroke-width="0.5" />
<line x1="414.50" y1="31.50" x2="416.00" y2="31.50" stroke="#999" stroke-width="0.5" />
<line x1="414.50" y1="29.91" x2="416.00" y2="29.91" stroke="#999" stroke-width="0.5" />
<line x1="414.50" y1="28.54" x2="416.00" y2="28.54" stroke="#999" stroke-width="0.5" />
<line x1="414.50" y1="27.33" x2="416.00" y2="27.33" stroke="#999" stroke-width="0.5" />
<text x="412.20" y="52.00" font-size="6" fill="#666" text-anchor="end" >100</text>
<line x1="412.80" y1="49.90" x2="416.00" y2="49.90" stroke="#666" stroke-width="0.7" />
<line x1="414.50" y1="66.43" x2="416.00" y2="66.43" stroke="#999" stroke-width="0.5" />
<line x1="414.50" y1="62.27" x2="416.00" y2="62.27" stroke="#999" stroke-width="0.5" />
<line x1="414.50" y1="59.31" x2="416.00" y2="59.31" stroke="#999" stroke-width="0.5" />
<line x1="414.50" y1="57.02" x2="416.00" y2="57.02" stroke="#999" stroke-width="0.5" />
<line x1="414.50" y1="55.15" x2="416.00" y2="55.15" stroke="#999" stroke-width="0.5" />
<line x1="414.50" y1="53.56" x2="416.00" y2="53.56" stroke="#999" stroke-width="0.5" />
<line x1="414.50" y1="52.19" x2="416.00" y2="52.19" stroke="#999" stroke-width="0.5" />
<line x1="414.50" y1="50.98" x2="416.00" y2="50.98" stroke="#999" stroke-width="0.5" />
<text x="412.20" y="75.65" font-size="6" fill="#666" text-anchor="end" >10</text>
<line x1="412.80" y1="73.55" x2="416.00" y2="73.55" stroke="#666" stroke-width="0.7" />
<line x1="414.50" y1="90.08" x2="416.00" y2="90.08" stroke="#999" stroke-width="0.5" />
<line x1="414.50" y1="85.92" x2="416.00" y2="85.92" stroke="#999" stroke-width="0.5" />
<line x1="414.50" y1="82.96" x2="416.00" y2="82.96" stroke="#999" stroke-width="0.5" />
<line x1="414.50" y1="80.67" x2="416.00" y2="80.67" stroke="#999" stroke-width="0.5" />
<line x1="414.50" y1="78.80" x2="416.00" y2="78.80" stroke="#999" stroke-width="0.5" />
<line x1="414.50" y1="77.21" x2="416.00" y2="77.21" stroke="#999" stroke-width="0.5" />
<line x1="414.50" y1="75.84" x2="416.00" y2="75.84" stroke="#999" stroke-width="0.5" />
<line x1="414.50" y1="74.63" x2="416.00" y2="74.63" stroke="#999" stroke-width="0.5" />
<text x="412.20" y="99.30" font-size="6" fill="#666" text-anchor="end" >1</text>
<line x1="412.80" y1="97.20" x2="416.00" y2="97.20" stroke="#666" stroke-width="0.7" />
<text x="416.00" y="106.40" font-size="6" fill="#666" text-anchor="middle" >1</text>
<line x1="416.00" y1="97.20" x2="416.00" y2="99.20" stroke="#666" stroke-width="0.7" />
<line x1="423.17" y1="97.20" x2="423.17" y2="98.50" stroke="#999" stroke-width="0.5" />
<line x1="427.37" y1="97.20" x2="427.37" y2="98.50" stroke="#999" stroke-width="0.5" />
<line x1="430.35" y1="97.20" x2="430.35" y2="98.50" stroke="#999" stroke-width="0.5" />
<line x1="432.66" y1="97.20" x2="432.66" y2="98.50" stroke="#999" stroke-width="0.5" />
<line x1="434.54" y1="97.20" x2="434.54" y2="98.50" stroke="#999" stroke-width="0.5" />
<line x1="436.14" y1="97.20" x2="436.14" y2="98.50" stroke="#999" stroke-width="0.5" />
<line x1="437.52" y1="97.20" x2="437.52" y2="98.50" stroke="#999" stroke-width="0.5" />
<line x1="438.74" y1="97.20" x2="438.74" y2="98.50" stroke="#999" stroke-width="0.5" />
<text x="439.83" y="106.40" font-size="6" fill="#666" text-anchor="middle" >10</text>
<line x1="439.83" y1="97.20" x2="439.83" y2="99.20" stroke="#666" stroke-width="0.7" />
<line x1="447.00" y1="97.20" x2="447.00" y2="98.50" stroke="#999" stroke-width="0.5" />
<line x1="451.20" y1="97.20" x2="451.20" y2="98.50" stroke="#999" stroke-width="0.5" />
<line x1="454.18" y1="97.20" x2="454.18" y2="98.50" stroke="#999" stroke-width="0.5" />
<line x1="456.49" y1="97.20" x2="456.49" y2="98.50" stroke="#999" stroke-width="0.5" />
<line x1="458.37" y1="97.20" x2="458.37" y2="98.50" stroke="#999" stroke-width="0.5" />
<line x1="459.97" y1="97.20" x2="459.97" y2="98.50" stroke="#999" stroke-width="0.5" />
<line x1="461.35" y1="97.20" x2="461.35" y2="98.50" stroke="#999" stroke-width="0.5" />
<line x1="462.57" y1="97.20" x2="462.57" y2="98.50" stroke="#999" stroke-width="0.5" />
<text x="463.66" y="106.40" font-size="6" fill="#666" text-anchor="middle" >100</text>
<line x1="463.66" y1="97.20" x2="463.66" y2="99.20" stroke="#666" stroke-width="0.7" />
<line x1="470.83" y1="97.20" x2="470.83" y2="98.50" stroke="#999" stroke-width="0.5" />
<line x1="475.03" y1="97.20" x2="475.03" y2="98.50" stroke="#999" stroke-width="0.5" />
<line x1="478.01" y1="97.20" x2="478.01" y2="98.50" stroke="#999" stroke-width="0.5" />
<line x1="480.32" y1="97.20" x2="480.32" y2="98.50" stroke="#999" stroke-width="0.5" />
<line x1="482.20" y1="97.20" x2="482.20" y2="98.50" stroke="#999" stroke-width="0.5" />
<line x1="483.80" y1="97.20" x2="483.80" y2="98.50" stroke="#999" stroke-width="0.5" />
<line x1="485.18" y1="97.20" x2="485.18" y2="98.50" stroke="#999" stroke-width="0.5" />
<line x1="486.40" y1="97.20" x2="486.40" y2="98.50" stroke="#999" stroke-width="0.5" />
<text x="487.49" y="106.40" font-size="6" fill="#666" text-anchor="middle" >1000</text>
<line x1="487.49" y1="97.20" x2="487.49" y2="99.20" stroke="#666" stroke-width="0.7" />
<line x1="494.66" y1="97.20" x2="494.66" y2="98.50" stroke="#999" stroke-width="0.5" />
<line x1="498.86" y1="97.20" x2="498.86" y2="98.50" stroke="#999" stroke-width="0.5" />
<line x1="501.84" y1="97.20" x2="501.84" y2="98.50" stroke="#999" stroke-width="0.5" />
<line x1="504.15" y1="97.20" x2="504.15" y2="98.50" stroke="#999" stroke-width="0.5" />
<line x1="506.03" y1="97.20" x2="506.03" y2="98.50" stroke="#999" stroke-width="0.5" />
<line x1="507.63" y1="97.20" x2="507.63" y2="98.50" stroke="#999" stroke-width="0.5" />
<line x1="509.01" y1="97.20" x2="509.01" y2="98.50" stroke="#999" stroke-width="0.5" />
<line x1="510.23" y1="97.20" x2="510.23" y2="98.50" stroke="#999" stroke-width="0.5" />
<text x="511.32" y="106.40" font-size="6" fill="#666" text-anchor="middle" >10000</text>
<line x1="511.32" y1="97.20" x2="511.32" y2="99.20" stroke="#666" stroke-width="0.7" />
<text x="463.50" y="112.90" font-size="6" font-weight="bold" fill="#222" text-anchor="middle" >DONOR (CD45.1-APC)</text>
<text transform="translate(393.6,49.90) rotate(-90)" font-size="6" font-weight="bold" fill="#222" text-anchor="middle">Ly6g/Mac1-PE</text>
<line x1="416.00" y1="53.70" x2="511.30" y2="53.70" stroke="#dc98dc" stroke-width="1.1" />
<line x1="454.20" y1="2.60" x2="454.20" y2="97.20" stroke="#dc98dc" stroke-width="1.1" />
<text x="416.90" y="9.00" font-size="6" font-weight="bold" fill="#111" text-anchor="start" stroke="#fff" stroke-width="1.6" paint-order="stroke">2.69</text>
<text x="510.00" y="9.00" font-size="6" font-weight="bold" fill="#111" text-anchor="end" stroke="#fff" stroke-width="1.6" paint-order="stroke">4.7</text>
<text x="417.70" y="95.60" font-size="6" font-weight="bold" fill="#111" text-anchor="start" stroke="#fff" stroke-width="1.6" paint-order="stroke">70.8</text>
<text x="510.20" y="95.60" font-size="6" font-weight="bold" fill="#111" text-anchor="end" stroke="#fff" stroke-width="1.6" paint-order="stroke">21.8</text>
<rect x="416.00" y="122.70" width="95.30" height="94.60" stroke="#666" stroke-width="0.9" fill="none"/>
<text x="412.20" y="124.80" font-size="6" fill="#666" text-anchor="end" >10000</text>
<line x1="412.80" y1="122.70" x2="416.00" y2="122.70" stroke="#666" stroke-width="0.7" />
<line x1="414.50" y1="139.23" x2="416.00" y2="139.23" stroke="#999" stroke-width="0.5" />
<line x1="414.50" y1="135.07" x2="416.00" y2="135.07" stroke="#999" stroke-width="0.5" />
<line x1="414.50" y1="132.11" x2="416.00" y2="132.11" stroke="#999" stroke-width="0.5" />
<line x1="414.50" y1="129.82" x2="416.00" y2="129.82" stroke="#999" stroke-width="0.5" />
<line x1="414.50" y1="127.95" x2="416.00" y2="127.95" stroke="#999" stroke-width="0.5" />
<line x1="414.50" y1="126.36" x2="416.00" y2="126.36" stroke="#999" stroke-width="0.5" />
<line x1="414.50" y1="124.99" x2="416.00" y2="124.99" stroke="#999" stroke-width="0.5" />
<line x1="414.50" y1="123.78" x2="416.00" y2="123.78" stroke="#999" stroke-width="0.5" />
<text x="412.20" y="148.45" font-size="6" fill="#666" text-anchor="end" >1000</text>
<line x1="412.80" y1="146.35" x2="416.00" y2="146.35" stroke="#666" stroke-width="0.7" />
<line x1="414.50" y1="162.88" x2="416.00" y2="162.88" stroke="#999" stroke-width="0.5" />
<line x1="414.50" y1="158.72" x2="416.00" y2="158.72" stroke="#999" stroke-width="0.5" />
<line x1="414.50" y1="155.76" x2="416.00" y2="155.76" stroke="#999" stroke-width="0.5" />
<line x1="414.50" y1="153.47" x2="416.00" y2="153.47" stroke="#999" stroke-width="0.5" />
<line x1="414.50" y1="151.60" x2="416.00" y2="151.60" stroke="#999" stroke-width="0.5" />
<line x1="414.50" y1="150.01" x2="416.00" y2="150.01" stroke="#999" stroke-width="0.5" />
<line x1="414.50" y1="148.64" x2="416.00" y2="148.64" stroke="#999" stroke-width="0.5" />
<line x1="414.50" y1="147.43" x2="416.00" y2="147.43" stroke="#999" stroke-width="0.5" />
<text x="412.20" y="172.10" font-size="6" fill="#666" text-anchor="end" >100</text>
<line x1="412.80" y1="170.00" x2="416.00" y2="170.00" stroke="#666" stroke-width="0.7" />
<line x1="414.50" y1="186.53" x2="416.00" y2="186.53" stroke="#999" stroke-width="0.5" />
<line x1="414.50" y1="182.37" x2="416.00" y2="182.37" stroke="#999" stroke-width="0.5" />
<line x1="414.50" y1="179.41" x2="416.00" y2="179.41" stroke="#999" stroke-width="0.5" />
<line x1="414.50" y1="177.12" x2="416.00" y2="177.12" stroke="#999" stroke-width="0.5" />
<line x1="414.50" y1="175.25" x2="416.00" y2="175.25" stroke="#999" stroke-width="0.5" />
<line x1="414.50" y1="173.66" x2="416.00" y2="173.66" stroke="#999" stroke-width="0.5" />
<line x1="414.50" y1="172.29" x2="416.00" y2="172.29" stroke="#999" stroke-width="0.5" />
<line x1="414.50" y1="171.08" x2="416.00" y2="171.08" stroke="#999" stroke-width="0.5" />
<text x="412.20" y="195.75" font-size="6" fill="#666" text-anchor="end" >10</text>
<line x1="412.80" y1="193.65" x2="416.00" y2="193.65" stroke="#666" stroke-width="0.7" />
<line x1="414.50" y1="210.18" x2="416.00" y2="210.18" stroke="#999" stroke-width="0.5" />
<line x1="414.50" y1="206.02" x2="416.00" y2="206.02" stroke="#999" stroke-width="0.5" />
<line x1="414.50" y1="203.06" x2="416.00" y2="203.06" stroke="#999" stroke-width="0.5" />
<line x1="414.50" y1="200.77" x2="416.00" y2="200.77" stroke="#999" stroke-width="0.5" />
<line x1="414.50" y1="198.90" x2="416.00" y2="198.90" stroke="#999" stroke-width="0.5" />
<line x1="414.50" y1="197.31" x2="416.00" y2="197.31" stroke="#999" stroke-width="0.5" />
<line x1="414.50" y1="195.94" x2="416.00" y2="195.94" stroke="#999" stroke-width="0.5" />
<line x1="414.50" y1="194.73" x2="416.00" y2="194.73" stroke="#999" stroke-width="0.5" />
<text x="412.20" y="219.40" font-size="6" fill="#666" text-anchor="end" >1</text>
<line x1="412.80" y1="217.30" x2="416.00" y2="217.30" stroke="#666" stroke-width="0.7" />
<text x="416.00" y="226.50" font-size="6" fill="#666" text-anchor="middle" >1</text>
<line x1="416.00" y1="217.30" x2="416.00" y2="219.30" stroke="#666" stroke-width="0.7" />
<line x1="423.17" y1="217.30" x2="423.17" y2="218.60" stroke="#999" stroke-width="0.5" />
<line x1="427.37" y1="217.30" x2="427.37" y2="218.60" stroke="#999" stroke-width="0.5" />
<line x1="430.35" y1="217.30" x2="430.35" y2="218.60" stroke="#999" stroke-width="0.5" />
<line x1="432.66" y1="217.30" x2="432.66" y2="218.60" stroke="#999" stroke-width="0.5" />
<line x1="434.54" y1="217.30" x2="434.54" y2="218.60" stroke="#999" stroke-width="0.5" />
<line x1="436.14" y1="217.30" x2="436.14" y2="218.60" stroke="#999" stroke-width="0.5" />
<line x1="437.52" y1="217.30" x2="437.52" y2="218.60" stroke="#999" stroke-width="0.5" />
<line x1="438.74" y1="217.30" x2="438.74" y2="218.60" stroke="#999" stroke-width="0.5" />
<text x="439.83" y="226.50" font-size="6" fill="#666" text-anchor="middle" >10</text>
<line x1="439.83" y1="217.30" x2="439.83" y2="219.30" stroke="#666" stroke-width="0.7" />
<line x1="447.00" y1="217.30" x2="447.00" y2="218.60" stroke="#999" stroke-width="0.5" />
<line x1="451.20" y1="217.30" x2="451.20" y2="218.60" stroke="#999" stroke-width="0.5" />
<line x1="454.18" y1="217.30" x2="454.18" y2="218.60" stroke="#999" stroke-width="0.5" />
<line x1="456.49" y1="217.30" x2="456.49" y2="218.60" stroke="#999" stroke-width="0.5" />
<line x1="458.37" y1="217.30" x2="458.37" y2="218.60" stroke="#999" stroke-width="0.5" />
<line x1="459.97" y1="217.30" x2="459.97" y2="218.60" stroke="#999" stroke-width="0.5" />
<line x1="461.35" y1="217.30" x2="461.35" y2="218.60" stroke="#999" stroke-width="0.5" />
<line x1="462.57" y1="217.30" x2="462.57" y2="218.60" stroke="#999" stroke-width="0.5" />
<text x="463.66" y="226.50" font-size="6" fill="#666" text-anchor="middle" >100</text>
<line x1="463.66" y1="217.30" x2="463.66" y2="219.30" stroke="#666" stroke-width="0.7" />
<line x1="470.83" y1="217.30" x2="470.83" y2="218.60" stroke="#999" stroke-width="0.5" />
<line x1="475.03" y1="217.30" x2="475.03" y2="218.60" stroke="#999" stroke-width="0.5" />
<line x1="478.01" y1="217.30" x2="478.01" y2="218.60" stroke="#999" stroke-width="0.5" />
<line x1="480.32" y1="217.30" x2="480.32" y2="218.60" stroke="#999" stroke-width="0.5" />
<line x1="482.20" y1="217.30" x2="482.20" y2="218.60" stroke="#999" stroke-width="0.5" />
<line x1="483.80" y1="217.30" x2="483.80" y2="218.60" stroke="#999" stroke-width="0.5" />
<line x1="485.18" y1="217.30" x2="485.18" y2="218.60" stroke="#999" stroke-width="0.5" />
<line x1="486.40" y1="217.30" x2="486.40" y2="218.60" stroke="#999" stroke-width="0.5" />
<text x="487.49" y="226.50" font-size="6" fill="#666" text-anchor="middle" >1000</text>
<line x1="487.49" y1="217.30" x2="487.49" y2="219.30" stroke="#666" stroke-width="0.7" />
<line x1="494.66" y1="217.30" x2="494.66" y2="218.60" stroke="#999" stroke-width="0.5" />
<line x1="498.86" y1="217.30" x2="498.86" y2="218.60" stroke="#999" stroke-width="0.5" />
<line x1="501.84" y1="217.30" x2="501.84" y2="218.60" stroke="#999" stroke-width="0.5" />
<line x1="504.15" y1="217.30" x2="504.15" y2="218.60" stroke="#999" stroke-width="0.5" />
<line x1="506.03" y1="217.30" x2="506.03" y2="218.60" stroke="#999" stroke-width="0.5" />
<line x1="507.63" y1="217.30" x2="507.63" y2="218.60" stroke="#999" stroke-width="0.5" />
<line x1="509.01" y1="217.30" x2="509.01" y2="218.60" stroke="#999" stroke-width="0.5" />
<line x1="510.23" y1="217.30" x2="510.23" y2="218.60" stroke="#999" stroke-width="0.5" />
<text x="511.32" y="226.50" font-size="6" fill="#666" text-anchor="middle" >10000</text>
<line x1="511.32" y1="217.30" x2="511.32" y2="219.30" stroke="#666" stroke-width="0.7" />
<text x="463.50" y="233.00" font-size="6" font-weight="bold" fill="#222" text-anchor="middle" >DONOR (CD45.1-APC)</text>
<text transform="translate(393.6,170.00) rotate(-90)" font-size="6" font-weight="bold" fill="#222" text-anchor="middle">B220-PE</text>
<line x1="416.00" y1="173.80" x2="511.30" y2="173.80" stroke="#dc98dc" stroke-width="1.1" />
<line x1="454.20" y1="122.70" x2="454.20" y2="217.30" stroke="#dc98dc" stroke-width="1.1" />
<text x="416.90" y="129.10" font-size="6" font-weight="bold" fill="#111" text-anchor="start" stroke="#fff" stroke-width="1.6" paint-order="stroke">54.5</text>
<text x="510.00" y="129.10" font-size="6" font-weight="bold" fill="#111" text-anchor="end" stroke="#fff" stroke-width="1.6" paint-order="stroke">9.39</text>
<text x="417.70" y="215.70" font-size="6" font-weight="bold" fill="#111" text-anchor="start" stroke="#fff" stroke-width="1.6" paint-order="stroke">18.7</text>
<text x="510.20" y="215.70" font-size="6" font-weight="bold" fill="#111" text-anchor="end" stroke="#fff" stroke-width="1.6" paint-order="stroke">17.4</text>
<rect x="416.00" y="242.70" width="95.30" height="94.60" stroke="#666" stroke-width="0.9" fill="none"/>
<text x="412.20" y="244.80" font-size="6" fill="#666" text-anchor="end" >10000</text>
<line x1="412.80" y1="242.70" x2="416.00" y2="242.70" stroke="#666" stroke-width="0.7" />
<line x1="414.50" y1="259.23" x2="416.00" y2="259.23" stroke="#999" stroke-width="0.5" />
<line x1="414.50" y1="255.07" x2="416.00" y2="255.07" stroke="#999" stroke-width="0.5" />
<line x1="414.50" y1="252.11" x2="416.00" y2="252.11" stroke="#999" stroke-width="0.5" />
<line x1="414.50" y1="249.82" x2="416.00" y2="249.82" stroke="#999" stroke-width="0.5" />
<line x1="414.50" y1="247.95" x2="416.00" y2="247.95" stroke="#999" stroke-width="0.5" />
<line x1="414.50" y1="246.36" x2="416.00" y2="246.36" stroke="#999" stroke-width="0.5" />
<line x1="414.50" y1="244.99" x2="416.00" y2="244.99" stroke="#999" stroke-width="0.5" />
<line x1="414.50" y1="243.78" x2="416.00" y2="243.78" stroke="#999" stroke-width="0.5" />
<text x="412.20" y="268.45" font-size="6" fill="#666" text-anchor="end" >1000</text>
<line x1="412.80" y1="266.35" x2="416.00" y2="266.35" stroke="#666" stroke-width="0.7" />
<line x1="414.50" y1="282.88" x2="416.00" y2="282.88" stroke="#999" stroke-width="0.5" />
<line x1="414.50" y1="278.72" x2="416.00" y2="278.72" stroke="#999" stroke-width="0.5" />
<line x1="414.50" y1="275.76" x2="416.00" y2="275.76" stroke="#999" stroke-width="0.5" />
<line x1="414.50" y1="273.47" x2="416.00" y2="273.47" stroke="#999" stroke-width="0.5" />
<line x1="414.50" y1="271.60" x2="416.00" y2="271.60" stroke="#999" stroke-width="0.5" />
<line x1="414.50" y1="270.01" x2="416.00" y2="270.01" stroke="#999" stroke-width="0.5" />
<line x1="414.50" y1="268.64" x2="416.00" y2="268.64" stroke="#999" stroke-width="0.5" />
<line x1="414.50" y1="267.43" x2="416.00" y2="267.43" stroke="#999" stroke-width="0.5" />
<text x="412.20" y="292.10" font-size="6" fill="#666" text-anchor="end" >100</text>
<line x1="412.80" y1="290.00" x2="416.00" y2="290.00" stroke="#666" stroke-width="0.7" />
<line x1="414.50" y1="306.53" x2="416.00" y2="306.53" stroke="#999" stroke-width="0.5" />
<line x1="414.50" y1="302.37" x2="416.00" y2="302.37" stroke="#999" stroke-width="0.5" />
<line x1="414.50" y1="299.41" x2="416.00" y2="299.41" stroke="#999" stroke-width="0.5" />
<line x1="414.50" y1="297.12" x2="416.00" y2="297.12" stroke="#999" stroke-width="0.5" />
<line x1="414.50" y1="295.25" x2="416.00" y2="295.25" stroke="#999" stroke-width="0.5" />
<line x1="414.50" y1="293.66" x2="416.00" y2="293.66" stroke="#999" stroke-width="0.5" />
<line x1="414.50" y1="292.29" x2="416.00" y2="292.29" stroke="#999" stroke-width="0.5" />
<line x1="414.50" y1="291.08" x2="416.00" y2="291.08" stroke="#999" stroke-width="0.5" />
<text x="412.20" y="315.75" font-size="6" fill="#666" text-anchor="end" >10</text>
<line x1="412.80" y1="313.65" x2="416.00" y2="313.65" stroke="#666" stroke-width="0.7" />
<line x1="414.50" y1="330.18" x2="416.00" y2="330.18" stroke="#999" stroke-width="0.5" />
<line x1="414.50" y1="326.02" x2="416.00" y2="326.02" stroke="#999" stroke-width="0.5" />
<line x1="414.50" y1="323.06" x2="416.00" y2="323.06" stroke="#999" stroke-width="0.5" />
<line x1="414.50" y1="320.77" x2="416.00" y2="320.77" stroke="#999" stroke-width="0.5" />
<line x1="414.50" y1="318.90" x2="416.00" y2="318.90" stroke="#999" stroke-width="0.5" />
<line x1="414.50" y1="317.31" x2="416.00" y2="317.31" stroke="#999" stroke-width="0.5" />
<line x1="414.50" y1="315.94" x2="416.00" y2="315.94" stroke="#999" stroke-width="0.5" />
<line x1="414.50" y1="314.73" x2="416.00" y2="314.73" stroke="#999" stroke-width="0.5" />
<text x="412.20" y="339.40" font-size="6" fill="#666" text-anchor="end" >1</text>
<line x1="412.80" y1="337.30" x2="416.00" y2="337.30" stroke="#666" stroke-width="0.7" />
<text x="416.00" y="346.50" font-size="6" fill="#666" text-anchor="middle" >1</text>
<line x1="416.00" y1="337.30" x2="416.00" y2="339.30" stroke="#666" stroke-width="0.7" />
<line x1="423.17" y1="337.30" x2="423.17" y2="338.60" stroke="#999" stroke-width="0.5" />
<line x1="427.37" y1="337.30" x2="427.37" y2="338.60" stroke="#999" stroke-width="0.5" />
<line x1="430.35" y1="337.30" x2="430.35" y2="338.60" stroke="#999" stroke-width="0.5" />
<line x1="432.66" y1="337.30" x2="432.66" y2="338.60" stroke="#999" stroke-width="0.5" />
<line x1="434.54" y1="337.30" x2="434.54" y2="338.60" stroke="#999" stroke-width="0.5" />
<line x1="436.14" y1="337.30" x2="436.14" y2="338.60" stroke="#999" stroke-width="0.5" />
<line x1="437.52" y1="337.30" x2="437.52" y2="338.60" stroke="#999" stroke-width="0.5" />
<line x1="438.74" y1="337.30" x2="438.74" y2="338.60" stroke="#999" stroke-width="0.5" />
<text x="439.83" y="346.50" font-size="6" fill="#666" text-anchor="middle" >10</text>
<line x1="439.83" y1="337.30" x2="439.83" y2="339.30" stroke="#666" stroke-width="0.7" />
<line x1="447.00" y1="337.30" x2="447.00" y2="338.60" stroke="#999" stroke-width="0.5" />
<line x1="451.20" y1="337.30" x2="451.20" y2="338.60" stroke="#999" stroke-width="0.5" />
<line x1="454.18" y1="337.30" x2="454.18" y2="338.60" stroke="#999" stroke-width="0.5" />
<line x1="456.49" y1="337.30" x2="456.49" y2="338.60" stroke="#999" stroke-width="0.5" />
<line x1="458.37" y1="337.30" x2="458.37" y2="338.60" stroke="#999" stroke-width="0.5" />
<line x1="459.97" y1="337.30" x2="459.97" y2="338.60" stroke="#999" stroke-width="0.5" />
<line x1="461.35" y1="337.30" x2="461.35" y2="338.60" stroke="#999" stroke-width="0.5" />
<line x1="462.57" y1="337.30" x2="462.57" y2="338.60" stroke="#999" stroke-width="0.5" />
<text x="463.66" y="346.50" font-size="6" fill="#666" text-anchor="middle" >100</text>
<line x1="463.66" y1="337.30" x2="463.66" y2="339.30" stroke="#666" stroke-width="0.7" />
<line x1="470.83" y1="337.30" x2="470.83" y2="338.60" stroke="#999" stroke-width="0.5" />
<line x1="475.03" y1="337.30" x2="475.03" y2="338.60" stroke="#999" stroke-width="0.5" />
<line x1="478.01" y1="337.30" x2="478.01" y2="338.60" stroke="#999" stroke-width="0.5" />
<line x1="480.32" y1="337.30" x2="480.32" y2="338.60" stroke="#999" stroke-width="0.5" />
<line x1="482.20" y1="337.30" x2="482.20" y2="338.60" stroke="#999" stroke-width="0.5" />
<line x1="483.80" y1="337.30" x2="483.80" y2="338.60" stroke="#999" stroke-width="0.5" />
<line x1="485.18" y1="337.30" x2="485.18" y2="338.60" stroke="#999" stroke-width="0.5" />
<line x1="486.40" y1="337.30" x2="486.40" y2="338.60" stroke="#999" stroke-width="0.5" />
<text x="487.49" y="346.50" font-size="6" fill="#666" text-anchor="middle" >1000</text>
<line x1="487.49" y1="337.30" x2="487.49" y2="339.30" stroke="#666" stroke-width="0.7" />
<line x1="494.66" y1="337.30" x2="494.66" y2="338.60" stroke="#999" stroke-width="0.5" />
<line x1="498.86" y1="337.30" x2="498.86" y2="338.60" stroke="#999" stroke-width="0.5" />
<line x1="501.84" y1="337.30" x2="501.84" y2="338.60" stroke="#999" stroke-width="0.5" />
<line x1="504.15" y1="337.30" x2="504.15" y2="338.60" stroke="#999" stroke-width="0.5" />
<line x1="506.03" y1="337.30" x2="506.03" y2="338.60" stroke="#999" stroke-width="0.5" />
<line x1="507.63" y1="337.30" x2="507.63" y2="338.60" stroke="#999" stroke-width="0.5" />
<line x1="509.01" y1="337.30" x2="509.01" y2="338.60" stroke="#999" stroke-width="0.5" />
<line x1="510.23" y1="337.30" x2="510.23" y2="338.60" stroke="#999" stroke-width="0.5" />
<text x="511.32" y="346.50" font-size="6" fill="#666" text-anchor="middle" >10000</text>
<line x1="511.32" y1="337.30" x2="511.32" y2="339.30" stroke="#666" stroke-width="0.7" />
<text x="463.50" y="353.00" font-size="6" font-weight="bold" fill="#222" text-anchor="middle" >DONOR (CD45.1-APC)</text>
<text transform="translate(393.6,290.00) rotate(-90)" font-size="6" font-weight="bold" fill="#222" text-anchor="middle">LY1-PE</text>
<line x1="416.00" y1="293.80" x2="511.30" y2="293.80" stroke="#dc98dc" stroke-width="1.1" />
<line x1="454.20" y1="242.70" x2="454.20" y2="337.30" stroke="#dc98dc" stroke-width="1.1" />
<text x="416.90" y="249.10" font-size="6" font-weight="bold" fill="#111" text-anchor="start" stroke="#fff" stroke-width="1.6" paint-order="stroke">15.2</text>
<text x="510.00" y="249.10" font-size="6" font-weight="bold" fill="#111" text-anchor="end" stroke="#fff" stroke-width="1.6" paint-order="stroke">12.7</text>
<text x="417.70" y="335.70" font-size="6" font-weight="bold" fill="#111" text-anchor="start" stroke="#fff" stroke-width="1.6" paint-order="stroke">58.4</text>
<text x="510.20" y="335.70" font-size="6" font-weight="bold" fill="#111" text-anchor="end" stroke="#fff" stroke-width="1.6" paint-order="stroke">13.6</text>
<path d="M134.50,338.50 L134.50,288.70 A48.4,49.8 0 0 1 182.52,332.26 Z" fill="#ffff06" stroke="#333" stroke-width="0.6" stroke-linejoin="round"/>
<path d="M134.50,338.50 L182.52,332.26 A48.4,49.8 0 0 1 167.63,374.80 Z" fill="#a2d602" stroke="#333" stroke-width="0.6" stroke-linejoin="round"/>
<path d="M134.50,338.50 L167.63,374.80 A48.4,49.8 0 0 1 89.50,356.83 Z" fill="#ff048a" stroke="#333" stroke-width="0.6" stroke-linejoin="round"/>
<path d="M134.50,338.50 L89.50,356.83 A48.4,49.8 0 0 1 134.50,288.70 Z" fill="#0a0af2" stroke="#333" stroke-width="0.6" stroke-linejoin="round"/>
<path d="M323.10,338.30 L323.10,288.50 A51.4,49.8 0 0 1 373.59,328.97 Z" fill="#ffff06" stroke="#333" stroke-width="0.6" stroke-linejoin="round"/>
<path d="M323.10,338.30 L373.59,328.97 A51.4,49.8 0 0 1 366.50,364.98 Z" fill="#a2d602" stroke="#333" stroke-width="0.6" stroke-linejoin="round"/>
<path d="M323.10,338.30 L366.50,364.98 A51.4,49.8 0 0 1 272.11,344.54 Z" fill="#ff048a" stroke="#333" stroke-width="0.6" stroke-linejoin="round"/>
<path d="M323.10,338.30 L272.11,344.54 A51.4,49.8 0 0 1 323.10,288.50 Z" fill="#0a0af2" stroke="#333" stroke-width="0.6" stroke-linejoin="round"/>
<text transform="translate(115.00,324.55) scale(0.87,1)" font-size="8.7" font-weight="bold" fill="#fff" text-anchor="middle">α -</text>
<text transform="translate(115.40,333.75) scale(0.87,1)" font-size="8.7" font-weight="bold" fill="#fff" text-anchor="middle">31%</text>
<text transform="translate(155.30,319.85) scale(0.87,1)" font-size="8.7" font-weight="bold" fill="#1a1a1a" text-anchor="middle">δ - 23%</text>
<text transform="translate(165.80,351.85) scale(0.87,1)" font-size="8.7" font-weight="bold" fill="#1a1a1a" text-anchor="middle">γ - 15%</text>
<text transform="translate(126.50,362.55) scale(0.87,1)" font-size="8.7" font-weight="bold" fill="#3a0a28" text-anchor="middle">β - 31%</text>
<text transform="translate(302.40,317.95) scale(0.87,1)" font-size="8.7" font-weight="bold" fill="#fff" text-anchor="middle">α -</text>
<text transform="translate(301.50,329.15) scale(0.87,1)" font-size="8.7" font-weight="bold" fill="#fff" text-anchor="middle">27%</text>
<text transform="translate(342.20,312.05) scale(0.87,1)" font-size="8.7" font-weight="bold" fill="#1a1a1a" text-anchor="middle">δ -</text>
<text transform="translate(341.50,323.55) scale(0.87,1)" font-size="8.7" font-weight="bold" fill="#1a1a1a" text-anchor="middle">22%</text>
<text transform="translate(351.20,344.75) scale(0.87,1)" font-size="8.7" font-weight="bold" fill="#1a1a1a" text-anchor="middle">γ -</text>
<text transform="translate(350.70,354.05) scale(0.87,1)" font-size="8.7" font-weight="bold" fill="#1a1a1a" text-anchor="middle">12%</text>
<text transform="translate(315.40,361.35) scale(0.87,1)" font-size="8.7" font-weight="bold" fill="#3a0a28" text-anchor="middle">β -</text>
<text transform="translate(315.40,371.55) scale(0.87,1)" font-size="8.7" font-weight="bold" fill="#3a0a28" text-anchor="middle">39%</text>
<text x="0.00" y="294.70" font-size="17.5" font-weight="bold" fill="#000" text-anchor="start" >E</text>
<text x="2.1" y="323.5" font-size="13.5" font-weight="bold" fill="#1f6b1f">CD45<tspan font-size="8.6" dy="-4">mid</tspan><tspan dy="4">Rho</tspan><tspan font-size="8" dy="-4.2">-</tspan></text>
<text x="17.2" y="339.9" font-size="13.5" font-weight="bold" fill="#1f6b1f">EPCR<tspan font-size="8.6" dy="-3.9" dx="0.6">++</tspan></text>
<text x="22.20" y="356.60" font-size="13.5" font-weight="bold" fill="#1f6b1f" text-anchor="start" >(n=13)</text>
<text x="190.70" y="293.40" font-size="17.5" font-weight="bold" fill="#000" text-anchor="start" >F</text>
<text x="192.6" y="323.5" font-size="13.5" font-weight="bold" fill="#1f6b1f">CD45<tspan font-size="8.6" dy="-4">mid</tspan><tspan dy="4">lin</tspan><tspan font-size="8" dy="-4.2">-</tspan></text>
<text x="204.2" y="339.9" font-size="13.5" font-weight="bold" fill="#1f6b1f">Rho<tspan font-size="8" dy="-4.2" dx="-0.3">-</tspan><tspan dy="4.2" dx="-0.3">SP</tspan></text>
<text x="207.20" y="356.60" font-size="13.5" font-weight="bold" fill="#1f6b1f" text-anchor="start" >(n=49)</text>
</svg>
</body></html>
